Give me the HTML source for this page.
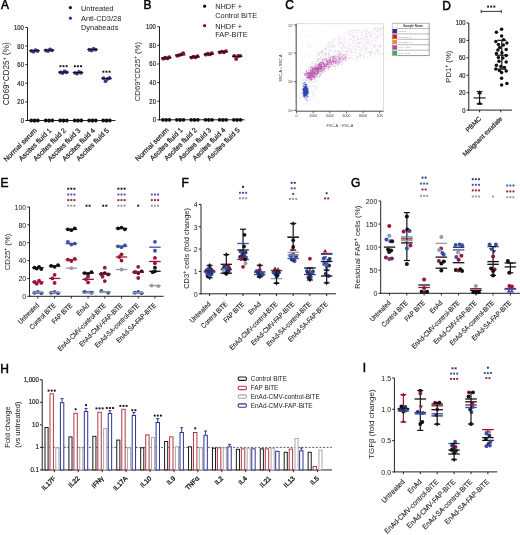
<!DOCTYPE html>
<html><head><meta charset="utf-8"><title>Figure</title>
<style>
html,body{margin:0;padding:0;background:#fff;width:520px;height:535px;overflow:hidden}
svg{display:block;font-family:"Liberation Sans",sans-serif;will-change:transform}
</style></head><body>
<svg width="520" height="535" viewBox="0 0 520 535">
<rect width="520" height="535" fill="#fff"/>
<text transform="translate(0.9 9.2) scale(0.9 1)" font-size="13.3" fill="#000" stroke="#000" stroke-width="0.55">A</text>
<line x1="27.5" y1="27.4" x2="27.5" y2="121" stroke="#222" stroke-width="1"/>
<line x1="25.3" y1="120.5" x2="27.5" y2="120.5" stroke="#222" stroke-width="1"/>
<text transform="translate(23.9 123.02) scale(0.84 1)" font-size="7" text-anchor="end" fill="#222" stroke="#222" stroke-width="0.18">0</text>
<line x1="25.3" y1="101.88" x2="27.5" y2="101.88" stroke="#222" stroke-width="1"/>
<text transform="translate(23.9 104.4) scale(0.84 1)" font-size="7" text-anchor="end" fill="#222" stroke="#222" stroke-width="0.18">20</text>
<line x1="25.3" y1="83.26" x2="27.5" y2="83.26" stroke="#222" stroke-width="1"/>
<text transform="translate(23.9 85.78) scale(0.84 1)" font-size="7" text-anchor="end" fill="#222" stroke="#222" stroke-width="0.18">40</text>
<line x1="25.3" y1="64.64" x2="27.5" y2="64.64" stroke="#222" stroke-width="1"/>
<text transform="translate(23.9 67.16) scale(0.84 1)" font-size="7" text-anchor="end" fill="#222" stroke="#222" stroke-width="0.18">60</text>
<line x1="25.3" y1="46.02" x2="27.5" y2="46.02" stroke="#222" stroke-width="1"/>
<text transform="translate(23.9 48.54) scale(0.84 1)" font-size="7" text-anchor="end" fill="#222" stroke="#222" stroke-width="0.18">80</text>
<line x1="25.3" y1="27.4" x2="27.5" y2="27.4" stroke="#222" stroke-width="1"/>
<text transform="translate(23.9 29.92) scale(0.84 1)" font-size="7" text-anchor="end" fill="#222" stroke="#222" stroke-width="0.18">100</text>
<line x1="27" y1="120.5" x2="115.5" y2="120.5" stroke="#222" stroke-width="1"/>
<line x1="34.5" y1="120.5" x2="34.5" y2="122.7" stroke="#222" stroke-width="1"/>
<line x1="49" y1="120.5" x2="49" y2="122.7" stroke="#222" stroke-width="1"/>
<line x1="63.5" y1="120.5" x2="63.5" y2="122.7" stroke="#222" stroke-width="1"/>
<line x1="78" y1="120.5" x2="78" y2="122.7" stroke="#222" stroke-width="1"/>
<line x1="92.5" y1="120.5" x2="92.5" y2="122.7" stroke="#222" stroke-width="1"/>
<line x1="106.5" y1="120.5" x2="106.5" y2="122.7" stroke="#222" stroke-width="1"/>
<text x="37.5" y="130.9" font-size="7" text-anchor="end" fill="#222" transform="rotate(-45 37.5 130.9)" stroke="#222" stroke-width="0.22">Normal serum</text>
<text x="52" y="130.9" font-size="7" text-anchor="end" fill="#222" transform="rotate(-45 52 130.9)" stroke="#222" stroke-width="0.22">Ascites fluid 1</text>
<text x="66.5" y="130.9" font-size="7" text-anchor="end" fill="#222" transform="rotate(-45 66.5 130.9)" stroke="#222" stroke-width="0.22">Ascites fluid 2</text>
<text x="81" y="130.9" font-size="7" text-anchor="end" fill="#222" transform="rotate(-45 81 130.9)" stroke="#222" stroke-width="0.22">Ascites fluid 3</text>
<text x="95.5" y="130.9" font-size="7" text-anchor="end" fill="#222" transform="rotate(-45 95.5 130.9)" stroke="#222" stroke-width="0.22">Ascites fluid 4</text>
<text x="109.5" y="130.9" font-size="7" text-anchor="end" fill="#222" transform="rotate(-45 109.5 130.9)" stroke="#222" stroke-width="0.22">Ascites fluid 5</text>
<text x="8.9" y="73.8" font-size="8.2" text-anchor="middle" fill="#222" transform="rotate(-90 8.9 73.8)">CD69<tspan font-size="5.3" dy="-2.7">+</tspan><tspan dy="2.7">CD25</tspan><tspan font-size="5.3" dy="-2.7">+</tspan><tspan dy="2.7"> (%)</tspan></text>
<circle cx="31.2" cy="120.5" r="1.9" fill="#111"/>
<circle cx="34.5" cy="120.5" r="1.9" fill="#111"/>
<circle cx="37.8" cy="120.5" r="1.9" fill="#111"/>
<circle cx="31.5" cy="50.97" r="1.9" fill="#35388a"/>
<circle cx="33.5" cy="51.67" r="1.9" fill="#35388a"/>
<circle cx="35.5" cy="50.07" r="1.9" fill="#35388a"/>
<circle cx="37.5" cy="50.88" r="1.9" fill="#35388a"/>
<line x1="29.25" y1="50.67" x2="39.75" y2="50.67" stroke="#111" stroke-width="1.1"/>
<circle cx="45.7" cy="120.5" r="1.9" fill="#111"/>
<circle cx="49" cy="120.5" r="1.9" fill="#111"/>
<circle cx="52.3" cy="120.5" r="1.9" fill="#111"/>
<circle cx="46" cy="50.42" r="1.9" fill="#35388a"/>
<circle cx="48" cy="51.12" r="1.9" fill="#35388a"/>
<circle cx="50" cy="49.52" r="1.9" fill="#35388a"/>
<circle cx="52" cy="50.32" r="1.9" fill="#35388a"/>
<line x1="43.75" y1="50.12" x2="54.25" y2="50.12" stroke="#111" stroke-width="1.1"/>
<circle cx="60.2" cy="120.5" r="1.9" fill="#111"/>
<circle cx="63.5" cy="120.5" r="1.9" fill="#111"/>
<circle cx="66.8" cy="120.5" r="1.9" fill="#111"/>
<circle cx="60.5" cy="72.39" r="1.9" fill="#35388a"/>
<circle cx="62.5" cy="73.09" r="1.9" fill="#35388a"/>
<circle cx="64.5" cy="71.49" r="1.9" fill="#35388a"/>
<circle cx="66.5" cy="72.29" r="1.9" fill="#35388a"/>
<line x1="58.25" y1="72.09" x2="68.75" y2="72.09" stroke="#111" stroke-width="1.1"/>
<circle cx="74.7" cy="120.5" r="1.9" fill="#111"/>
<circle cx="78" cy="120.5" r="1.9" fill="#111"/>
<circle cx="81.3" cy="120.5" r="1.9" fill="#111"/>
<circle cx="75" cy="72.85" r="1.9" fill="#35388a"/>
<circle cx="77" cy="73.55" r="1.9" fill="#35388a"/>
<circle cx="79" cy="71.95" r="1.9" fill="#35388a"/>
<circle cx="81" cy="72.75" r="1.9" fill="#35388a"/>
<line x1="72.75" y1="72.55" x2="83.25" y2="72.55" stroke="#111" stroke-width="1.1"/>
<circle cx="89.2" cy="120.5" r="1.9" fill="#111"/>
<circle cx="92.5" cy="120.5" r="1.9" fill="#111"/>
<circle cx="95.8" cy="120.5" r="1.9" fill="#111"/>
<circle cx="89.5" cy="49.76" r="1.9" fill="#35388a"/>
<circle cx="91.5" cy="50.46" r="1.9" fill="#35388a"/>
<circle cx="93.5" cy="48.86" r="1.9" fill="#35388a"/>
<circle cx="95.5" cy="49.66" r="1.9" fill="#35388a"/>
<line x1="87.25" y1="49.46" x2="97.75" y2="49.46" stroke="#111" stroke-width="1.1"/>
<circle cx="103.2" cy="120.5" r="1.9" fill="#111"/>
<circle cx="106.5" cy="120.5" r="1.9" fill="#111"/>
<circle cx="109.8" cy="120.5" r="1.9" fill="#111"/>
<circle cx="103.5" cy="78.1" r="1.9" fill="#35388a"/>
<circle cx="105.5" cy="81.2" r="1.9" fill="#35388a"/>
<circle cx="107.5" cy="78.9" r="1.9" fill="#35388a"/>
<circle cx="109.5" cy="78" r="1.9" fill="#35388a"/>
<line x1="101.25" y1="78.6" x2="111.75" y2="78.6" stroke="#111" stroke-width="1.1"/>
<rect x="59.45" y="65.25" width="1.9" height="1.9" fill="#111" stroke="none" stroke-width="1"/>
<rect x="62.55" y="65.25" width="1.9" height="1.9" fill="#111" stroke="none" stroke-width="1"/>
<rect x="65.65" y="65.25" width="1.9" height="1.9" fill="#111" stroke="none" stroke-width="1"/>
<rect x="73.95" y="65.25" width="1.9" height="1.9" fill="#111" stroke="none" stroke-width="1"/>
<rect x="77.05" y="65.25" width="1.9" height="1.9" fill="#111" stroke="none" stroke-width="1"/>
<rect x="80.15" y="65.25" width="1.9" height="1.9" fill="#111" stroke="none" stroke-width="1"/>
<rect x="102.45" y="70.75" width="1.9" height="1.9" fill="#111" stroke="none" stroke-width="1"/>
<rect x="105.55" y="70.75" width="1.9" height="1.9" fill="#111" stroke="none" stroke-width="1"/>
<rect x="108.65" y="70.75" width="1.9" height="1.9" fill="#111" stroke="none" stroke-width="1"/>
<circle cx="70.4" cy="7.6" r="1.6" fill="#111"/>
<text x="81" y="10.6" font-size="7.4" fill="#222">Untreated</text>
<circle cx="70.4" cy="18.2" r="1.6" fill="#35388a"/>
<text x="81" y="21.2" font-size="7.4" fill="#222">Anti-CD3/28</text>
<text x="81" y="29.9" font-size="7.4" fill="#222">Dynabeads</text>
<text transform="translate(143.5 8.9) scale(0.9 1)" font-size="13.3" fill="#000" stroke="#000" stroke-width="0.55">B</text>
<line x1="159.5" y1="26.7" x2="159.5" y2="120.3" stroke="#222" stroke-width="1"/>
<line x1="157.3" y1="119.8" x2="159.5" y2="119.8" stroke="#222" stroke-width="1"/>
<text transform="translate(155.9 122.32) scale(0.84 1)" font-size="7" text-anchor="end" fill="#222" stroke="#222" stroke-width="0.18">0</text>
<line x1="157.3" y1="101.18" x2="159.5" y2="101.18" stroke="#222" stroke-width="1"/>
<text transform="translate(155.9 103.7) scale(0.84 1)" font-size="7" text-anchor="end" fill="#222" stroke="#222" stroke-width="0.18">20</text>
<line x1="157.3" y1="82.56" x2="159.5" y2="82.56" stroke="#222" stroke-width="1"/>
<text transform="translate(155.9 85.08) scale(0.84 1)" font-size="7" text-anchor="end" fill="#222" stroke="#222" stroke-width="0.18">40</text>
<line x1="157.3" y1="63.94" x2="159.5" y2="63.94" stroke="#222" stroke-width="1"/>
<text transform="translate(155.9 66.46) scale(0.84 1)" font-size="7" text-anchor="end" fill="#222" stroke="#222" stroke-width="0.18">60</text>
<line x1="157.3" y1="45.32" x2="159.5" y2="45.32" stroke="#222" stroke-width="1"/>
<text transform="translate(155.9 47.84) scale(0.84 1)" font-size="7" text-anchor="end" fill="#222" stroke="#222" stroke-width="0.18">80</text>
<line x1="157.3" y1="26.7" x2="159.5" y2="26.7" stroke="#222" stroke-width="1"/>
<text transform="translate(155.9 29.22) scale(0.84 1)" font-size="7" text-anchor="end" fill="#222" stroke="#222" stroke-width="0.18">100</text>
<line x1="159" y1="119.8" x2="244.6" y2="119.8" stroke="#222" stroke-width="1"/>
<line x1="166.2" y1="119.8" x2="166.2" y2="122" stroke="#222" stroke-width="1"/>
<line x1="180.2" y1="119.8" x2="180.2" y2="122" stroke="#222" stroke-width="1"/>
<line x1="194.5" y1="119.8" x2="194.5" y2="122" stroke="#222" stroke-width="1"/>
<line x1="208.8" y1="119.8" x2="208.8" y2="122" stroke="#222" stroke-width="1"/>
<line x1="222.9" y1="119.8" x2="222.9" y2="122" stroke="#222" stroke-width="1"/>
<line x1="237.2" y1="119.8" x2="237.2" y2="122" stroke="#222" stroke-width="1"/>
<text x="169.2" y="130.4" font-size="7" text-anchor="end" fill="#222" transform="rotate(-45 169.2 130.4)" stroke="#222" stroke-width="0.22">Normal serum</text>
<text x="183.2" y="130.4" font-size="7" text-anchor="end" fill="#222" transform="rotate(-45 183.2 130.4)" stroke="#222" stroke-width="0.22">Ascites fluid 1</text>
<text x="197.5" y="130.4" font-size="7" text-anchor="end" fill="#222" transform="rotate(-45 197.5 130.4)" stroke="#222" stroke-width="0.22">Ascites fluid 2</text>
<text x="211.8" y="130.4" font-size="7" text-anchor="end" fill="#222" transform="rotate(-45 211.8 130.4)" stroke="#222" stroke-width="0.22">Ascites fluid 3</text>
<text x="225.9" y="130.4" font-size="7" text-anchor="end" fill="#222" transform="rotate(-45 225.9 130.4)" stroke="#222" stroke-width="0.22">Ascites fluid 4</text>
<text x="240.2" y="130.4" font-size="7" text-anchor="end" fill="#222" transform="rotate(-45 240.2 130.4)" stroke="#222" stroke-width="0.22">Ascites fluid 5</text>
<text x="139.8" y="71.6" font-size="7.7" text-anchor="middle" fill="#222" transform="rotate(-90 139.8 71.6)">CD69<tspan font-size="5" dy="-2.5">+</tspan><tspan dy="2.5">CD25</tspan><tspan font-size="5" dy="-2.5">+</tspan><tspan dy="2.5"> (%)</tspan></text>
<circle cx="162.9" cy="119.8" r="1.9" fill="#111"/>
<circle cx="166.2" cy="119.8" r="1.9" fill="#111"/>
<circle cx="169.5" cy="119.8" r="1.9" fill="#111"/>
<circle cx="163.2" cy="58.67" r="1.9" fill="#7e1426"/>
<circle cx="165.2" cy="57.77" r="1.9" fill="#7e1426"/>
<circle cx="167.2" cy="58.47" r="1.9" fill="#7e1426"/>
<circle cx="169.2" cy="57.27" r="1.9" fill="#7e1426"/>
<line x1="160.95" y1="58.07" x2="171.45" y2="58.07" stroke="#111" stroke-width="1.1"/>
<circle cx="176.9" cy="119.8" r="1.9" fill="#111"/>
<circle cx="180.2" cy="119.8" r="1.9" fill="#111"/>
<circle cx="183.5" cy="119.8" r="1.9" fill="#111"/>
<circle cx="177.2" cy="55.8" r="1.9" fill="#7e1426"/>
<circle cx="179.2" cy="55.2" r="1.9" fill="#7e1426"/>
<circle cx="181.2" cy="54.4" r="1.9" fill="#7e1426"/>
<circle cx="183.2" cy="53.2" r="1.9" fill="#7e1426"/>
<line x1="174.95" y1="55" x2="185.45" y2="55" stroke="#111" stroke-width="1.1"/>
<circle cx="191.2" cy="119.8" r="1.9" fill="#111"/>
<circle cx="194.5" cy="119.8" r="1.9" fill="#111"/>
<circle cx="197.8" cy="119.8" r="1.9" fill="#111"/>
<circle cx="191.5" cy="57.56" r="1.9" fill="#7e1426"/>
<circle cx="193.5" cy="56.66" r="1.9" fill="#7e1426"/>
<circle cx="195.5" cy="57.36" r="1.9" fill="#7e1426"/>
<circle cx="197.5" cy="56.16" r="1.9" fill="#7e1426"/>
<line x1="189.25" y1="56.96" x2="199.75" y2="56.96" stroke="#111" stroke-width="1.1"/>
<circle cx="205.5" cy="119.8" r="1.9" fill="#111"/>
<circle cx="208.8" cy="119.8" r="1.9" fill="#111"/>
<circle cx="212.1" cy="119.8" r="1.9" fill="#111"/>
<circle cx="205.8" cy="54.67" r="1.9" fill="#7e1426"/>
<circle cx="207.8" cy="53.77" r="1.9" fill="#7e1426"/>
<circle cx="209.8" cy="54.47" r="1.9" fill="#7e1426"/>
<circle cx="211.8" cy="53.27" r="1.9" fill="#7e1426"/>
<line x1="203.55" y1="54.07" x2="214.05" y2="54.07" stroke="#111" stroke-width="1.1"/>
<circle cx="219.6" cy="119.8" r="1.9" fill="#111"/>
<circle cx="222.9" cy="119.8" r="1.9" fill="#111"/>
<circle cx="226.2" cy="119.8" r="1.9" fill="#111"/>
<circle cx="219.9" cy="52.44" r="1.9" fill="#7e1426"/>
<circle cx="221.9" cy="51.54" r="1.9" fill="#7e1426"/>
<circle cx="223.9" cy="52.24" r="1.9" fill="#7e1426"/>
<circle cx="225.9" cy="51.04" r="1.9" fill="#7e1426"/>
<line x1="217.65" y1="51.84" x2="228.15" y2="51.84" stroke="#111" stroke-width="1.1"/>
<circle cx="233.9" cy="119.8" r="1.9" fill="#111"/>
<circle cx="237.2" cy="119.8" r="1.9" fill="#111"/>
<circle cx="240.5" cy="119.8" r="1.9" fill="#111"/>
<circle cx="234.2" cy="55.91" r="1.9" fill="#7e1426"/>
<circle cx="236.2" cy="58.91" r="1.9" fill="#7e1426"/>
<circle cx="238.2" cy="56.01" r="1.9" fill="#7e1426"/>
<circle cx="240.2" cy="55.81" r="1.9" fill="#7e1426"/>
<line x1="231.95" y1="56.31" x2="242.45" y2="56.31" stroke="#111" stroke-width="1.1"/>
<circle cx="204.6" cy="6.2" r="1.6" fill="#111"/>
<text x="215.2" y="9.3" font-size="7.4" fill="#222">NHDF +</text>
<text x="215.2" y="17.8" font-size="7.4" fill="#222">Control BiTE</text>
<circle cx="204.6" cy="25.7" r="1.6" fill="#7e1426"/>
<text x="215.2" y="28.8" font-size="7.4" fill="#222">NHDF +</text>
<text x="215.2" y="37.4" font-size="7.4" fill="#222">FAP-BiTE</text>
<text transform="translate(285.2 8.9) scale(0.9 1)" font-size="13.3" fill="#000" stroke="#000" stroke-width="0.55">C</text>
<rect x="296.2" y="23.8" width="87.3" height="87.4" fill="#fff" stroke="#c8c8c8" stroke-width="0.6"/>
<line x1="296.2" y1="23.8" x2="296.2" y2="111.2" stroke="#333" stroke-width="0.8"/>
<line x1="296.2" y1="111.2" x2="383.5" y2="111.2" stroke="#333" stroke-width="0.8"/>
<line x1="294.2" y1="25" x2="296.2" y2="25" stroke="#333" stroke-width="0.8"/>
<text x="293.2" y="26.6" font-size="3.5" text-anchor="end" fill="#444">10<tspan font-size="2.5" dy="-1.5">5</tspan></text>
<line x1="294.2" y1="53" x2="296.2" y2="53" stroke="#333" stroke-width="0.8"/>
<text x="293.2" y="54.6" font-size="3.5" text-anchor="end" fill="#444">10<tspan font-size="2.5" dy="-1.5">4</tspan></text>
<line x1="294.2" y1="81.6" x2="296.2" y2="81.6" stroke="#333" stroke-width="0.8"/>
<text x="293.2" y="83.2" font-size="3.5" text-anchor="end" fill="#444">10<tspan font-size="2.5" dy="-1.5">3</tspan></text>
<line x1="294.2" y1="110.4" x2="296.2" y2="110.4" stroke="#333" stroke-width="0.8"/>
<text x="293.2" y="112" font-size="3.5" text-anchor="end" fill="#444">10<tspan font-size="2.5" dy="-1.5">2</tspan></text>
<line x1="295.2" y1="101.82" x2="296.2" y2="101.82" stroke="#666" stroke-width="0.4"/>
<line x1="295.2" y1="96.8" x2="296.2" y2="96.8" stroke="#666" stroke-width="0.4"/>
<line x1="295.2" y1="93.24" x2="296.2" y2="93.24" stroke="#666" stroke-width="0.4"/>
<line x1="295.2" y1="90.48" x2="296.2" y2="90.48" stroke="#666" stroke-width="0.4"/>
<line x1="295.2" y1="88.22" x2="296.2" y2="88.22" stroke="#666" stroke-width="0.4"/>
<line x1="295.2" y1="86.31" x2="296.2" y2="86.31" stroke="#666" stroke-width="0.4"/>
<line x1="295.2" y1="84.66" x2="296.2" y2="84.66" stroke="#666" stroke-width="0.4"/>
<line x1="295.2" y1="83.2" x2="296.2" y2="83.2" stroke="#666" stroke-width="0.4"/>
<line x1="295.2" y1="73.32" x2="296.2" y2="73.32" stroke="#666" stroke-width="0.4"/>
<line x1="295.2" y1="68.3" x2="296.2" y2="68.3" stroke="#666" stroke-width="0.4"/>
<line x1="295.2" y1="64.74" x2="296.2" y2="64.74" stroke="#666" stroke-width="0.4"/>
<line x1="295.2" y1="61.98" x2="296.2" y2="61.98" stroke="#666" stroke-width="0.4"/>
<line x1="295.2" y1="59.72" x2="296.2" y2="59.72" stroke="#666" stroke-width="0.4"/>
<line x1="295.2" y1="57.81" x2="296.2" y2="57.81" stroke="#666" stroke-width="0.4"/>
<line x1="295.2" y1="56.16" x2="296.2" y2="56.16" stroke="#666" stroke-width="0.4"/>
<line x1="295.2" y1="54.7" x2="296.2" y2="54.7" stroke="#666" stroke-width="0.4"/>
<line x1="295.2" y1="44.82" x2="296.2" y2="44.82" stroke="#666" stroke-width="0.4"/>
<line x1="295.2" y1="39.8" x2="296.2" y2="39.8" stroke="#666" stroke-width="0.4"/>
<line x1="295.2" y1="36.24" x2="296.2" y2="36.24" stroke="#666" stroke-width="0.4"/>
<line x1="295.2" y1="33.48" x2="296.2" y2="33.48" stroke="#666" stroke-width="0.4"/>
<line x1="295.2" y1="31.22" x2="296.2" y2="31.22" stroke="#666" stroke-width="0.4"/>
<line x1="295.2" y1="29.31" x2="296.2" y2="29.31" stroke="#666" stroke-width="0.4"/>
<line x1="295.2" y1="27.66" x2="296.2" y2="27.66" stroke="#666" stroke-width="0.4"/>
<line x1="295.2" y1="26.2" x2="296.2" y2="26.2" stroke="#666" stroke-width="0.4"/>
<line x1="296.6" y1="111.2" x2="296.6" y2="113.2" stroke="#333" stroke-width="0.8"/>
<text x="296.6" y="117.2" font-size="3.6" text-anchor="middle" fill="#444">0</text>
<line x1="313.2" y1="111.2" x2="313.2" y2="113.2" stroke="#333" stroke-width="0.8"/>
<text x="313.2" y="117.2" font-size="3.6" text-anchor="middle" fill="#444">2000</text>
<line x1="329.8" y1="111.2" x2="329.8" y2="113.2" stroke="#333" stroke-width="0.8"/>
<text x="329.8" y="117.2" font-size="3.6" text-anchor="middle" fill="#444">4000</text>
<line x1="346.4" y1="111.2" x2="346.4" y2="113.2" stroke="#333" stroke-width="0.8"/>
<text x="346.4" y="117.2" font-size="3.6" text-anchor="middle" fill="#444">6000</text>
<line x1="363" y1="111.2" x2="363" y2="113.2" stroke="#333" stroke-width="0.8"/>
<text x="363" y="117.2" font-size="3.6" text-anchor="middle" fill="#444">8000</text>
<line x1="379.6" y1="111.2" x2="379.6" y2="113.2" stroke="#333" stroke-width="0.8"/>
<text x="379.6" y="117.2" font-size="3.6" text-anchor="middle" fill="#444">10K</text>
<text x="340" y="126.5" font-size="3.8" text-anchor="middle" fill="#444">FSC-A :: FSC-A</text>
<text x="281.5" y="68" font-size="3.8" text-anchor="middle" fill="#222" transform="rotate(-90 281.5 68)">SSC-A :: SSC-A</text>
<g stroke="none">
<rect x="356.45" y="58.78" width="0.9" height="0.9" fill="#c8a8c8" fill-opacity="0.38"/>
<rect x="375.84" y="31.22" width="0.9" height="0.9" fill="#c8a8c8" fill-opacity="0.38"/>
<rect x="367.26" y="51.44" width="0.9" height="0.9" fill="#c8a8c8" fill-opacity="0.38"/>
<rect x="326.13" y="54.35" width="0.9" height="0.9" fill="#c8a8c8" fill-opacity="0.38"/>
<rect x="332.07" y="59.91" width="0.9" height="0.9" fill="#c8a8c8" fill-opacity="0.38"/>
<rect x="374.18" y="52.61" width="0.9" height="0.9" fill="#c8a8c8" fill-opacity="0.38"/>
<rect x="306.69" y="83.31" width="0.9" height="0.9" fill="#c8a8c8" fill-opacity="0.38"/>
<rect x="370.49" y="34.96" width="0.9" height="0.9" fill="#c8a8c8" fill-opacity="0.38"/>
<rect x="368.78" y="40.63" width="0.9" height="0.9" fill="#c8a8c8" fill-opacity="0.38"/>
<rect x="344.87" y="59.98" width="0.9" height="0.9" fill="#c8a8c8" fill-opacity="0.38"/>
<rect x="332.29" y="64.38" width="0.9" height="0.9" fill="#c8a8c8" fill-opacity="0.38"/>
<rect x="330.36" y="49.82" width="0.9" height="0.9" fill="#c8a8c8" fill-opacity="0.38"/>
<rect x="328.5" y="66.42" width="0.9" height="0.9" fill="#c8a8c8" fill-opacity="0.38"/>
<rect x="343.16" y="44.54" width="0.9" height="0.9" fill="#c8a8c8" fill-opacity="0.38"/>
<rect x="347.6" y="41.67" width="0.9" height="0.9" fill="#c8a8c8" fill-opacity="0.38"/>
<rect x="351.22" y="52.27" width="0.9" height="0.9" fill="#c8a8c8" fill-opacity="0.38"/>
<rect x="368.47" y="40.53" width="0.9" height="0.9" fill="#c8a8c8" fill-opacity="0.38"/>
<rect x="356.24" y="40.21" width="0.9" height="0.9" fill="#c8a8c8" fill-opacity="0.38"/>
<rect x="382.23" y="38.34" width="0.9" height="0.9" fill="#c8a8c8" fill-opacity="0.38"/>
<rect x="325.33" y="48.18" width="0.9" height="0.9" fill="#c8a8c8" fill-opacity="0.38"/>
<rect x="320.82" y="50.6" width="0.9" height="0.9" fill="#c8a8c8" fill-opacity="0.38"/>
<rect x="355.53" y="51.52" width="0.9" height="0.9" fill="#c8a8c8" fill-opacity="0.38"/>
<rect x="310.62" y="72.71" width="0.9" height="0.9" fill="#c8a8c8" fill-opacity="0.38"/>
<rect x="309.83" y="75.37" width="0.9" height="0.9" fill="#c8a8c8" fill-opacity="0.38"/>
<rect x="348.37" y="54.47" width="0.9" height="0.9" fill="#c8a8c8" fill-opacity="0.38"/>
<rect x="344.74" y="38.56" width="0.9" height="0.9" fill="#c8a8c8" fill-opacity="0.38"/>
<rect x="377.24" y="33.28" width="0.9" height="0.9" fill="#c8a8c8" fill-opacity="0.38"/>
<rect x="356.75" y="36.85" width="0.9" height="0.9" fill="#c8a8c8" fill-opacity="0.38"/>
<rect x="348.31" y="39.18" width="0.9" height="0.9" fill="#c8a8c8" fill-opacity="0.38"/>
<rect x="347.03" y="53.69" width="0.9" height="0.9" fill="#c8a8c8" fill-opacity="0.38"/>
<rect x="327.91" y="51.91" width="0.9" height="0.9" fill="#c8a8c8" fill-opacity="0.38"/>
<rect x="307.42" y="72.71" width="0.9" height="0.9" fill="#c8a8c8" fill-opacity="0.38"/>
<rect x="323.47" y="62.02" width="0.9" height="0.9" fill="#c8a8c8" fill-opacity="0.38"/>
<rect x="361.28" y="33.6" width="0.9" height="0.9" fill="#c8a8c8" fill-opacity="0.38"/>
<rect x="324.14" y="48.48" width="0.9" height="0.9" fill="#c8a8c8" fill-opacity="0.38"/>
<rect x="337.43" y="55.43" width="0.9" height="0.9" fill="#c8a8c8" fill-opacity="0.38"/>
<rect x="306.5" y="80.09" width="0.9" height="0.9" fill="#c8a8c8" fill-opacity="0.38"/>
<rect x="371.12" y="35.77" width="0.9" height="0.9" fill="#c8a8c8" fill-opacity="0.38"/>
<rect x="320.34" y="64.29" width="0.9" height="0.9" fill="#c8a8c8" fill-opacity="0.38"/>
<rect x="329.51" y="41.41" width="0.9" height="0.9" fill="#c8a8c8" fill-opacity="0.38"/>
<rect x="374.66" y="38.48" width="0.9" height="0.9" fill="#c8a8c8" fill-opacity="0.38"/>
<rect x="347.99" y="47.73" width="0.9" height="0.9" fill="#c8a8c8" fill-opacity="0.38"/>
<rect x="372.32" y="34.39" width="0.9" height="0.9" fill="#c8a8c8" fill-opacity="0.38"/>
<rect x="357.51" y="38.9" width="0.9" height="0.9" fill="#c8a8c8" fill-opacity="0.38"/>
<rect x="364.85" y="45.79" width="0.9" height="0.9" fill="#c8a8c8" fill-opacity="0.38"/>
<rect x="314.95" y="68.35" width="0.9" height="0.9" fill="#c8a8c8" fill-opacity="0.38"/>
<rect x="350.31" y="33.75" width="0.9" height="0.9" fill="#c8a8c8" fill-opacity="0.38"/>
<rect x="347.84" y="51.73" width="0.9" height="0.9" fill="#c8a8c8" fill-opacity="0.38"/>
<rect x="374.02" y="29.19" width="0.9" height="0.9" fill="#c8a8c8" fill-opacity="0.38"/>
<rect x="336.8" y="63.53" width="0.9" height="0.9" fill="#c8a8c8" fill-opacity="0.38"/>
<rect x="354.49" y="34.8" width="0.9" height="0.9" fill="#c8a8c8" fill-opacity="0.38"/>
<rect x="312.05" y="65.49" width="0.9" height="0.9" fill="#c8a8c8" fill-opacity="0.38"/>
<rect x="338.81" y="40.43" width="0.9" height="0.9" fill="#c8a8c8" fill-opacity="0.38"/>
<rect x="333.85" y="65.14" width="0.9" height="0.9" fill="#c8a8c8" fill-opacity="0.38"/>
<rect x="319.98" y="56.57" width="0.9" height="0.9" fill="#c8a8c8" fill-opacity="0.38"/>
<rect x="370.15" y="44.91" width="0.9" height="0.9" fill="#c8a8c8" fill-opacity="0.38"/>
<rect x="338.19" y="63.66" width="0.9" height="0.9" fill="#c8a8c8" fill-opacity="0.38"/>
<rect x="381.53" y="53.03" width="0.9" height="0.9" fill="#c8a8c8" fill-opacity="0.38"/>
<rect x="353.89" y="29.96" width="0.9" height="0.9" fill="#c8a8c8" fill-opacity="0.38"/>
<rect x="354.99" y="44.49" width="0.9" height="0.9" fill="#c8a8c8" fill-opacity="0.38"/>
<rect x="357.38" y="46.6" width="0.9" height="0.9" fill="#c8a8c8" fill-opacity="0.38"/>
<rect x="360.16" y="49.25" width="0.9" height="0.9" fill="#c8a8c8" fill-opacity="0.38"/>
<rect x="320.03" y="57.65" width="0.9" height="0.9" fill="#c8a8c8" fill-opacity="0.38"/>
<rect x="342.8" y="42.37" width="0.9" height="0.9" fill="#c8a8c8" fill-opacity="0.38"/>
<rect x="327.28" y="42.83" width="0.9" height="0.9" fill="#c8a8c8" fill-opacity="0.38"/>
<rect x="339.95" y="35.06" width="0.9" height="0.9" fill="#c8a8c8" fill-opacity="0.38"/>
<rect x="315.41" y="67.04" width="0.9" height="0.9" fill="#c8a8c8" fill-opacity="0.38"/>
<rect x="380.77" y="28.43" width="0.9" height="0.9" fill="#c8a8c8" fill-opacity="0.38"/>
<rect x="325.31" y="49.78" width="0.9" height="0.9" fill="#c8a8c8" fill-opacity="0.38"/>
<rect x="359.83" y="38.18" width="0.9" height="0.9" fill="#c8a8c8" fill-opacity="0.38"/>
<rect x="332.09" y="39.93" width="0.9" height="0.9" fill="#c8a8c8" fill-opacity="0.38"/>
<rect x="374.22" y="27.75" width="0.9" height="0.9" fill="#c8a8c8" fill-opacity="0.38"/>
<rect x="359.14" y="56.18" width="0.9" height="0.9" fill="#c8a8c8" fill-opacity="0.38"/>
<rect x="318.41" y="61.24" width="0.9" height="0.9" fill="#c8a8c8" fill-opacity="0.38"/>
<rect x="372.18" y="32.99" width="0.9" height="0.9" fill="#c8a8c8" fill-opacity="0.38"/>
<rect x="379.17" y="46.56" width="0.9" height="0.9" fill="#c8a8c8" fill-opacity="0.38"/>
<rect x="376.31" y="26.95" width="0.9" height="0.9" fill="#c8a8c8" fill-opacity="0.38"/>
<rect x="352.41" y="36.33" width="0.9" height="0.9" fill="#c8a8c8" fill-opacity="0.38"/>
<rect x="319.58" y="72.21" width="0.9" height="0.9" fill="#c8a8c8" fill-opacity="0.38"/>
<rect x="323.47" y="68.38" width="0.9" height="0.9" fill="#c8a8c8" fill-opacity="0.38"/>
<rect x="377.99" y="44.67" width="0.9" height="0.9" fill="#c8a8c8" fill-opacity="0.38"/>
<rect x="351.13" y="31.78" width="0.9" height="0.9" fill="#c8a8c8" fill-opacity="0.38"/>
<rect x="322.5" y="55.11" width="0.9" height="0.9" fill="#c8a8c8" fill-opacity="0.38"/>
<rect x="374.92" y="27.61" width="0.9" height="0.9" fill="#c8a8c8" fill-opacity="0.38"/>
<rect x="357.64" y="34.97" width="0.9" height="0.9" fill="#c8a8c8" fill-opacity="0.38"/>
<rect x="352.41" y="29.57" width="0.9" height="0.9" fill="#c8a8c8" fill-opacity="0.38"/>
<rect x="337.95" y="38.68" width="0.9" height="0.9" fill="#c8a8c8" fill-opacity="0.38"/>
<rect x="340.59" y="52.34" width="0.9" height="0.9" fill="#c8a8c8" fill-opacity="0.38"/>
<rect x="327.27" y="45.34" width="0.9" height="0.9" fill="#c8a8c8" fill-opacity="0.38"/>
<rect x="310.06" y="66.51" width="0.9" height="0.9" fill="#c8a8c8" fill-opacity="0.38"/>
<rect x="374.37" y="52.9" width="0.9" height="0.9" fill="#c8a8c8" fill-opacity="0.38"/>
<rect x="344.86" y="41.68" width="0.9" height="0.9" fill="#c8a8c8" fill-opacity="0.38"/>
<rect x="350.79" y="39.23" width="0.9" height="0.9" fill="#c8a8c8" fill-opacity="0.38"/>
<rect x="333.78" y="39.56" width="0.9" height="0.9" fill="#c8a8c8" fill-opacity="0.38"/>
<rect x="365.53" y="51.21" width="0.9" height="0.9" fill="#c8a8c8" fill-opacity="0.38"/>
<rect x="308.8" y="76.53" width="0.9" height="0.9" fill="#c8a8c8" fill-opacity="0.38"/>
<rect x="337.64" y="51.02" width="0.9" height="0.9" fill="#c8a8c8" fill-opacity="0.38"/>
<rect x="309.31" y="75.04" width="0.9" height="0.9" fill="#c8a8c8" fill-opacity="0.38"/>
<rect x="317.67" y="54.68" width="0.9" height="0.9" fill="#c8a8c8" fill-opacity="0.38"/>
<rect x="380.72" y="33.65" width="0.9" height="0.9" fill="#c8a8c8" fill-opacity="0.38"/>
<rect x="358.81" y="45.86" width="0.9" height="0.9" fill="#c8a8c8" fill-opacity="0.38"/>
<rect x="341.89" y="61.29" width="0.9" height="0.9" fill="#c8a8c8" fill-opacity="0.38"/>
<rect x="349.02" y="54.69" width="0.9" height="0.9" fill="#c8a8c8" fill-opacity="0.38"/>
<rect x="374.13" y="45.37" width="0.9" height="0.9" fill="#c8a8c8" fill-opacity="0.38"/>
<rect x="335.49" y="51.08" width="0.9" height="0.9" fill="#c8a8c8" fill-opacity="0.38"/>
<rect x="353.91" y="29.12" width="0.9" height="0.9" fill="#c8a8c8" fill-opacity="0.38"/>
<rect x="360.68" y="54.83" width="0.9" height="0.9" fill="#c8a8c8" fill-opacity="0.38"/>
<rect x="336.35" y="37.75" width="0.9" height="0.9" fill="#c8a8c8" fill-opacity="0.38"/>
<rect x="348.68" y="33.63" width="0.9" height="0.9" fill="#c8a8c8" fill-opacity="0.38"/>
<rect x="366.52" y="48.02" width="0.9" height="0.9" fill="#c8a8c8" fill-opacity="0.38"/>
<rect x="376.68" y="49.91" width="0.9" height="0.9" fill="#c8a8c8" fill-opacity="0.38"/>
<rect x="320.05" y="67.94" width="0.9" height="0.9" fill="#c8a8c8" fill-opacity="0.38"/>
<rect x="378.37" y="39.39" width="0.9" height="0.9" fill="#c8a8c8" fill-opacity="0.38"/>
<rect x="306.67" y="71.55" width="0.9" height="0.9" fill="#c8a8c8" fill-opacity="0.38"/>
<rect x="365.65" y="28.66" width="0.9" height="0.9" fill="#c8a8c8" fill-opacity="0.38"/>
<rect x="369.74" y="52.17" width="0.9" height="0.9" fill="#c8a8c8" fill-opacity="0.38"/>
<rect x="318.85" y="73.02" width="0.9" height="0.9" fill="#c8a8c8" fill-opacity="0.38"/>
<rect x="341.19" y="40.62" width="0.9" height="0.9" fill="#c8a8c8" fill-opacity="0.38"/>
<rect x="370.07" y="52.54" width="0.9" height="0.9" fill="#c8a8c8" fill-opacity="0.38"/>
<rect x="307.68" y="73.57" width="0.9" height="0.9" fill="#c8a8c8" fill-opacity="0.38"/>
<rect x="356.69" y="37.88" width="0.9" height="0.9" fill="#c8a8c8" fill-opacity="0.38"/>
<rect x="368.5" y="42.2" width="0.9" height="0.9" fill="#c8a8c8" fill-opacity="0.38"/>
<rect x="348.23" y="30.14" width="0.9" height="0.9" fill="#c8a8c8" fill-opacity="0.38"/>
<rect x="363.71" y="40.98" width="0.9" height="0.9" fill="#c8a8c8" fill-opacity="0.38"/>
<rect x="326.23" y="48.87" width="0.9" height="0.9" fill="#c8a8c8" fill-opacity="0.38"/>
<rect x="323.97" y="63.53" width="0.9" height="0.9" fill="#c8a8c8" fill-opacity="0.38"/>
<rect x="336.94" y="50.02" width="0.9" height="0.9" fill="#c8a8c8" fill-opacity="0.38"/>
<rect x="322.4" y="68.35" width="0.9" height="0.9" fill="#c8a8c8" fill-opacity="0.38"/>
<rect x="335.63" y="61.83" width="0.9" height="0.9" fill="#c8a8c8" fill-opacity="0.38"/>
<rect x="379.4" y="35.4" width="0.9" height="0.9" fill="#c8a8c8" fill-opacity="0.38"/>
<rect x="352.67" y="37.39" width="0.9" height="0.9" fill="#c8a8c8" fill-opacity="0.38"/>
<rect x="335.17" y="63.21" width="0.9" height="0.9" fill="#c8a8c8" fill-opacity="0.38"/>
<rect x="329.82" y="53.82" width="0.9" height="0.9" fill="#c8a8c8" fill-opacity="0.38"/>
<rect x="379.67" y="29.12" width="0.9" height="0.9" fill="#c8a8c8" fill-opacity="0.38"/>
<rect x="343.12" y="33.81" width="0.9" height="0.9" fill="#c8a8c8" fill-opacity="0.38"/>
<rect x="381.64" y="54.15" width="0.9" height="0.9" fill="#c8a8c8" fill-opacity="0.38"/>
<rect x="348.41" y="47.59" width="0.9" height="0.9" fill="#c8a8c8" fill-opacity="0.38"/>
<rect x="348.83" y="31.26" width="0.9" height="0.9" fill="#c8a8c8" fill-opacity="0.38"/>
<rect x="375.79" y="41.41" width="0.9" height="0.9" fill="#c8a8c8" fill-opacity="0.38"/>
<rect x="364.92" y="42.65" width="0.9" height="0.9" fill="#c8a8c8" fill-opacity="0.38"/>
<rect x="353.21" y="42.09" width="0.9" height="0.9" fill="#c8a8c8" fill-opacity="0.38"/>
<rect x="341.77" y="61.3" width="0.9" height="0.9" fill="#c8a8c8" fill-opacity="0.38"/>
<rect x="374.5" y="54.2" width="0.9" height="0.9" fill="#c8a8c8" fill-opacity="0.38"/>
<rect x="340.64" y="37.36" width="0.9" height="0.9" fill="#c8a8c8" fill-opacity="0.38"/>
<rect x="377.63" y="30.9" width="0.9" height="0.9" fill="#c8a8c8" fill-opacity="0.38"/>
<rect x="312.92" y="67.21" width="0.9" height="0.9" fill="#c8a8c8" fill-opacity="0.38"/>
<rect x="342.03" y="57.73" width="0.9" height="0.9" fill="#c8a8c8" fill-opacity="0.38"/>
<rect x="348.71" y="48.85" width="0.9" height="0.9" fill="#c8a8c8" fill-opacity="0.38"/>
<rect x="379.59" y="47.11" width="0.9" height="0.9" fill="#c8a8c8" fill-opacity="0.38"/>
<rect x="328.19" y="57" width="0.9" height="0.9" fill="#c8a8c8" fill-opacity="0.38"/>
<rect x="369.42" y="33.44" width="0.9" height="0.9" fill="#c8a8c8" fill-opacity="0.38"/>
<rect x="360.16" y="52.72" width="0.9" height="0.9" fill="#c8a8c8" fill-opacity="0.38"/>
<rect x="363.08" y="28.26" width="0.9" height="0.9" fill="#c8a8c8" fill-opacity="0.38"/>
<rect x="356.78" y="49.64" width="0.9" height="0.9" fill="#c8a8c8" fill-opacity="0.38"/>
<rect x="381.03" y="31.75" width="0.9" height="0.9" fill="#c8a8c8" fill-opacity="0.38"/>
<rect x="334.6" y="50.1" width="0.9" height="0.9" fill="#c8a8c8" fill-opacity="0.38"/>
<rect x="339.62" y="62.73" width="0.9" height="0.9" fill="#c8a8c8" fill-opacity="0.38"/>
<rect x="324.33" y="58.99" width="0.9" height="0.9" fill="#c8a8c8" fill-opacity="0.38"/>
<rect x="311.26" y="63.11" width="0.9" height="0.9" fill="#c8a8c8" fill-opacity="0.38"/>
<rect x="325.14" y="55.61" width="0.9" height="0.9" fill="#c8a8c8" fill-opacity="0.38"/>
<rect x="377.12" y="45.5" width="0.9" height="0.9" fill="#c8a8c8" fill-opacity="0.38"/>
<rect x="371.83" y="28.72" width="0.9" height="0.9" fill="#c8a8c8" fill-opacity="0.38"/>
<rect x="316.77" y="59.2" width="0.9" height="0.9" fill="#c8a8c8" fill-opacity="0.38"/>
<rect x="354.9" y="29.13" width="0.9" height="0.9" fill="#c8a8c8" fill-opacity="0.38"/>
<rect x="345.71" y="47.5" width="0.9" height="0.9" fill="#c8a8c8" fill-opacity="0.38"/>
<rect x="354.23" y="40.31" width="0.9" height="0.9" fill="#c8a8c8" fill-opacity="0.38"/>
<rect x="358.92" y="43.43" width="0.9" height="0.9" fill="#c8a8c8" fill-opacity="0.38"/>
<rect x="332.58" y="46.02" width="0.9" height="0.9" fill="#c8a8c8" fill-opacity="0.38"/>
<rect x="380.32" y="44.93" width="0.9" height="0.9" fill="#c8a8c8" fill-opacity="0.38"/>
<rect x="344.72" y="36.85" width="0.9" height="0.9" fill="#c8a8c8" fill-opacity="0.38"/>
<rect x="356.67" y="55.98" width="0.9" height="0.9" fill="#c8a8c8" fill-opacity="0.38"/>
<rect x="357.18" y="57.52" width="0.9" height="0.9" fill="#c8a8c8" fill-opacity="0.38"/>
<rect x="322.77" y="59.08" width="0.9" height="0.9" fill="#c8a8c8" fill-opacity="0.38"/>
<rect x="312.29" y="69.03" width="0.9" height="0.9" fill="#c8a8c8" fill-opacity="0.38"/>
<rect x="340.63" y="58.99" width="0.9" height="0.9" fill="#c8a8c8" fill-opacity="0.38"/>
<rect x="366.44" y="36.11" width="0.9" height="0.9" fill="#c8a8c8" fill-opacity="0.38"/>
<rect x="370.07" y="50.7" width="0.9" height="0.9" fill="#c8a8c8" fill-opacity="0.38"/>
<rect x="364.01" y="36.32" width="0.9" height="0.9" fill="#c8a8c8" fill-opacity="0.38"/>
<rect x="316.84" y="69.02" width="0.9" height="0.9" fill="#c8a8c8" fill-opacity="0.38"/>
<rect x="376.97" y="36.18" width="0.9" height="0.9" fill="#c8a8c8" fill-opacity="0.38"/>
<rect x="369.13" y="44.97" width="0.9" height="0.9" fill="#c8a8c8" fill-opacity="0.38"/>
<rect x="374.47" y="53.54" width="0.9" height="0.9" fill="#c8a8c8" fill-opacity="0.38"/>
<rect x="348.99" y="31.18" width="0.9" height="0.9" fill="#c8a8c8" fill-opacity="0.38"/>
<rect x="377.13" y="49.7" width="0.9" height="0.9" fill="#c8a8c8" fill-opacity="0.38"/>
<rect x="310.88" y="72.03" width="0.9" height="0.9" fill="#c8a8c8" fill-opacity="0.38"/>
<rect x="309.31" y="71.18" width="0.9" height="0.9" fill="#c8a8c8" fill-opacity="0.38"/>
<rect x="308.3" y="71.99" width="0.9" height="0.9" fill="#c8a8c8" fill-opacity="0.38"/>
<rect x="328.33" y="43.5" width="0.9" height="0.9" fill="#c8a8c8" fill-opacity="0.38"/>
<rect x="328" y="48.79" width="0.9" height="0.9" fill="#c8a8c8" fill-opacity="0.38"/>
<rect x="323.07" y="61.99" width="0.9" height="0.9" fill="#c8a8c8" fill-opacity="0.38"/>
<rect x="352.21" y="31.81" width="0.9" height="0.9" fill="#c8a8c8" fill-opacity="0.38"/>
<rect x="310.15" y="75" width="0.9" height="0.9" fill="#c8a8c8" fill-opacity="0.38"/>
<rect x="353.92" y="58.15" width="0.9" height="0.9" fill="#c8a8c8" fill-opacity="0.38"/>
<rect x="321.3" y="71.67" width="0.9" height="0.9" fill="#c8a8c8" fill-opacity="0.38"/>
<rect x="360.27" y="54.86" width="0.9" height="0.9" fill="#c8a8c8" fill-opacity="0.38"/>
<rect x="308.39" y="79" width="0.9" height="0.9" fill="#c8a8c8" fill-opacity="0.38"/>
<rect x="332.88" y="42.57" width="0.9" height="0.9" fill="#c8a8c8" fill-opacity="0.38"/>
<rect x="378.71" y="54.08" width="0.9" height="0.9" fill="#c8a8c8" fill-opacity="0.38"/>
<rect x="350.1" y="35.27" width="0.9" height="0.9" fill="#c8a8c8" fill-opacity="0.38"/>
<rect x="369.81" y="52.67" width="0.9" height="0.9" fill="#c8a8c8" fill-opacity="0.38"/>
<rect x="358.83" y="54.75" width="0.9" height="0.9" fill="#c8a8c8" fill-opacity="0.38"/>
<rect x="355.4" y="47.51" width="0.9" height="0.9" fill="#c8a8c8" fill-opacity="0.38"/>
<rect x="323.38" y="59.29" width="0.9" height="0.9" fill="#c8a8c8" fill-opacity="0.38"/>
<rect x="352.75" y="34.92" width="0.9" height="0.9" fill="#c8a8c8" fill-opacity="0.38"/>
<rect x="310.22" y="72.4" width="0.9" height="0.9" fill="#c8a8c8" fill-opacity="0.38"/>
<rect x="369.11" y="35.83" width="0.9" height="0.9" fill="#c8a8c8" fill-opacity="0.38"/>
<rect x="380.23" y="29.9" width="0.9" height="0.9" fill="#c8a8c8" fill-opacity="0.38"/>
<rect x="372.8" y="30.7" width="0.9" height="0.9" fill="#c8a8c8" fill-opacity="0.38"/>
<rect x="311.26" y="76.13" width="0.9" height="0.9" fill="#c8a8c8" fill-opacity="0.38"/>
<rect x="335.06" y="62.77" width="0.9" height="0.9" fill="#c8a8c8" fill-opacity="0.38"/>
<rect x="333.46" y="41.28" width="0.9" height="0.9" fill="#c8a8c8" fill-opacity="0.38"/>
<rect x="316.8" y="54.09" width="0.9" height="0.9" fill="#c8a8c8" fill-opacity="0.38"/>
<rect x="356.56" y="36.44" width="0.9" height="0.9" fill="#c8a8c8" fill-opacity="0.38"/>
<rect x="368.81" y="31.28" width="0.9" height="0.9" fill="#c8a8c8" fill-opacity="0.38"/>
<rect x="333.13" y="42.75" width="0.9" height="0.9" fill="#c8a8c8" fill-opacity="0.38"/>
<rect x="373.42" y="43.81" width="0.9" height="0.9" fill="#c8a8c8" fill-opacity="0.38"/>
<rect x="368.79" y="39.73" width="0.9" height="0.9" fill="#c8a8c8" fill-opacity="0.38"/>
<rect x="318.2" y="61.28" width="0.9" height="0.9" fill="#c8a8c8" fill-opacity="0.38"/>
<rect x="366.64" y="33.6" width="0.9" height="0.9" fill="#c8a8c8" fill-opacity="0.38"/>
<rect x="374.82" y="45.96" width="0.9" height="0.9" fill="#c8a8c8" fill-opacity="0.38"/>
<rect x="323.87" y="53.23" width="0.9" height="0.9" fill="#c8a8c8" fill-opacity="0.38"/>
<rect x="352.69" y="41.04" width="0.9" height="0.9" fill="#c8a8c8" fill-opacity="0.38"/>
<rect x="357.44" y="42.41" width="0.9" height="0.9" fill="#c8a8c8" fill-opacity="0.38"/>
<rect x="355.3" y="56.15" width="0.9" height="0.9" fill="#c8a8c8" fill-opacity="0.38"/>
<rect x="315.37" y="60.94" width="0.9" height="0.9" fill="#c8a8c8" fill-opacity="0.38"/>
<rect x="359.06" y="49.9" width="0.9" height="0.9" fill="#c8a8c8" fill-opacity="0.38"/>
<rect x="356.95" y="37.79" width="0.9" height="0.9" fill="#c8a8c8" fill-opacity="0.38"/>
<rect x="370.68" y="53.27" width="0.9" height="0.9" fill="#c8a8c8" fill-opacity="0.38"/>
<rect x="369.24" y="38.85" width="0.9" height="0.9" fill="#c8a8c8" fill-opacity="0.38"/>
<rect x="334.17" y="51.24" width="0.9" height="0.9" fill="#c8a8c8" fill-opacity="0.38"/>
<rect x="363.44" y="53.97" width="0.9" height="0.9" fill="#c8a8c8" fill-opacity="0.38"/>
<rect x="373.74" y="46.35" width="0.9" height="0.9" fill="#c8a8c8" fill-opacity="0.38"/>
<rect x="375.54" y="29.46" width="0.9" height="0.9" fill="#c8a8c8" fill-opacity="0.38"/>
<rect x="320.92" y="52.26" width="0.9" height="0.9" fill="#c8a8c8" fill-opacity="0.38"/>
<rect x="308.95" y="81.39" width="0.9" height="0.9" fill="#c8a8c8" fill-opacity="0.38"/>
<rect x="358.31" y="29.15" width="0.9" height="0.9" fill="#c8a8c8" fill-opacity="0.38"/>
<rect x="325.28" y="52.28" width="0.9" height="0.9" fill="#c8a8c8" fill-opacity="0.38"/>
<rect x="351.97" y="58.39" width="0.9" height="0.9" fill="#c8a8c8" fill-opacity="0.38"/>
<rect x="379.16" y="26.86" width="0.9" height="0.9" fill="#c8a8c8" fill-opacity="0.38"/>
<rect x="338.18" y="39.6" width="0.9" height="0.9" fill="#c8a8c8" fill-opacity="0.38"/>
<rect x="328.33" y="47.31" width="0.9" height="0.9" fill="#c8a8c8" fill-opacity="0.38"/>
<rect x="344.02" y="34.58" width="0.9" height="0.9" fill="#c8a8c8" fill-opacity="0.38"/>
<rect x="358.78" y="42.49" width="0.9" height="0.9" fill="#c8a8c8" fill-opacity="0.38"/>
<rect x="315.79" y="67.48" width="0.9" height="0.9" fill="#c8a8c8" fill-opacity="0.38"/>
<rect x="338.28" y="44.11" width="0.9" height="0.9" fill="#c8a8c8" fill-opacity="0.38"/>
<rect x="318.59" y="53.83" width="0.9" height="0.9" fill="#c8a8c8" fill-opacity="0.38"/>
<rect x="359.15" y="52.68" width="0.9" height="0.9" fill="#c8a8c8" fill-opacity="0.38"/>
<rect x="371.15" y="50.57" width="0.9" height="0.9" fill="#c8a8c8" fill-opacity="0.38"/>
<rect x="337.99" y="51.3" width="0.9" height="0.9" fill="#c8a8c8" fill-opacity="0.38"/>
<rect x="337.6" y="39.19" width="0.9" height="0.9" fill="#c8a8c8" fill-opacity="0.38"/>
<rect x="350.19" y="45.77" width="0.9" height="0.9" fill="#c8a8c8" fill-opacity="0.38"/>
<rect x="325.31" y="60.51" width="0.9" height="0.9" fill="#c8a8c8" fill-opacity="0.38"/>
<rect x="327.91" y="53.33" width="0.9" height="0.9" fill="#c8a8c8" fill-opacity="0.38"/>
<rect x="334.38" y="61.34" width="0.9" height="0.9" fill="#c8a8c8" fill-opacity="0.38"/>
<rect x="344.09" y="43.66" width="0.9" height="0.9" fill="#c8a8c8" fill-opacity="0.38"/>
<rect x="314.07" y="67.8" width="0.9" height="0.9" fill="#c8a8c8" fill-opacity="0.38"/>
<rect x="365.63" y="31" width="0.9" height="0.9" fill="#c8a8c8" fill-opacity="0.38"/>
<rect x="353.09" y="46.04" width="0.9" height="0.9" fill="#c8a8c8" fill-opacity="0.38"/>
<rect x="332.03" y="59.45" width="0.9" height="0.9" fill="#c8a8c8" fill-opacity="0.38"/>
<rect x="313.71" y="72.43" width="0.9" height="0.9" fill="#c8a8c8" fill-opacity="0.38"/>
<rect x="366.37" y="35.15" width="0.9" height="0.9" fill="#c8a8c8" fill-opacity="0.38"/>
<rect x="318.37" y="73.61" width="0.9" height="0.9" fill="#c8a8c8" fill-opacity="0.38"/>
<rect x="318.55" y="67.46" width="0.9" height="0.9" fill="#c8a8c8" fill-opacity="0.38"/>
<rect x="318.33" y="61.05" width="0.9" height="0.9" fill="#c8a8c8" fill-opacity="0.38"/>
<rect x="314.04" y="65.97" width="0.9" height="0.9" fill="#c8a8c8" fill-opacity="0.38"/>
<rect x="376.48" y="49" width="0.9" height="0.9" fill="#c8a8c8" fill-opacity="0.38"/>
<rect x="329.64" y="45.1" width="0.9" height="0.9" fill="#c8a8c8" fill-opacity="0.38"/>
<rect x="332.56" y="55.69" width="0.9" height="0.9" fill="#c8a8c8" fill-opacity="0.38"/>
<rect x="371.31" y="48.05" width="0.9" height="0.9" fill="#c8a8c8" fill-opacity="0.38"/>
<rect x="356.07" y="44.19" width="0.9" height="0.9" fill="#c8a8c8" fill-opacity="0.38"/>
<rect x="323.04" y="68.06" width="0.9" height="0.9" fill="#c8a8c8" fill-opacity="0.38"/>
<rect x="342.39" y="46.74" width="0.9" height="0.9" fill="#c8a8c8" fill-opacity="0.38"/>
<rect x="374.91" y="40.19" width="0.9" height="0.9" fill="#c8a8c8" fill-opacity="0.38"/>
<rect x="337.88" y="43.31" width="0.9" height="0.9" fill="#c8a8c8" fill-opacity="0.38"/>
<rect x="362.64" y="55.36" width="0.9" height="0.9" fill="#c8a8c8" fill-opacity="0.38"/>
<rect x="315.41" y="62.29" width="0.9" height="0.9" fill="#c8a8c8" fill-opacity="0.38"/>
<rect x="363.82" y="48.49" width="0.9" height="0.9" fill="#c8a8c8" fill-opacity="0.38"/>
<rect x="367.32" y="39.54" width="0.9" height="0.9" fill="#c8a8c8" fill-opacity="0.38"/>
<rect x="370.81" y="54.44" width="0.9" height="0.9" fill="#c8a8c8" fill-opacity="0.38"/>
<rect x="360" y="56.67" width="0.9" height="0.9" fill="#c8a8c8" fill-opacity="0.38"/>
<rect x="337.52" y="36.11" width="0.9" height="0.9" fill="#c8a8c8" fill-opacity="0.38"/>
<rect x="312.51" y="78.48" width="0.9" height="0.9" fill="#c8a8c8" fill-opacity="0.38"/>
<rect x="348.66" y="48.29" width="0.9" height="0.9" fill="#c8a8c8" fill-opacity="0.38"/>
<rect x="365.97" y="29.78" width="0.9" height="0.9" fill="#c8a8c8" fill-opacity="0.38"/>
<rect x="323.34" y="58.73" width="0.9" height="0.9" fill="#c8a8c8" fill-opacity="0.38"/>
<rect x="329.4" y="41.93" width="0.9" height="0.9" fill="#c8a8c8" fill-opacity="0.38"/>
<rect x="349.94" y="46.04" width="0.9" height="0.9" fill="#c8a8c8" fill-opacity="0.38"/>
<rect x="365.32" y="33.15" width="0.9" height="0.9" fill="#c8a8c8" fill-opacity="0.38"/>
<rect x="375.79" y="37.29" width="0.9" height="0.9" fill="#c8a8c8" fill-opacity="0.38"/>
<rect x="317.91" y="58.82" width="0.9" height="0.9" fill="#c8a8c8" fill-opacity="0.38"/>
<rect x="322.8" y="61.68" width="0.9" height="0.9" fill="#c8a8c8" fill-opacity="0.38"/>
<rect x="368.96" y="51.44" width="0.9" height="0.9" fill="#c8a8c8" fill-opacity="0.38"/>
<rect x="357.86" y="56.69" width="0.9" height="0.9" fill="#c8a8c8" fill-opacity="0.38"/>
<rect x="363.36" y="37.63" width="0.9" height="0.9" fill="#c8a8c8" fill-opacity="0.38"/>
<rect x="378.77" y="26.63" width="0.9" height="0.9" fill="#c8a8c8" fill-opacity="0.38"/>
<rect x="372.03" y="37.87" width="0.9" height="0.9" fill="#c8a8c8" fill-opacity="0.38"/>
<rect x="367.37" y="55.78" width="0.9" height="0.9" fill="#c8a8c8" fill-opacity="0.38"/>
<rect x="339.38" y="37.79" width="0.9" height="0.9" fill="#c8a8c8" fill-opacity="0.38"/>
<rect x="357.62" y="54.71" width="0.9" height="0.9" fill="#c8a8c8" fill-opacity="0.38"/>
<rect x="322.82" y="62.88" width="0.9" height="0.9" fill="#c8a8c8" fill-opacity="0.38"/>
<rect x="366.11" y="36.27" width="0.9" height="0.9" fill="#c8a8c8" fill-opacity="0.38"/>
<rect x="365.98" y="50.62" width="0.9" height="0.9" fill="#c8a8c8" fill-opacity="0.38"/>
<rect x="363.38" y="36.45" width="0.9" height="0.9" fill="#c8a8c8" fill-opacity="0.38"/>
<rect x="343.14" y="59.15" width="0.9" height="0.9" fill="#c8a8c8" fill-opacity="0.38"/>
<rect x="338.09" y="37.35" width="0.9" height="0.9" fill="#c8a8c8" fill-opacity="0.38"/>
<rect x="341.25" y="36.89" width="0.9" height="0.9" fill="#c8a8c8" fill-opacity="0.38"/>
<rect x="309.61" y="76.89" width="0.9" height="0.9" fill="#c8a8c8" fill-opacity="0.38"/>
<rect x="372.12" y="40.1" width="0.9" height="0.9" fill="#c8a8c8" fill-opacity="0.38"/>
<rect x="350.4" y="33.53" width="0.9" height="0.9" fill="#c8a8c8" fill-opacity="0.38"/>
<rect x="338.81" y="49.56" width="0.9" height="0.9" fill="#c8a8c8" fill-opacity="0.38"/>
<rect x="350.81" y="38.11" width="0.9" height="0.9" fill="#c8a8c8" fill-opacity="0.38"/>
<rect x="363.41" y="44.2" width="0.9" height="0.9" fill="#c8a8c8" fill-opacity="0.38"/>
<rect x="338.34" y="56.44" width="0.9" height="0.9" fill="#c8a8c8" fill-opacity="0.38"/>
<rect x="371.16" y="52.1" width="0.9" height="0.9" fill="#c8a8c8" fill-opacity="0.38"/>
<rect x="377.4" y="28.27" width="0.9" height="0.9" fill="#c8a8c8" fill-opacity="0.38"/>
<rect x="338.8" y="51.86" width="0.9" height="0.9" fill="#c8a8c8" fill-opacity="0.38"/>
<rect x="318.94" y="73.1" width="0.9" height="0.9" fill="#c8a8c8" fill-opacity="0.38"/>
<rect x="366.17" y="41.17" width="0.9" height="0.9" fill="#c8a8c8" fill-opacity="0.38"/>
<rect x="319.79" y="52.42" width="0.9" height="0.9" fill="#c8a8c8" fill-opacity="0.38"/>
<rect x="362.77" y="53.97" width="0.9" height="0.9" fill="#c8a8c8" fill-opacity="0.38"/>
<rect x="370.78" y="44.14" width="0.9" height="0.9" fill="#c8a8c8" fill-opacity="0.38"/>
<rect x="377.47" y="51.96" width="0.9" height="0.9" fill="#c8a8c8" fill-opacity="0.38"/>
<rect x="317.71" y="69.6" width="0.9" height="0.9" fill="#c8a8c8" fill-opacity="0.38"/>
<rect x="314.98" y="73.91" width="0.9" height="0.9" fill="#c8a8c8" fill-opacity="0.38"/>
<rect x="382.16" y="27.78" width="0.9" height="0.9" fill="#c8a8c8" fill-opacity="0.38"/>
<rect x="317.14" y="68.62" width="0.9" height="0.9" fill="#c8a8c8" fill-opacity="0.38"/>
<rect x="322.19" y="52.5" width="0.9" height="0.9" fill="#c8a8c8" fill-opacity="0.38"/>
<rect x="352.79" y="36.93" width="0.9" height="0.9" fill="#c8a8c8" fill-opacity="0.38"/>
<rect x="343.25" y="42.08" width="0.9" height="0.9" fill="#c8a8c8" fill-opacity="0.38"/>
<rect x="365.46" y="45.16" width="0.9" height="0.9" fill="#c8a8c8" fill-opacity="0.38"/>
<rect x="323.32" y="61.93" width="0.9" height="0.9" fill="#c8a8c8" fill-opacity="0.38"/>
<rect x="377.04" y="53.27" width="0.9" height="0.9" fill="#c8a8c8" fill-opacity="0.38"/>
<rect x="325.48" y="44.84" width="0.9" height="0.9" fill="#c8a8c8" fill-opacity="0.38"/>
<rect x="366.8" y="33.23" width="0.9" height="0.9" fill="#c8a8c8" fill-opacity="0.38"/>
<rect x="312.81" y="66.49" width="0.9" height="0.9" fill="#c8a8c8" fill-opacity="0.38"/>
<rect x="345.28" y="56.07" width="0.9" height="0.9" fill="#c8a8c8" fill-opacity="0.38"/>
<rect x="309.53" y="73.7" width="0.9" height="0.9" fill="#c8a8c8" fill-opacity="0.38"/>
<rect x="333.13" y="51.87" width="0.9" height="0.9" fill="#c8a8c8" fill-opacity="0.38"/>
<rect x="333.01" y="58.91" width="0.9" height="0.9" fill="#c8a8c8" fill-opacity="0.38"/>
<rect x="363.27" y="47.37" width="0.9" height="0.9" fill="#c8a8c8" fill-opacity="0.38"/>
<rect x="343.91" y="40.74" width="0.9" height="0.9" fill="#c8a8c8" fill-opacity="0.38"/>
<rect x="311.82" y="62.82" width="0.9" height="0.9" fill="#c8a8c8" fill-opacity="0.38"/>
<rect x="375.24" y="52.1" width="0.9" height="0.9" fill="#c8a8c8" fill-opacity="0.38"/>
<rect x="377.18" y="43.71" width="0.9" height="0.9" fill="#c8a8c8" fill-opacity="0.38"/>
<rect x="327.84" y="43.56" width="0.9" height="0.9" fill="#c8a8c8" fill-opacity="0.38"/>
<rect x="339.31" y="47.2" width="0.9" height="0.9" fill="#c8a8c8" fill-opacity="0.38"/>
<rect x="326.29" y="53.54" width="0.9" height="0.9" fill="#c8a8c8" fill-opacity="0.38"/>
<rect x="317.84" y="64.99" width="0.9" height="0.9" fill="#c8a8c8" fill-opacity="0.38"/>
<rect x="309.58" y="74.26" width="0.9" height="0.9" fill="#c8a8c8" fill-opacity="0.38"/>
<rect x="347.51" y="59.34" width="0.9" height="0.9" fill="#c8a8c8" fill-opacity="0.38"/>
<rect x="317.69" y="59.83" width="0.9" height="0.9" fill="#c8a8c8" fill-opacity="0.38"/>
<rect x="322.15" y="57.56" width="0.9" height="0.9" fill="#c8a8c8" fill-opacity="0.38"/>
<rect x="373.26" y="44.71" width="0.9" height="0.9" fill="#c8a8c8" fill-opacity="0.38"/>
<rect x="346.09" y="57.86" width="0.9" height="0.9" fill="#c8a8c8" fill-opacity="0.38"/>
<rect x="322.76" y="64.22" width="0.9" height="0.9" fill="#c8a8c8" fill-opacity="0.38"/>
<rect x="359.69" y="42.34" width="0.9" height="0.9" fill="#c8a8c8" fill-opacity="0.38"/>
<rect x="329.37" y="62.52" width="0.9" height="0.9" fill="#c8a8c8" fill-opacity="0.38"/>
<rect x="349.26" y="44.36" width="0.9" height="0.9" fill="#c8a8c8" fill-opacity="0.38"/>
<rect x="330.72" y="65.73" width="0.9" height="0.9" fill="#c8a8c8" fill-opacity="0.38"/>
<rect x="348.46" y="38.45" width="0.9" height="0.9" fill="#c8a8c8" fill-opacity="0.38"/>
<rect x="356.7" y="32.28" width="0.9" height="0.9" fill="#c8a8c8" fill-opacity="0.38"/>
<rect x="349.94" y="54.76" width="0.9" height="0.9" fill="#c8a8c8" fill-opacity="0.38"/>
<rect x="339.42" y="42.98" width="0.9" height="0.9" fill="#c8a8c8" fill-opacity="0.38"/>
<rect x="368.34" y="52.28" width="0.9" height="0.9" fill="#c8a8c8" fill-opacity="0.38"/>
<rect x="374.17" y="44.46" width="0.9" height="0.9" fill="#c8a8c8" fill-opacity="0.38"/>
<rect x="322.4" y="59.76" width="0.9" height="0.9" fill="#c8a8c8" fill-opacity="0.38"/>
<rect x="318.81" y="53.13" width="0.9" height="0.9" fill="#c8a8c8" fill-opacity="0.38"/>
<rect x="316.84" y="70.43" width="0.9" height="0.9" fill="#c8a8c8" fill-opacity="0.38"/>
<rect x="381.58" y="28.07" width="0.9" height="0.9" fill="#c8a8c8" fill-opacity="0.38"/>
<rect x="378.94" y="53.9" width="0.9" height="0.9" fill="#c8a8c8" fill-opacity="0.38"/>
<rect x="326.57" y="65.95" width="0.9" height="0.9" fill="#c8a8c8" fill-opacity="0.38"/>
<rect x="380.91" y="34.84" width="0.9" height="0.9" fill="#c8a8c8" fill-opacity="0.38"/>
<rect x="324.72" y="48.46" width="0.9" height="0.9" fill="#c8a8c8" fill-opacity="0.38"/>
<rect x="347.74" y="57.25" width="0.9" height="0.9" fill="#c8a8c8" fill-opacity="0.38"/>
<rect x="347.07" y="45.11" width="0.9" height="0.9" fill="#c8a8c8" fill-opacity="0.38"/>
<rect x="377.08" y="30.18" width="0.9" height="0.9" fill="#c8a8c8" fill-opacity="0.38"/>
<rect x="310.3" y="71.96" width="0.9" height="0.9" fill="#c8a8c8" fill-opacity="0.38"/>
<rect x="333.25" y="44.34" width="0.9" height="0.9" fill="#c8a8c8" fill-opacity="0.38"/>
<rect x="354.62" y="41.07" width="0.9" height="0.9" fill="#c8a8c8" fill-opacity="0.38"/>
<rect x="312.71" y="71.77" width="0.9" height="0.9" fill="#c8a8c8" fill-opacity="0.38"/>
<rect x="327.04" y="66.65" width="0.9" height="0.9" fill="#c8a8c8" fill-opacity="0.38"/>
<rect x="344.66" y="55.79" width="0.9" height="0.9" fill="#c8a8c8" fill-opacity="0.38"/>
<rect x="374.69" y="31.46" width="0.9" height="0.9" fill="#c8a8c8" fill-opacity="0.38"/>
<rect x="366.22" y="41.68" width="0.9" height="0.9" fill="#c8a8c8" fill-opacity="0.38"/>
<rect x="371.04" y="41.48" width="0.9" height="0.9" fill="#c8a8c8" fill-opacity="0.38"/>
<rect x="366.22" y="56.83" width="0.9" height="0.9" fill="#c8a8c8" fill-opacity="0.38"/>
<rect x="362.41" y="30.5" width="0.9" height="0.9" fill="#c8a8c8" fill-opacity="0.38"/>
<rect x="372.5" y="41.83" width="0.9" height="0.9" fill="#c8a8c8" fill-opacity="0.38"/>
<rect x="360.53" y="55.57" width="0.9" height="0.9" fill="#c8a8c8" fill-opacity="0.38"/>
<rect x="364.41" y="39.59" width="0.9" height="0.9" fill="#c8a8c8" fill-opacity="0.38"/>
<rect x="332.18" y="45.24" width="0.9" height="0.9" fill="#c8a8c8" fill-opacity="0.38"/>
<rect x="321.43" y="61.62" width="0.9" height="0.9" fill="#c8a8c8" fill-opacity="0.38"/>
<rect x="365.9" y="37.07" width="0.9" height="0.9" fill="#c8a8c8" fill-opacity="0.38"/>
<rect x="321.28" y="70.42" width="0.9" height="0.9" fill="#c8a8c8" fill-opacity="0.38"/>
<rect x="377.4" y="29.01" width="0.9" height="0.9" fill="#c8a8c8" fill-opacity="0.38"/>
<rect x="354.38" y="34.94" width="0.9" height="0.9" fill="#c8a8c8" fill-opacity="0.38"/>
<rect x="334.35" y="39.21" width="0.9" height="0.9" fill="#c8a8c8" fill-opacity="0.38"/>
<rect x="378.6" y="46.75" width="0.9" height="0.9" fill="#c8a8c8" fill-opacity="0.38"/>
<rect x="320.39" y="56.36" width="0.9" height="0.9" fill="#c8a8c8" fill-opacity="0.38"/>
<rect x="348.34" y="57.49" width="0.9" height="0.9" fill="#c8a8c8" fill-opacity="0.38"/>
<rect x="314.95" y="74.41" width="0.9" height="0.9" fill="#c8a8c8" fill-opacity="0.38"/>
<rect x="380.6" y="52.8" width="0.9" height="0.9" fill="#c8a8c8" fill-opacity="0.38"/>
<rect x="352.82" y="36.63" width="0.9" height="0.9" fill="#c8a8c8" fill-opacity="0.38"/>
<rect x="369.25" y="27.32" width="0.9" height="0.9" fill="#c8a8c8" fill-opacity="0.38"/>
<rect x="330.64" y="49.99" width="0.9" height="0.9" fill="#c8a8c8" fill-opacity="0.38"/>
<rect x="369.12" y="55.53" width="0.9" height="0.9" fill="#c8a8c8" fill-opacity="0.38"/>
<rect x="362.06" y="50.8" width="0.9" height="0.9" fill="#c8a8c8" fill-opacity="0.38"/>
<rect x="357.8" y="30.12" width="0.9" height="0.9" fill="#c8a8c8" fill-opacity="0.38"/>
<rect x="379.57" y="46.34" width="0.9" height="0.9" fill="#c8a8c8" fill-opacity="0.38"/>
<rect x="342.29" y="60.11" width="0.9" height="0.9" fill="#c8a8c8" fill-opacity="0.38"/>
<rect x="340.9" y="62.08" width="0.9" height="0.9" fill="#c8a8c8" fill-opacity="0.38"/>
<rect x="361.29" y="49.49" width="0.9" height="0.9" fill="#c8a8c8" fill-opacity="0.38"/>
<rect x="371.47" y="52.22" width="0.9" height="0.9" fill="#c8a8c8" fill-opacity="0.38"/>
<rect x="334.78" y="60.57" width="0.9" height="0.9" fill="#c8a8c8" fill-opacity="0.38"/>
<rect x="359.67" y="38.95" width="0.9" height="0.9" fill="#c8a8c8" fill-opacity="0.38"/>
<rect x="324.82" y="47.65" width="0.9" height="0.9" fill="#c8a8c8" fill-opacity="0.38"/>
<rect x="351.08" y="51.39" width="0.9" height="0.9" fill="#c8a8c8" fill-opacity="0.38"/>
<rect x="366.8" y="31.56" width="0.9" height="0.9" fill="#c8a8c8" fill-opacity="0.38"/>
<rect x="312.61" y="67.16" width="0.9" height="0.9" fill="#c8a8c8" fill-opacity="0.38"/>
<rect x="363.85" y="57.43" width="0.9" height="0.9" fill="#c8a8c8" fill-opacity="0.38"/>
<rect x="307.8" y="75.8" width="0.9" height="0.9" fill="#c8a8c8" fill-opacity="0.38"/>
<rect x="380.11" y="41.13" width="0.9" height="0.9" fill="#c8a8c8" fill-opacity="0.38"/>
<rect x="344.93" y="60.12" width="0.9" height="0.9" fill="#c8a8c8" fill-opacity="0.38"/>
<rect x="340.44" y="42.13" width="0.9" height="0.9" fill="#c8a8c8" fill-opacity="0.38"/>
<rect x="363.32" y="57.63" width="0.9" height="0.9" fill="#c8a8c8" fill-opacity="0.38"/>
<rect x="348.99" y="57.62" width="0.9" height="0.9" fill="#c8a8c8" fill-opacity="0.38"/>
<rect x="364.07" y="38.59" width="0.9" height="0.9" fill="#c8a8c8" fill-opacity="0.38"/>
<rect x="314.35" y="63.87" width="0.9" height="0.9" fill="#c8a8c8" fill-opacity="0.38"/>
<rect x="351.9" y="32.73" width="0.9" height="0.9" fill="#c8a8c8" fill-opacity="0.38"/>
<rect x="351.56" y="57.12" width="0.9" height="0.9" fill="#c8a8c8" fill-opacity="0.38"/>
<rect x="378.28" y="31.8" width="0.9" height="0.9" fill="#c8a8c8" fill-opacity="0.38"/>
<rect x="310.21" y="63.83" width="0.9" height="0.9" fill="#c8a8c8" fill-opacity="0.38"/>
<rect x="343.74" y="58.79" width="0.9" height="0.9" fill="#c8a8c8" fill-opacity="0.38"/>
<rect x="356.88" y="46.57" width="0.9" height="0.9" fill="#c8a8c8" fill-opacity="0.38"/>
<rect x="351.01" y="49.68" width="0.9" height="0.9" fill="#c8a8c8" fill-opacity="0.38"/>
<rect x="313.41" y="72.77" width="0.9" height="0.9" fill="#c8a8c8" fill-opacity="0.38"/>
<rect x="354.13" y="29.94" width="0.9" height="0.9" fill="#c8a8c8" fill-opacity="0.38"/>
<rect x="325.89" y="46.44" width="0.9" height="0.9" fill="#c8a8c8" fill-opacity="0.38"/>
<rect x="323.73" y="58.5" width="0.9" height="0.9" fill="#c8a8c8" fill-opacity="0.38"/>
<rect x="374.54" y="28.28" width="0.9" height="0.9" fill="#c8a8c8" fill-opacity="0.38"/>
<rect x="323.91" y="58.46" width="0.9" height="0.9" fill="#c8a8c8" fill-opacity="0.38"/>
<rect x="343.85" y="54.15" width="0.9" height="0.9" fill="#c8a8c8" fill-opacity="0.38"/>
<rect x="365.46" y="47.12" width="0.9" height="0.9" fill="#c8a8c8" fill-opacity="0.38"/>
<rect x="362.38" y="46.35" width="0.9" height="0.9" fill="#c8a8c8" fill-opacity="0.38"/>
<rect x="351.21" y="30.33" width="0.9" height="0.9" fill="#c8a8c8" fill-opacity="0.38"/>
<rect x="369.49" y="34.21" width="0.9" height="0.9" fill="#c8a8c8" fill-opacity="0.38"/>
<rect x="344.72" y="58.67" width="0.9" height="0.9" fill="#c8a8c8" fill-opacity="0.38"/>
<rect x="356.11" y="32.21" width="0.9" height="0.9" fill="#c8a8c8" fill-opacity="0.38"/>
<rect x="370.33" y="42.78" width="0.9" height="0.9" fill="#c8a8c8" fill-opacity="0.38"/>
<rect x="360.28" y="29.6" width="0.9" height="0.9" fill="#c8a8c8" fill-opacity="0.38"/>
<rect x="357.66" y="56.8" width="0.9" height="0.9" fill="#c8a8c8" fill-opacity="0.38"/>
<rect x="340.22" y="38.93" width="0.9" height="0.9" fill="#c8a8c8" fill-opacity="0.38"/>
<rect x="351.57" y="41.52" width="0.9" height="0.9" fill="#c8a8c8" fill-opacity="0.38"/>
<rect x="339.46" y="50.26" width="0.9" height="0.9" fill="#c8a8c8" fill-opacity="0.38"/>
<rect x="365.03" y="49" width="0.9" height="0.9" fill="#c8a8c8" fill-opacity="0.38"/>
<rect x="338.27" y="62.09" width="0.9" height="0.9" fill="#c8a8c8" fill-opacity="0.38"/>
<rect x="344.78" y="53.8" width="0.9" height="0.9" fill="#c8a8c8" fill-opacity="0.38"/>
<rect x="365.82" y="37.89" width="0.9" height="0.9" fill="#c8a8c8" fill-opacity="0.38"/>
<rect x="347.53" y="32.54" width="0.9" height="0.9" fill="#c8a8c8" fill-opacity="0.38"/>
<rect x="335.01" y="56.66" width="0.9" height="0.9" fill="#c8a8c8" fill-opacity="0.38"/>
<rect x="370.89" y="55.51" width="0.9" height="0.9" fill="#c8a8c8" fill-opacity="0.38"/>
<rect x="338.31" y="35.34" width="0.9" height="0.9" fill="#c8a8c8" fill-opacity="0.38"/>
<rect x="372.15" y="49.55" width="0.9" height="0.9" fill="#c8a8c8" fill-opacity="0.38"/>
<rect x="367.94" y="32.6" width="0.9" height="0.9" fill="#c8a8c8" fill-opacity="0.38"/>
<rect x="343.33" y="46.08" width="0.9" height="0.9" fill="#c8a8c8" fill-opacity="0.38"/>
<rect x="362.78" y="43.48" width="0.9" height="0.9" fill="#c8a8c8" fill-opacity="0.38"/>
<rect x="309.71" y="74.56" width="0.9" height="0.9" fill="#c8a8c8" fill-opacity="0.38"/>
<rect x="338.98" y="63.37" width="0.9" height="0.9" fill="#c8a8c8" fill-opacity="0.38"/>
<rect x="373.25" y="46.85" width="0.9" height="0.9" fill="#c8a8c8" fill-opacity="0.38"/>
<rect x="353.13" y="40.78" width="0.9" height="0.9" fill="#c8a8c8" fill-opacity="0.38"/>
<rect x="351.53" y="50.93" width="0.9" height="0.9" fill="#c8a8c8" fill-opacity="0.38"/>
<rect x="359.32" y="42.26" width="0.9" height="0.9" fill="#c8a8c8" fill-opacity="0.38"/>
<rect x="360.25" y="40.53" width="0.9" height="0.9" fill="#c8a8c8" fill-opacity="0.38"/>
<rect x="353.42" y="39.92" width="0.9" height="0.9" fill="#c8a8c8" fill-opacity="0.38"/>
<rect x="341.32" y="47.92" width="0.9" height="0.9" fill="#c8a8c8" fill-opacity="0.38"/>
<rect x="322.74" y="54.02" width="0.9" height="0.9" fill="#c8a8c8" fill-opacity="0.38"/>
<rect x="331.48" y="45.25" width="0.9" height="0.9" fill="#c8a8c8" fill-opacity="0.38"/>
<rect x="331.5" y="42.62" width="0.9" height="0.9" fill="#c8a8c8" fill-opacity="0.38"/>
<rect x="342.08" y="46.03" width="0.9" height="0.9" fill="#c8a8c8" fill-opacity="0.38"/>
<rect x="336.13" y="59.95" width="0.9" height="0.9" fill="#c8a8c8" fill-opacity="0.38"/>
<rect x="343.33" y="57.68" width="0.9" height="0.9" fill="#c8a8c8" fill-opacity="0.38"/>
<rect x="337.59" y="45.15" width="0.9" height="0.9" fill="#c8a8c8" fill-opacity="0.38"/>
<rect x="353.26" y="47.73" width="0.9" height="0.9" fill="#c8a8c8" fill-opacity="0.38"/>
<rect x="379.38" y="52.04" width="0.9" height="0.9" fill="#c8a8c8" fill-opacity="0.38"/>
<rect x="375.27" y="37.1" width="0.9" height="0.9" fill="#c8a8c8" fill-opacity="0.38"/>
<rect x="338.01" y="51.08" width="0.9" height="0.9" fill="#c8a8c8" fill-opacity="0.38"/>
<rect x="329.45" y="52.48" width="0.9" height="0.9" fill="#c8a8c8" fill-opacity="0.38"/>
<rect x="374.94" y="45.53" width="0.9" height="0.9" fill="#c8a8c8" fill-opacity="0.38"/>
<rect x="346.8" y="59.84" width="0.9" height="0.9" fill="#c8a8c8" fill-opacity="0.38"/>
<rect x="360.82" y="32.21" width="0.9" height="0.9" fill="#c8a8c8" fill-opacity="0.38"/>
<rect x="313.33" y="77.24" width="0.9" height="0.9" fill="#c8a8c8" fill-opacity="0.38"/>
<rect x="373.69" y="46.16" width="0.9" height="0.9" fill="#c8a8c8" fill-opacity="0.38"/>
<rect x="333.07" y="59.89" width="0.9" height="0.9" fill="#c8a8c8" fill-opacity="0.38"/>
<rect x="346.86" y="49.93" width="0.9" height="0.9" fill="#c8a8c8" fill-opacity="0.38"/>
<rect x="323.93" y="67.43" width="0.9" height="0.9" fill="#c8a8c8" fill-opacity="0.38"/>
<rect x="341.29" y="43" width="0.9" height="0.9" fill="#c8a8c8" fill-opacity="0.38"/>
<rect x="370.97" y="47.79" width="0.9" height="0.9" fill="#c8a8c8" fill-opacity="0.38"/>
<rect x="370.94" y="34.85" width="0.9" height="0.9" fill="#c8a8c8" fill-opacity="0.38"/>
<rect x="345.3" y="46.72" width="0.9" height="0.9" fill="#c8a8c8" fill-opacity="0.38"/>
<rect x="366.71" y="47.65" width="0.9" height="0.9" fill="#c8a8c8" fill-opacity="0.38"/>
<rect x="344.14" y="37.97" width="0.9" height="0.9" fill="#c8a8c8" fill-opacity="0.38"/>
<rect x="337.73" y="36.91" width="0.9" height="0.9" fill="#c8a8c8" fill-opacity="0.38"/>
<rect x="350.66" y="53.42" width="0.9" height="0.9" fill="#c8a8c8" fill-opacity="0.38"/>
<rect x="324.2" y="65.75" width="0.9" height="0.9" fill="#c8a8c8" fill-opacity="0.38"/>
<rect x="333.35" y="56.11" width="0.9" height="0.9" fill="#c8a8c8" fill-opacity="0.38"/>
<rect x="362.33" y="37.53" width="0.9" height="0.9" fill="#c8a8c8" fill-opacity="0.38"/>
<rect x="366.9" y="46.93" width="0.9" height="0.9" fill="#c8a8c8" fill-opacity="0.38"/>
<rect x="311.82" y="62.77" width="0.9" height="0.9" fill="#c8a8c8" fill-opacity="0.38"/>
<rect x="364.21" y="47.45" width="0.9" height="0.9" fill="#c8a8c8" fill-opacity="0.38"/>
<rect x="370.22" y="44.05" width="0.9" height="0.9" fill="#c8a8c8" fill-opacity="0.38"/>
<rect x="343.17" y="50.85" width="0.9" height="0.9" fill="#c8a8c8" fill-opacity="0.38"/>
<rect x="312.35" y="68.63" width="0.9" height="0.9" fill="#c8a8c8" fill-opacity="0.38"/>
<rect x="360.63" y="34.83" width="0.9" height="0.9" fill="#c8a8c8" fill-opacity="0.38"/>
<rect x="327.81" y="61.21" width="0.9" height="0.9" fill="#c8a8c8" fill-opacity="0.38"/>
<rect x="357.77" y="42.38" width="0.9" height="0.9" fill="#c8a8c8" fill-opacity="0.38"/>
<rect x="337.97" y="56.63" width="0.9" height="0.9" fill="#c8a8c8" fill-opacity="0.38"/>
<rect x="357.32" y="39.41" width="0.9" height="0.9" fill="#c8a8c8" fill-opacity="0.38"/>
<rect x="328.76" y="43.58" width="0.9" height="0.9" fill="#c8a8c8" fill-opacity="0.38"/>
<rect x="345.52" y="47.65" width="0.9" height="0.9" fill="#c8a8c8" fill-opacity="0.38"/>
<rect x="349.09" y="48.67" width="0.9" height="0.9" fill="#c8a8c8" fill-opacity="0.38"/>
<rect x="356.88" y="56.41" width="0.9" height="0.9" fill="#c8a8c8" fill-opacity="0.38"/>
<rect x="324.35" y="67.6" width="0.9" height="0.9" fill="#c8a8c8" fill-opacity="0.38"/>
<rect x="380.37" y="27.94" width="0.9" height="0.9" fill="#c8a8c8" fill-opacity="0.38"/>
<rect x="331.2" y="60.14" width="0.9" height="0.9" fill="#c8a8c8" fill-opacity="0.38"/>
<rect x="332.53" y="45.08" width="0.9" height="0.9" fill="#c8a8c8" fill-opacity="0.38"/>
<rect x="328.61" y="59.9" width="0.9" height="0.9" fill="#c8a8c8" fill-opacity="0.38"/>
<rect x="312.8" y="66.83" width="0.9" height="0.9" fill="#c8a8c8" fill-opacity="0.38"/>
<rect x="341.49" y="42.78" width="0.9" height="0.9" fill="#c8a8c8" fill-opacity="0.38"/>
<rect x="366.99" y="41.91" width="0.9" height="0.9" fill="#c8a8c8" fill-opacity="0.38"/>
<rect x="362.54" y="43.75" width="0.9" height="0.9" fill="#c8a8c8" fill-opacity="0.38"/>
<rect x="323.73" y="63.26" width="0.9" height="0.9" fill="#c8a8c8" fill-opacity="0.38"/>
<rect x="318.86" y="65.41" width="0.9" height="0.9" fill="#c8a8c8" fill-opacity="0.38"/>
<rect x="333.72" y="56.32" width="0.9" height="0.9" fill="#c8a8c8" fill-opacity="0.38"/>
<rect x="366.74" y="38.86" width="0.9" height="0.9" fill="#c8a8c8" fill-opacity="0.38"/>
<rect x="346.38" y="51.4" width="0.9" height="0.9" fill="#c8a8c8" fill-opacity="0.38"/>
<rect x="377.66" y="36.42" width="0.9" height="0.9" fill="#c8a8c8" fill-opacity="0.38"/>
<rect x="358.71" y="46.6" width="0.9" height="0.9" fill="#c8a8c8" fill-opacity="0.38"/>
<rect x="356.14" y="42.45" width="0.9" height="0.9" fill="#c8a8c8" fill-opacity="0.38"/>
<rect x="366.7" y="44.14" width="0.9" height="0.9" fill="#c8a8c8" fill-opacity="0.38"/>
<rect x="365.45" y="28.16" width="0.9" height="0.9" fill="#c8a8c8" fill-opacity="0.38"/>
<rect x="335.46" y="50.52" width="0.9" height="0.9" fill="#c8a8c8" fill-opacity="0.38"/>
<rect x="328.67" y="47.18" width="0.9" height="0.9" fill="#c8a8c8" fill-opacity="0.38"/>
<rect x="342.6" y="44.18" width="0.9" height="0.9" fill="#c8a8c8" fill-opacity="0.38"/>
<rect x="346.46" y="33.01" width="0.9" height="0.9" fill="#c8a8c8" fill-opacity="0.38"/>
<rect x="319.27" y="65.54" width="0.9" height="0.9" fill="#c8a8c8" fill-opacity="0.38"/>
<rect x="342.88" y="59.2" width="0.9" height="0.9" fill="#c8a8c8" fill-opacity="0.38"/>
<rect x="357.52" y="39.09" width="0.9" height="0.9" fill="#c8a8c8" fill-opacity="0.38"/>
<rect x="318.76" y="53.59" width="0.9" height="0.9" fill="#c8a8c8" fill-opacity="0.38"/>
<rect x="318.96" y="64.94" width="0.9" height="0.9" fill="#c8a8c8" fill-opacity="0.38"/>
<rect x="321.94" y="51.07" width="0.9" height="0.9" fill="#c8a8c8" fill-opacity="0.38"/>
<rect x="330.75" y="63.74" width="0.9" height="0.9" fill="#c8a8c8" fill-opacity="0.38"/>
<rect x="380.34" y="29.79" width="0.9" height="0.9" fill="#c8a8c8" fill-opacity="0.38"/>
<rect x="308.86" y="71.46" width="0.9" height="0.9" fill="#c8a8c8" fill-opacity="0.38"/>
<rect x="322.76" y="59.13" width="0.9" height="0.9" fill="#c8a8c8" fill-opacity="0.38"/>
<rect x="321.22" y="51.54" width="0.9" height="0.9" fill="#c8a8c8" fill-opacity="0.38"/>
<rect x="345.35" y="40.96" width="0.9" height="0.9" fill="#c8a8c8" fill-opacity="0.38"/>
<rect x="307.77" y="71.53" width="0.9" height="0.9" fill="#c8a8c8" fill-opacity="0.38"/>
<rect x="344.14" y="53.34" width="0.9" height="0.9" fill="#c8a8c8" fill-opacity="0.38"/>
<rect x="321.04" y="71.94" width="0.9" height="0.9" fill="#c8a8c8" fill-opacity="0.38"/>
<rect x="329.67" y="50.13" width="0.9" height="0.9" fill="#c8a8c8" fill-opacity="0.38"/>
<rect x="368.45" y="50.6" width="0.9" height="0.9" fill="#c8a8c8" fill-opacity="0.38"/>
<rect x="322.79" y="50.59" width="0.9" height="0.9" fill="#c8a8c8" fill-opacity="0.38"/>
<rect x="355.87" y="46.16" width="0.9" height="0.9" fill="#c8a8c8" fill-opacity="0.38"/>
<rect x="340.23" y="46.59" width="0.9" height="0.9" fill="#c8a8c8" fill-opacity="0.38"/>
<rect x="341.09" y="41.96" width="0.9" height="0.9" fill="#c8a8c8" fill-opacity="0.38"/>
<rect x="370.18" y="51.23" width="0.9" height="0.9" fill="#c8a8c8" fill-opacity="0.38"/>
<rect x="320.87" y="66.47" width="0.9" height="0.9" fill="#c8a8c8" fill-opacity="0.38"/>
<rect x="377.7" y="30.38" width="0.9" height="0.9" fill="#c8a8c8" fill-opacity="0.38"/>
<rect x="375.58" y="35.15" width="0.9" height="0.9" fill="#c8a8c8" fill-opacity="0.38"/>
<rect x="359.58" y="52.87" width="0.9" height="0.9" fill="#c8a8c8" fill-opacity="0.38"/>
<rect x="311.14" y="79.58" width="0.9" height="0.9" fill="#c8a8c8" fill-opacity="0.38"/>
<rect x="359.22" y="46.65" width="0.9" height="0.9" fill="#c8a8c8" fill-opacity="0.38"/>
<rect x="354.65" y="55.26" width="0.9" height="0.9" fill="#c8a8c8" fill-opacity="0.38"/>
<rect x="367.02" y="56.53" width="0.9" height="0.9" fill="#c8a8c8" fill-opacity="0.38"/>
<rect x="325.21" y="63.37" width="0.9" height="0.9" fill="#c8a8c8" fill-opacity="0.38"/>
<rect x="379.76" y="44.67" width="0.9" height="0.9" fill="#c8a8c8" fill-opacity="0.38"/>
<rect x="375.07" y="33.16" width="0.9" height="0.9" fill="#c8a8c8" fill-opacity="0.38"/>
<rect x="316.94" y="61.48" width="0.9" height="0.9" fill="#c8a8c8" fill-opacity="0.38"/>
<rect x="333.24" y="54.97" width="0.9" height="0.9" fill="#c8a8c8" fill-opacity="0.38"/>
<rect x="309.52" y="79.86" width="0.9" height="0.9" fill="#c8a8c8" fill-opacity="0.38"/>
<rect x="371.18" y="35.92" width="0.9" height="0.9" fill="#c8a8c8" fill-opacity="0.38"/>
<rect x="377.09" y="37.92" width="0.9" height="0.9" fill="#c8a8c8" fill-opacity="0.38"/>
<rect x="382.29" y="26.78" width="0.9" height="0.9" fill="#c8a8c8" fill-opacity="0.38"/>
<rect x="355.49" y="49.78" width="0.9" height="0.9" fill="#c8a8c8" fill-opacity="0.38"/>
<rect x="359.41" y="41.55" width="0.9" height="0.9" fill="#c8a8c8" fill-opacity="0.38"/>
<rect x="360.3" y="52.1" width="0.9" height="0.9" fill="#c8a8c8" fill-opacity="0.38"/>
<rect x="352.44" y="35.98" width="0.9" height="0.9" fill="#c8a8c8" fill-opacity="0.38"/>
<rect x="379.69" y="45.1" width="0.9" height="0.9" fill="#c8a8c8" fill-opacity="0.38"/>
<rect x="355.19" y="49.1" width="0.9" height="0.9" fill="#c8a8c8" fill-opacity="0.38"/>
<rect x="334.83" y="49.8" width="0.9" height="0.9" fill="#c8a8c8" fill-opacity="0.38"/>
<rect x="348.22" y="35.68" width="0.9" height="0.9" fill="#c8a8c8" fill-opacity="0.38"/>
<rect x="308.14" y="73.01" width="0.9" height="0.9" fill="#c8a8c8" fill-opacity="0.38"/>
<rect x="363.59" y="50" width="0.9" height="0.9" fill="#c8a8c8" fill-opacity="0.38"/>
<rect x="361.42" y="33.67" width="0.9" height="0.9" fill="#c8a8c8" fill-opacity="0.38"/>
<rect x="341.35" y="35.99" width="0.9" height="0.9" fill="#c8a8c8" fill-opacity="0.38"/>
<rect x="372.63" y="40.43" width="0.9" height="0.9" fill="#c8a8c8" fill-opacity="0.38"/>
<rect x="365.83" y="34.55" width="0.9" height="0.9" fill="#c8a8c8" fill-opacity="0.38"/>
<rect x="334.91" y="59.35" width="0.9" height="0.9" fill="#c8a8c8" fill-opacity="0.38"/>
<rect x="313.71" y="74.08" width="0.9" height="0.9" fill="#c8a8c8" fill-opacity="0.38"/>
<rect x="318.46" y="72.52" width="0.9" height="0.9" fill="#c8a8c8" fill-opacity="0.38"/>
<rect x="322.8" y="67.4" width="0.9" height="0.9" fill="#c8a8c8" fill-opacity="0.38"/>
<rect x="332.36" y="55.99" width="0.9" height="0.9" fill="#c8a8c8" fill-opacity="0.38"/>
<rect x="343.34" y="37.92" width="0.9" height="0.9" fill="#c8a8c8" fill-opacity="0.38"/>
<rect x="377.99" y="50.01" width="0.9" height="0.9" fill="#c8a8c8" fill-opacity="0.38"/>
<rect x="330.36" y="59.51" width="0.9" height="0.9" fill="#c8a8c8" fill-opacity="0.38"/>
<rect x="375.93" y="48.16" width="0.9" height="0.9" fill="#c8a8c8" fill-opacity="0.38"/>
<rect x="360.45" y="49.06" width="0.9" height="0.9" fill="#c8a8c8" fill-opacity="0.38"/>
<rect x="372.77" y="51.05" width="0.9" height="0.9" fill="#c8a8c8" fill-opacity="0.38"/>
<rect x="340" y="42.74" width="0.9" height="0.9" fill="#c8a8c8" fill-opacity="0.38"/>
<rect x="306.45" y="78.94" width="0.9" height="0.9" fill="#c8a8c8" fill-opacity="0.38"/>
<rect x="368.07" y="42.62" width="0.9" height="0.9" fill="#c8a8c8" fill-opacity="0.38"/>
<rect x="327.75" y="51.09" width="0.9" height="0.9" fill="#c8a8c8" fill-opacity="0.38"/>
<rect x="319.33" y="58.05" width="0.9" height="0.9" fill="#c8a8c8" fill-opacity="0.38"/>
<rect x="368.95" y="31.89" width="0.9" height="0.9" fill="#c8a8c8" fill-opacity="0.38"/>
<rect x="360.87" y="42.81" width="0.9" height="0.9" fill="#c8a8c8" fill-opacity="0.38"/>
<rect x="325.1" y="54.14" width="0.9" height="0.9" fill="#c8a8c8" fill-opacity="0.38"/>
<rect x="329.51" y="51.84" width="0.9" height="0.9" fill="#c8a8c8" fill-opacity="0.38"/>
<rect x="378.77" y="50.7" width="0.9" height="0.9" fill="#c8a8c8" fill-opacity="0.38"/>
<rect x="329.58" y="58.79" width="0.9" height="0.9" fill="#c8a8c8" fill-opacity="0.38"/>
<rect x="362.03" y="48.3" width="0.9" height="0.9" fill="#c8a8c8" fill-opacity="0.38"/>
<rect x="318.24" y="73.51" width="0.9" height="0.9" fill="#c8a8c8" fill-opacity="0.38"/>
<rect x="370.05" y="33.6" width="0.9" height="0.9" fill="#c8a8c8" fill-opacity="0.38"/>
<rect x="317.22" y="64.08" width="0.9" height="0.9" fill="#c8a8c8" fill-opacity="0.38"/>
<rect x="348.45" y="32.62" width="0.9" height="0.9" fill="#c8a8c8" fill-opacity="0.38"/>
<rect x="309.79" y="70.81" width="0.9" height="0.9" fill="#c8a8c8" fill-opacity="0.38"/>
<rect x="350.96" y="58.29" width="0.9" height="0.9" fill="#c8a8c8" fill-opacity="0.38"/>
<rect x="372.28" y="29.53" width="0.9" height="0.9" fill="#c8a8c8" fill-opacity="0.38"/>
<rect x="314.32" y="72.33" width="0.9" height="0.9" fill="#c8a8c8" fill-opacity="0.38"/>
<rect x="330.03" y="63.47" width="0.9" height="0.9" fill="#c8a8c8" fill-opacity="0.38"/>
<rect x="366.48" y="42.58" width="0.9" height="0.9" fill="#c8a8c8" fill-opacity="0.38"/>
<rect x="355.21" y="52.9" width="0.9" height="0.9" fill="#c8a8c8" fill-opacity="0.38"/>
<rect x="333.05" y="49.9" width="0.9" height="0.9" fill="#c8a8c8" fill-opacity="0.38"/>
<rect x="356.72" y="39.15" width="0.9" height="0.9" fill="#c8a8c8" fill-opacity="0.38"/>
<rect x="343.88" y="47.22" width="0.9" height="0.9" fill="#c8a8c8" fill-opacity="0.38"/>
<rect x="373.39" y="32.57" width="0.9" height="0.9" fill="#c8a8c8" fill-opacity="0.38"/>
<rect x="331.5" y="47.04" width="0.9" height="0.9" fill="#c8a8c8" fill-opacity="0.38"/>
<rect x="365.99" y="36.63" width="0.9" height="0.9" fill="#c8a8c8" fill-opacity="0.38"/>
<rect x="357.22" y="58.37" width="0.9" height="0.9" fill="#c8a8c8" fill-opacity="0.38"/>
<rect x="364.75" y="37.65" width="0.9" height="0.9" fill="#c8a8c8" fill-opacity="0.38"/>
<rect x="338.1" y="41.59" width="0.9" height="0.9" fill="#c8a8c8" fill-opacity="0.38"/>
<rect x="363.64" y="55.8" width="0.9" height="0.9" fill="#c8a8c8" fill-opacity="0.38"/>
<rect x="361.74" y="32.12" width="0.9" height="0.9" fill="#c8a8c8" fill-opacity="0.38"/>
<rect x="338.8" y="62.74" width="0.9" height="0.9" fill="#c8a8c8" fill-opacity="0.38"/>
<rect x="308.93" y="79.22" width="0.9" height="0.9" fill="#c8a8c8" fill-opacity="0.38"/>
<rect x="380.43" y="44.64" width="0.9" height="0.9" fill="#c8a8c8" fill-opacity="0.38"/>
<rect x="362.83" y="40.65" width="0.9" height="0.9" fill="#c8a8c8" fill-opacity="0.38"/>
<rect x="324.47" y="50.41" width="0.9" height="0.9" fill="#c8a8c8" fill-opacity="0.38"/>
<rect x="364.06" y="30.92" width="0.9" height="0.9" fill="#c8a8c8" fill-opacity="0.38"/>
<rect x="330.38" y="42.45" width="0.9" height="0.9" fill="#c8a8c8" fill-opacity="0.38"/>
<rect x="344.97" y="42.04" width="0.9" height="0.9" fill="#c8a8c8" fill-opacity="0.38"/>
<rect x="373.22" y="38.74" width="0.9" height="0.9" fill="#c8a8c8" fill-opacity="0.38"/>
<rect x="343.39" y="59.92" width="0.9" height="0.9" fill="#c8a8c8" fill-opacity="0.38"/>
<rect x="331.12" y="53.7" width="0.9" height="0.9" fill="#c8a8c8" fill-opacity="0.38"/>
<rect x="332.48" y="65.58" width="0.9" height="0.9" fill="#c8a8c8" fill-opacity="0.38"/>
<rect x="313.66" y="72.28" width="0.9" height="0.9" fill="#c8a8c8" fill-opacity="0.38"/>
<rect x="325.67" y="48.03" width="0.9" height="0.9" fill="#c8a8c8" fill-opacity="0.38"/>
<rect x="329.79" y="55.19" width="0.9" height="0.9" fill="#c8a8c8" fill-opacity="0.38"/>
<rect x="321.87" y="51.9" width="0.9" height="0.9" fill="#c8a8c8" fill-opacity="0.38"/>
<rect x="312.4" y="61.11" width="0.9" height="0.9" fill="#c8a8c8" fill-opacity="0.38"/>
<rect x="344.71" y="60.07" width="0.9" height="0.9" fill="#c8a8c8" fill-opacity="0.38"/>
<rect x="325.26" y="53.23" width="0.9" height="0.9" fill="#c8a8c8" fill-opacity="0.38"/>
<rect x="364.63" y="33.34" width="0.9" height="0.9" fill="#c8a8c8" fill-opacity="0.38"/>
<rect x="377.61" y="29.47" width="0.9" height="0.9" fill="#c8a8c8" fill-opacity="0.38"/>
<rect x="329.93" y="57.75" width="0.9" height="0.9" fill="#c8a8c8" fill-opacity="0.38"/>
<rect x="352.59" y="42.96" width="0.9" height="0.9" fill="#c8a8c8" fill-opacity="0.38"/>
<rect x="347.76" y="30.48" width="0.9" height="0.9" fill="#c8a8c8" fill-opacity="0.38"/>
<rect x="313.49" y="72.35" width="0.9" height="0.9" fill="#c8a8c8" fill-opacity="0.38"/>
<rect x="317.84" y="57.86" width="0.9" height="0.9" fill="#c8a8c8" fill-opacity="0.38"/>
<rect x="374.97" y="49.27" width="0.9" height="0.9" fill="#c8a8c8" fill-opacity="0.38"/>
<rect x="345.34" y="46.1" width="0.9" height="0.9" fill="#c8a8c8" fill-opacity="0.38"/>
<rect x="369.32" y="42.99" width="0.9" height="0.9" fill="#c8a8c8" fill-opacity="0.38"/>
<rect x="312.72" y="68.37" width="0.9" height="0.9" fill="#c8a8c8" fill-opacity="0.38"/>
<rect x="354.24" y="49.33" width="0.9" height="0.9" fill="#c8a8c8" fill-opacity="0.38"/>
<rect x="373.6" y="55.55" width="0.9" height="0.9" fill="#c8a8c8" fill-opacity="0.38"/>
<rect x="373.72" y="49.97" width="0.9" height="0.9" fill="#c8a8c8" fill-opacity="0.38"/>
<rect x="306.74" y="69.89" width="0.9" height="0.9" fill="#c8a8c8" fill-opacity="0.38"/>
<rect x="348.87" y="44.81" width="0.9" height="0.9" fill="#c8a8c8" fill-opacity="0.38"/>
<rect x="337.39" y="42.07" width="0.9" height="0.9" fill="#c8a8c8" fill-opacity="0.38"/>
<rect x="366.15" y="30.6" width="0.9" height="0.9" fill="#c8a8c8" fill-opacity="0.38"/>
<rect x="313.32" y="62.7" width="0.9" height="0.9" fill="#c8a8c8" fill-opacity="0.38"/>
<rect x="329.3" y="47.36" width="0.9" height="0.9" fill="#c8a8c8" fill-opacity="0.38"/>
<rect x="369.89" y="55.31" width="0.9" height="0.9" fill="#c8a8c8" fill-opacity="0.38"/>
<rect x="345" y="53.97" width="0.9" height="0.9" fill="#c8a8c8" fill-opacity="0.38"/>
<rect x="343.77" y="57.67" width="0.9" height="0.9" fill="#c8a8c8" fill-opacity="0.38"/>
<rect x="380.82" y="46.04" width="0.9" height="0.9" fill="#c8a8c8" fill-opacity="0.38"/>
<rect x="333.61" y="46.12" width="0.9" height="0.9" fill="#c8a8c8" fill-opacity="0.38"/>
<rect x="310.41" y="70.01" width="0.9" height="0.9" fill="#c8a8c8" fill-opacity="0.38"/>
<rect x="339.16" y="47.28" width="0.9" height="0.9" fill="#c8a8c8" fill-opacity="0.38"/>
<rect x="320.25" y="56.49" width="0.9" height="0.9" fill="#c8a8c8" fill-opacity="0.38"/>
<rect x="314.1" y="66.03" width="0.9" height="0.9" fill="#c8a8c8" fill-opacity="0.38"/>
<rect x="352.27" y="52.55" width="0.9" height="0.9" fill="#c8a8c8" fill-opacity="0.38"/>
<rect x="379.78" y="28.52" width="0.9" height="0.9" fill="#c8a8c8" fill-opacity="0.38"/>
<rect x="353.12" y="37.22" width="0.9" height="0.9" fill="#c8a8c8" fill-opacity="0.38"/>
<rect x="358.04" y="42.8" width="0.9" height="0.9" fill="#c8a8c8" fill-opacity="0.38"/>
<rect x="333.9" y="56.2" width="0.9" height="0.9" fill="#c8a8c8" fill-opacity="0.38"/>
<rect x="352.51" y="48.66" width="0.9" height="0.9" fill="#c8a8c8" fill-opacity="0.38"/>
<rect x="365.6" y="49.1" width="0.9" height="0.9" fill="#c8a8c8" fill-opacity="0.38"/>
<rect x="353.84" y="31.89" width="0.9" height="0.9" fill="#c8a8c8" fill-opacity="0.38"/>
<rect x="369.19" y="32.6" width="0.9" height="0.9" fill="#c8a8c8" fill-opacity="0.38"/>
<rect x="350.99" y="38.46" width="0.9" height="0.9" fill="#c8a8c8" fill-opacity="0.38"/>
<rect x="323.94" y="52.98" width="0.9" height="0.9" fill="#c8a8c8" fill-opacity="0.38"/>
<rect x="353.36" y="51.9" width="0.9" height="0.9" fill="#c8a8c8" fill-opacity="0.38"/>
<rect x="346.59" y="60.93" width="0.9" height="0.9" fill="#c8a8c8" fill-opacity="0.38"/>
<rect x="321.29" y="64.7" width="0.9" height="0.9" fill="#c8a8c8" fill-opacity="0.38"/>
<rect x="356.02" y="29.48" width="0.9" height="0.9" fill="#c8a8c8" fill-opacity="0.38"/>
<rect x="370.19" y="35.91" width="0.9" height="0.9" fill="#c8a8c8" fill-opacity="0.38"/>
<rect x="318.71" y="69.2" width="0.9" height="0.9" fill="#c8a8c8" fill-opacity="0.38"/>
<rect x="350.59" y="57.55" width="0.9" height="0.9" fill="#c8a8c8" fill-opacity="0.38"/>
<rect x="364.27" y="45.43" width="0.9" height="0.9" fill="#c8a8c8" fill-opacity="0.38"/>
<rect x="339.98" y="44.24" width="0.9" height="0.9" fill="#c8a8c8" fill-opacity="0.38"/>
<rect x="329.7" y="49.89" width="0.9" height="0.9" fill="#c8a8c8" fill-opacity="0.38"/>
<rect x="337.64" y="53.51" width="0.9" height="0.9" fill="#c8a8c8" fill-opacity="0.38"/>
<rect x="350.35" y="55.73" width="0.9" height="0.9" fill="#c8a8c8" fill-opacity="0.38"/>
<rect x="360.9" y="38.28" width="0.9" height="0.9" fill="#c8a8c8" fill-opacity="0.38"/>
<rect x="351.63" y="34.74" width="0.9" height="0.9" fill="#c8a8c8" fill-opacity="0.38"/>
<rect x="316.3" y="54.6" width="0.9" height="0.9" fill="#c8a8c8" fill-opacity="0.38"/>
<rect x="370.26" y="31.23" width="0.9" height="0.9" fill="#c8a8c8" fill-opacity="0.38"/>
<rect x="377.7" y="50.86" width="0.9" height="0.9" fill="#c8a8c8" fill-opacity="0.38"/>
<rect x="315.81" y="68.12" width="0.9" height="0.9" fill="#c8a8c8" fill-opacity="0.38"/>
<rect x="328.07" y="68" width="0.9" height="0.9" fill="#c8a8c8" fill-opacity="0.38"/>
<rect x="321.93" y="49.71" width="0.9" height="0.9" fill="#c8a8c8" fill-opacity="0.38"/>
<rect x="372.46" y="37.64" width="0.9" height="0.9" fill="#c8a8c8" fill-opacity="0.38"/>
<rect x="376.75" y="49.43" width="0.9" height="0.9" fill="#c8a8c8" fill-opacity="0.38"/>
<rect x="310.66" y="74.33" width="0.9" height="0.9" fill="#c8a8c8" fill-opacity="0.38"/>
<rect x="334.58" y="38.61" width="0.9" height="0.9" fill="#c8a8c8" fill-opacity="0.38"/>
<rect x="323.48" y="56.3" width="0.9" height="0.9" fill="#c8a8c8" fill-opacity="0.38"/>
<rect x="344.99" y="50.74" width="0.9" height="0.9" fill="#c8a8c8" fill-opacity="0.38"/>
<rect x="377.54" y="46.22" width="0.9" height="0.9" fill="#c8a8c8" fill-opacity="0.38"/>
<rect x="313.05" y="67.87" width="0.9" height="0.9" fill="#c8a8c8" fill-opacity="0.38"/>
<rect x="321.73" y="52.71" width="0.9" height="0.9" fill="#c8a8c8" fill-opacity="0.38"/>
<rect x="346.3" y="60.2" width="0.9" height="0.9" fill="#c8a8c8" fill-opacity="0.38"/>
<rect x="349.04" y="43.87" width="0.9" height="0.9" fill="#c8a8c8" fill-opacity="0.38"/>
<rect x="365.11" y="48.95" width="0.9" height="0.9" fill="#c8a8c8" fill-opacity="0.38"/>
<rect x="342.6" y="48.62" width="0.9" height="0.9" fill="#c8a8c8" fill-opacity="0.38"/>
<rect x="319.22" y="52.6" width="0.9" height="0.9" fill="#c8a8c8" fill-opacity="0.38"/>
<rect x="336.21" y="42.69" width="0.9" height="0.9" fill="#c8a8c8" fill-opacity="0.38"/>
<rect x="381.76" y="27.98" width="0.9" height="0.9" fill="#c8a8c8" fill-opacity="0.38"/>
<rect x="365.49" y="33.29" width="0.9" height="0.9" fill="#c8a8c8" fill-opacity="0.38"/>
<rect x="317.11" y="57.62" width="0.9" height="0.9" fill="#c8a8c8" fill-opacity="0.38"/>
<rect x="369.57" y="39.42" width="0.9" height="0.9" fill="#c8a8c8" fill-opacity="0.38"/>
<rect x="332.91" y="46.6" width="0.9" height="0.9" fill="#c8a8c8" fill-opacity="0.38"/>
<rect x="367.67" y="38.11" width="0.9" height="0.9" fill="#c8a8c8" fill-opacity="0.38"/>
<rect x="307.52" y="79.99" width="0.9" height="0.9" fill="#c8a8c8" fill-opacity="0.38"/>
<rect x="374.02" y="27.5" width="0.9" height="0.9" fill="#c8a8c8" fill-opacity="0.38"/>
<rect x="320.99" y="51.42" width="0.9" height="0.9" fill="#c8a8c8" fill-opacity="0.38"/>
<rect x="343.96" y="56.25" width="0.9" height="0.9" fill="#c8a8c8" fill-opacity="0.38"/>
<rect x="359.1" y="44.32" width="0.9" height="0.9" fill="#c8a8c8" fill-opacity="0.38"/>
<rect x="347.85" y="43.52" width="0.9" height="0.9" fill="#c8a8c8" fill-opacity="0.38"/>
<rect x="321.25" y="55.01" width="0.9" height="0.9" fill="#c8a8c8" fill-opacity="0.38"/>
<rect x="319.05" y="63.13" width="0.9" height="0.9" fill="#c8a8c8" fill-opacity="0.38"/>
<rect x="330.84" y="45.25" width="0.9" height="0.9" fill="#c8a8c8" fill-opacity="0.38"/>
<rect x="311.42" y="76.99" width="0.9" height="0.9" fill="#c8a8c8" fill-opacity="0.38"/>
<rect x="325.43" y="65.32" width="0.9" height="0.9" fill="#c8a8c8" fill-opacity="0.38"/>
<rect x="318.28" y="58.84" width="0.9" height="0.9" fill="#c8a8c8" fill-opacity="0.38"/>
<rect x="344.64" y="32.42" width="0.9" height="0.9" fill="#c8a8c8" fill-opacity="0.38"/>
<rect x="336.43" y="61.29" width="0.9" height="0.9" fill="#c8a8c8" fill-opacity="0.38"/>
<rect x="353.66" y="37.84" width="0.9" height="0.9" fill="#c8a8c8" fill-opacity="0.38"/>
<rect x="330.56" y="57.43" width="0.9" height="0.9" fill="#c8a8c8" fill-opacity="0.38"/>
<rect x="309.66" y="78.62" width="0.9" height="0.9" fill="#c8a8c8" fill-opacity="0.38"/>
<rect x="334.48" y="59.45" width="0.9" height="0.9" fill="#c8a8c8" fill-opacity="0.38"/>
<rect x="365.8" y="53.14" width="0.9" height="0.9" fill="#c8a8c8" fill-opacity="0.38"/>
<rect x="328.58" y="54.4" width="0.9" height="0.9" fill="#c8a8c8" fill-opacity="0.38"/>
<rect x="340.1" y="58.67" width="0.9" height="0.9" fill="#c8a8c8" fill-opacity="0.38"/>
<rect x="365.79" y="41.26" width="0.9" height="0.9" fill="#c8a8c8" fill-opacity="0.38"/>
<rect x="340.26" y="41.62" width="0.9" height="0.9" fill="#c8a8c8" fill-opacity="0.38"/>
<rect x="375.13" y="40.63" width="0.9" height="0.9" fill="#c8a8c8" fill-opacity="0.38"/>
<rect x="377.3" y="36.18" width="0.9" height="0.9" fill="#c8a8c8" fill-opacity="0.38"/>
<rect x="332.88" y="59.15" width="0.9" height="0.9" fill="#c8a8c8" fill-opacity="0.38"/>
<rect x="364.43" y="52.45" width="0.9" height="0.9" fill="#c8a8c8" fill-opacity="0.38"/>
<rect x="328.36" y="45.37" width="0.9" height="0.9" fill="#c8a8c8" fill-opacity="0.38"/>
<rect x="319.08" y="54.61" width="0.9" height="0.9" fill="#c8a8c8" fill-opacity="0.38"/>
<rect x="342.62" y="44.11" width="0.9" height="0.9" fill="#c8a8c8" fill-opacity="0.38"/>
<rect x="354.8" y="42.74" width="0.9" height="0.9" fill="#c8a8c8" fill-opacity="0.38"/>
<rect x="378.52" y="53.72" width="0.9" height="0.9" fill="#c8a8c8" fill-opacity="0.38"/>
<rect x="319.62" y="71.75" width="0.9" height="0.9" fill="#c8a8c8" fill-opacity="0.38"/>
<rect x="362.74" y="56.77" width="0.9" height="0.9" fill="#c8a8c8" fill-opacity="0.38"/>
<rect x="345.44" y="53.35" width="0.9" height="0.9" fill="#c8a8c8" fill-opacity="0.38"/>
<rect x="318.42" y="66.6" width="0.9" height="0.9" fill="#c8a8c8" fill-opacity="0.38"/>
<rect x="381.1" y="33.9" width="0.9" height="0.9" fill="#c8a8c8" fill-opacity="0.38"/>
<rect x="361.55" y="39.15" width="0.9" height="0.9" fill="#c8a8c8" fill-opacity="0.38"/>
<rect x="318.18" y="51.88" width="0.9" height="0.9" fill="#c8a8c8" fill-opacity="0.38"/>
<rect x="376.44" y="50.55" width="0.9" height="0.9" fill="#c8a8c8" fill-opacity="0.38"/>
<rect x="315.96" y="60.75" width="0.9" height="0.9" fill="#c8a8c8" fill-opacity="0.38"/>
<rect x="315.05" y="58.01" width="0.9" height="0.9" fill="#c8a8c8" fill-opacity="0.38"/>
<rect x="334.51" y="45.71" width="0.9" height="0.9" fill="#c8a8c8" fill-opacity="0.38"/>
<rect x="378.69" y="35.67" width="0.9" height="0.9" fill="#c8a8c8" fill-opacity="0.38"/>
<rect x="309.58" y="76.5" width="0.9" height="0.9" fill="#c8a8c8" fill-opacity="0.38"/>
<rect x="377.31" y="26.75" width="0.9" height="0.9" fill="#c8a8c8" fill-opacity="0.38"/>
<rect x="355.47" y="35.54" width="0.9" height="0.9" fill="#c8a8c8" fill-opacity="0.38"/>
<rect x="312.76" y="76.45" width="0.9" height="0.9" fill="#c8a8c8" fill-opacity="0.38"/>
<rect x="352.32" y="55.12" width="0.9" height="0.9" fill="#c8a8c8" fill-opacity="0.38"/>
<rect x="344.19" y="50.8" width="0.9" height="0.9" fill="#c8a8c8" fill-opacity="0.38"/>
<rect x="351.99" y="46.05" width="0.9" height="0.9" fill="#c8a8c8" fill-opacity="0.38"/>
<rect x="364.52" y="34.33" width="0.9" height="0.9" fill="#c8a8c8" fill-opacity="0.38"/>
<rect x="360.32" y="54.42" width="0.9" height="0.9" fill="#c8a8c8" fill-opacity="0.38"/>
<rect x="316.26" y="48.54" width="0.9" height="0.9" fill="#ddd0e0" fill-opacity="0.45"/>
<rect x="310.31" y="47.37" width="0.9" height="0.9" fill="#ddd0e0" fill-opacity="0.45"/>
<rect x="301.86" y="84.8" width="0.9" height="0.9" fill="#ddd0e0" fill-opacity="0.45"/>
<rect x="303.18" y="37.98" width="0.9" height="0.9" fill="#ddd0e0" fill-opacity="0.45"/>
<rect x="307.1" y="44.38" width="0.9" height="0.9" fill="#ddd0e0" fill-opacity="0.45"/>
<rect x="305.95" y="66.85" width="0.9" height="0.9" fill="#ddd0e0" fill-opacity="0.45"/>
<rect x="299.47" y="51.88" width="0.9" height="0.9" fill="#ddd0e0" fill-opacity="0.45"/>
<rect x="307.75" y="46.81" width="0.9" height="0.9" fill="#ddd0e0" fill-opacity="0.45"/>
<rect x="308.77" y="56.14" width="0.9" height="0.9" fill="#ddd0e0" fill-opacity="0.45"/>
<rect x="304.89" y="65.14" width="0.9" height="0.9" fill="#ddd0e0" fill-opacity="0.45"/>
<rect x="307.22" y="77.2" width="0.9" height="0.9" fill="#ddd0e0" fill-opacity="0.45"/>
<rect x="305.98" y="98.06" width="0.9" height="0.9" fill="#ddd0e0" fill-opacity="0.45"/>
<rect x="307.04" y="89.68" width="0.9" height="0.9" fill="#ddd0e0" fill-opacity="0.45"/>
<rect x="312.86" y="60.1" width="0.9" height="0.9" fill="#ddd0e0" fill-opacity="0.45"/>
<rect x="309.94" y="61.61" width="0.9" height="0.9" fill="#ddd0e0" fill-opacity="0.45"/>
<rect x="302.74" y="59.1" width="0.9" height="0.9" fill="#ddd0e0" fill-opacity="0.45"/>
<rect x="317.09" y="46.73" width="0.9" height="0.9" fill="#ddd0e0" fill-opacity="0.45"/>
<rect x="310.32" y="96.62" width="0.9" height="0.9" fill="#ddd0e0" fill-opacity="0.45"/>
<rect x="309" y="34.81" width="0.9" height="0.9" fill="#ddd0e0" fill-opacity="0.45"/>
<rect x="315.12" y="44.35" width="0.9" height="0.9" fill="#ddd0e0" fill-opacity="0.45"/>
<rect x="316.05" y="76.34" width="0.9" height="0.9" fill="#ddd0e0" fill-opacity="0.45"/>
<rect x="318.38" y="71.27" width="0.9" height="0.9" fill="#ddd0e0" fill-opacity="0.45"/>
<rect x="317.47" y="49.51" width="0.9" height="0.9" fill="#ddd0e0" fill-opacity="0.45"/>
<rect x="314.06" y="95.59" width="0.9" height="0.9" fill="#ddd0e0" fill-opacity="0.45"/>
<rect x="315.31" y="58.66" width="0.9" height="0.9" fill="#ddd0e0" fill-opacity="0.45"/>
<rect x="301.77" y="71.74" width="0.9" height="0.9" fill="#ddd0e0" fill-opacity="0.45"/>
<rect x="314.78" y="36.37" width="0.9" height="0.9" fill="#ddd0e0" fill-opacity="0.45"/>
<rect x="304.11" y="92.36" width="0.9" height="0.9" fill="#ddd0e0" fill-opacity="0.45"/>
<rect x="304.19" y="37.21" width="0.9" height="0.9" fill="#ddd0e0" fill-opacity="0.45"/>
<rect x="300.88" y="57.58" width="0.9" height="0.9" fill="#ddd0e0" fill-opacity="0.45"/>
<rect x="307.53" y="91.99" width="0.9" height="0.9" fill="#ddd0e0" fill-opacity="0.45"/>
<rect x="298.48" y="96.15" width="0.9" height="0.9" fill="#ddd0e0" fill-opacity="0.45"/>
<rect x="313.77" y="93.28" width="0.9" height="0.9" fill="#ddd0e0" fill-opacity="0.45"/>
<rect x="315.95" y="87.93" width="0.9" height="0.9" fill="#ddd0e0" fill-opacity="0.45"/>
<rect x="316.61" y="46.33" width="0.9" height="0.9" fill="#ddd0e0" fill-opacity="0.45"/>
<rect x="301.09" y="32.23" width="0.9" height="0.9" fill="#ddd0e0" fill-opacity="0.45"/>
<rect x="313.39" y="61.63" width="0.9" height="0.9" fill="#ddd0e0" fill-opacity="0.45"/>
<rect x="318.12" y="34.42" width="0.9" height="0.9" fill="#ddd0e0" fill-opacity="0.45"/>
<rect x="298.86" y="97.24" width="0.9" height="0.9" fill="#ddd0e0" fill-opacity="0.45"/>
<rect x="302.64" y="30.57" width="0.9" height="0.9" fill="#ddd0e0" fill-opacity="0.45"/>
<rect x="304.43" y="52.78" width="0.9" height="0.9" fill="#ddd0e0" fill-opacity="0.45"/>
<rect x="309.09" y="44.23" width="0.9" height="0.9" fill="#ddd0e0" fill-opacity="0.45"/>
<rect x="302.13" y="30.96" width="0.9" height="0.9" fill="#ddd0e0" fill-opacity="0.45"/>
<rect x="310.93" y="64.94" width="0.9" height="0.9" fill="#ddd0e0" fill-opacity="0.45"/>
<rect x="306.25" y="35.32" width="0.9" height="0.9" fill="#ddd0e0" fill-opacity="0.45"/>
<rect x="313.72" y="93" width="0.9" height="0.9" fill="#ddd0e0" fill-opacity="0.45"/>
<rect x="310.75" y="78.13" width="0.9" height="0.9" fill="#ddd0e0" fill-opacity="0.45"/>
<rect x="314.47" y="55.9" width="0.9" height="0.9" fill="#ddd0e0" fill-opacity="0.45"/>
<rect x="303.91" y="88.91" width="0.9" height="0.9" fill="#ddd0e0" fill-opacity="0.45"/>
<rect x="314.97" y="85.78" width="0.9" height="0.9" fill="#ddd0e0" fill-opacity="0.45"/>
<rect x="315.63" y="52.85" width="0.9" height="0.9" fill="#ddd0e0" fill-opacity="0.45"/>
<rect x="315.33" y="89.31" width="0.9" height="0.9" fill="#ddd0e0" fill-opacity="0.45"/>
<rect x="299.64" y="95.06" width="0.9" height="0.9" fill="#ddd0e0" fill-opacity="0.45"/>
<rect x="320.71" y="73.39" width="0.9" height="0.9" fill="#ddd0e0" fill-opacity="0.45"/>
<rect x="311.84" y="54.62" width="0.9" height="0.9" fill="#ddd0e0" fill-opacity="0.45"/>
<rect x="304.54" y="93.04" width="0.9" height="0.9" fill="#ddd0e0" fill-opacity="0.45"/>
<rect x="308.42" y="96" width="0.9" height="0.9" fill="#ddd0e0" fill-opacity="0.45"/>
<rect x="310.42" y="54.31" width="0.9" height="0.9" fill="#ddd0e0" fill-opacity="0.45"/>
<rect x="310.43" y="36.04" width="0.9" height="0.9" fill="#ddd0e0" fill-opacity="0.45"/>
<rect x="303.95" y="90.75" width="0.9" height="0.9" fill="#ddd0e0" fill-opacity="0.45"/>
<rect x="304.36" y="76.54" width="0.9" height="0.9" fill="#ddd0e0" fill-opacity="0.45"/>
<rect x="306.73" y="46.24" width="0.9" height="0.9" fill="#ddd0e0" fill-opacity="0.45"/>
<rect x="316.74" y="69.68" width="0.9" height="0.9" fill="#ddd0e0" fill-opacity="0.45"/>
<rect x="308.5" y="51.57" width="0.9" height="0.9" fill="#ddd0e0" fill-opacity="0.45"/>
<rect x="298.93" y="94.34" width="0.9" height="0.9" fill="#ddd0e0" fill-opacity="0.45"/>
<rect x="308.85" y="53.95" width="0.9" height="0.9" fill="#ddd0e0" fill-opacity="0.45"/>
<rect x="302.83" y="43.74" width="0.9" height="0.9" fill="#ddd0e0" fill-opacity="0.45"/>
<rect x="298.3" y="33.02" width="0.9" height="0.9" fill="#ddd0e0" fill-opacity="0.45"/>
<rect x="321.45" y="53.98" width="0.9" height="0.9" fill="#ddd0e0" fill-opacity="0.45"/>
<rect x="305.05" y="99.26" width="0.9" height="0.9" fill="#ddd0e0" fill-opacity="0.45"/>
<rect x="310.9" y="45.28" width="0.9" height="0.9" fill="#ddd0e0" fill-opacity="0.45"/>
<rect x="306.6" y="62.06" width="0.9" height="0.9" fill="#ddd0e0" fill-opacity="0.45"/>
<rect x="299.28" y="98.05" width="0.9" height="0.9" fill="#ddd0e0" fill-opacity="0.45"/>
<rect x="319.62" y="30.47" width="0.9" height="0.9" fill="#ddd0e0" fill-opacity="0.45"/>
<rect x="320.46" y="50.65" width="0.9" height="0.9" fill="#ddd0e0" fill-opacity="0.45"/>
<rect x="302.47" y="87.48" width="0.9" height="0.9" fill="#ddd0e0" fill-opacity="0.45"/>
<rect x="308.03" y="36.7" width="0.9" height="0.9" fill="#ddd0e0" fill-opacity="0.45"/>
<rect x="306.97" y="94.98" width="0.9" height="0.9" fill="#ddd0e0" fill-opacity="0.45"/>
<rect x="302.01" y="88.42" width="0.9" height="0.9" fill="#ddd0e0" fill-opacity="0.45"/>
<rect x="313.88" y="40.01" width="0.9" height="0.9" fill="#ddd0e0" fill-opacity="0.45"/>
<rect x="316.77" y="71.46" width="0.9" height="0.9" fill="#ddd0e0" fill-opacity="0.45"/>
<rect x="316.23" y="68.88" width="0.9" height="0.9" fill="#ddd0e0" fill-opacity="0.45"/>
<rect x="314.21" y="78.56" width="0.9" height="0.9" fill="#ddd0e0" fill-opacity="0.45"/>
<rect x="298.42" y="51.48" width="0.9" height="0.9" fill="#ddd0e0" fill-opacity="0.45"/>
<rect x="303.51" y="56.89" width="0.9" height="0.9" fill="#ddd0e0" fill-opacity="0.45"/>
<rect x="310.35" y="46.86" width="0.9" height="0.9" fill="#ddd0e0" fill-opacity="0.45"/>
<rect x="314.87" y="50.43" width="0.9" height="0.9" fill="#ddd0e0" fill-opacity="0.45"/>
<rect x="307.27" y="42.3" width="0.9" height="0.9" fill="#ddd0e0" fill-opacity="0.45"/>
<rect x="308.78" y="93.31" width="0.9" height="0.9" fill="#ddd0e0" fill-opacity="0.45"/>
<rect x="318.18" y="92.12" width="0.9" height="0.9" fill="#ddd0e0" fill-opacity="0.45"/>
<rect x="298.57" y="55.2" width="0.9" height="0.9" fill="#ddd0e0" fill-opacity="0.45"/>
<rect x="304.45" y="78.53" width="0.9" height="0.9" fill="#ddd0e0" fill-opacity="0.45"/>
<rect x="304.96" y="64.32" width="0.9" height="0.9" fill="#ddd0e0" fill-opacity="0.45"/>
<rect x="321.83" y="49.65" width="0.9" height="0.9" fill="#ddd0e0" fill-opacity="0.45"/>
<rect x="303.46" y="54.47" width="0.9" height="0.9" fill="#ddd0e0" fill-opacity="0.45"/>
<rect x="299.13" y="97.56" width="0.9" height="0.9" fill="#ddd0e0" fill-opacity="0.45"/>
<rect x="308" y="53.9" width="0.9" height="0.9" fill="#ddd0e0" fill-opacity="0.45"/>
<rect x="313.59" y="70.51" width="0.9" height="0.9" fill="#ddd0e0" fill-opacity="0.45"/>
<rect x="301.68" y="96.16" width="0.9" height="0.9" fill="#ddd0e0" fill-opacity="0.45"/>
<rect x="318.15" y="50.83" width="0.9" height="0.9" fill="#ddd0e0" fill-opacity="0.45"/>
<rect x="302.71" y="86.63" width="0.9" height="0.9" fill="#ddd0e0" fill-opacity="0.45"/>
<rect x="314.9" y="37.99" width="0.9" height="0.9" fill="#ddd0e0" fill-opacity="0.45"/>
<rect x="301.88" y="81.33" width="0.9" height="0.9" fill="#ddd0e0" fill-opacity="0.45"/>
<rect x="319.16" y="86.47" width="0.9" height="0.9" fill="#ddd0e0" fill-opacity="0.45"/>
<rect x="302.83" y="88.62" width="0.9" height="0.9" fill="#ddd0e0" fill-opacity="0.45"/>
<rect x="315.55" y="98.25" width="0.9" height="0.9" fill="#ddd0e0" fill-opacity="0.45"/>
<rect x="318.13" y="79.77" width="0.9" height="0.9" fill="#ddd0e0" fill-opacity="0.45"/>
<rect x="304.12" y="98.4" width="0.9" height="0.9" fill="#ddd0e0" fill-opacity="0.45"/>
<rect x="300.23" y="49.48" width="0.9" height="0.9" fill="#ddd0e0" fill-opacity="0.45"/>
<rect x="312.07" y="66.51" width="0.9" height="0.9" fill="#ddd0e0" fill-opacity="0.45"/>
<rect x="309.98" y="44.99" width="0.9" height="0.9" fill="#ddd0e0" fill-opacity="0.45"/>
<rect x="309.5" y="35.85" width="0.9" height="0.9" fill="#ddd0e0" fill-opacity="0.45"/>
<rect x="316.75" y="60.73" width="0.9" height="0.9" fill="#ddd0e0" fill-opacity="0.45"/>
<rect x="309.11" y="80.38" width="0.9" height="0.9" fill="#ddd0e0" fill-opacity="0.45"/>
<rect x="309.93" y="84.49" width="0.9" height="0.9" fill="#ddd0e0" fill-opacity="0.45"/>
<rect x="309.69" y="31.19" width="0.9" height="0.9" fill="#ddd0e0" fill-opacity="0.45"/>
<rect x="308.91" y="95.96" width="0.9" height="0.9" fill="#ddd0e0" fill-opacity="0.45"/>
<rect x="307.74" y="47.31" width="0.9" height="0.9" fill="#ddd0e0" fill-opacity="0.45"/>
<rect x="301.86" y="50.45" width="0.9" height="0.9" fill="#ddd0e0" fill-opacity="0.45"/>
<rect x="305.09" y="88.27" width="0.9" height="0.9" fill="#ddd0e0" fill-opacity="0.45"/>
<rect x="308" y="80.26" width="0.9" height="0.9" fill="#c4c0dc" fill-opacity="0.4"/>
<rect x="314.06" y="81.52" width="0.9" height="0.9" fill="#c4c0dc" fill-opacity="0.4"/>
<rect x="304.72" y="71.74" width="0.9" height="0.9" fill="#c4c0dc" fill-opacity="0.4"/>
<rect x="312.04" y="86.28" width="0.9" height="0.9" fill="#c4c0dc" fill-opacity="0.4"/>
<rect x="303.29" y="74.48" width="0.9" height="0.9" fill="#c4c0dc" fill-opacity="0.4"/>
<rect x="312.61" y="75.11" width="0.9" height="0.9" fill="#c4c0dc" fill-opacity="0.4"/>
<rect x="303.19" y="94.24" width="0.9" height="0.9" fill="#c4c0dc" fill-opacity="0.4"/>
<rect x="305.19" y="79.85" width="0.9" height="0.9" fill="#c4c0dc" fill-opacity="0.4"/>
<rect x="316.48" y="85.36" width="0.9" height="0.9" fill="#c4c0dc" fill-opacity="0.4"/>
<rect x="308.58" y="91.66" width="0.9" height="0.9" fill="#c4c0dc" fill-opacity="0.4"/>
<rect x="307.55" y="93.32" width="0.9" height="0.9" fill="#c4c0dc" fill-opacity="0.4"/>
<rect x="318.21" y="82.97" width="0.9" height="0.9" fill="#c4c0dc" fill-opacity="0.4"/>
<rect x="308.81" y="86.4" width="0.9" height="0.9" fill="#c4c0dc" fill-opacity="0.4"/>
<rect x="302.92" y="78.57" width="0.9" height="0.9" fill="#c4c0dc" fill-opacity="0.4"/>
<rect x="310.67" y="101.73" width="0.9" height="0.9" fill="#c4c0dc" fill-opacity="0.4"/>
<rect x="301.09" y="91.85" width="0.9" height="0.9" fill="#c4c0dc" fill-opacity="0.4"/>
<rect x="312.64" y="76.07" width="0.9" height="0.9" fill="#c4c0dc" fill-opacity="0.4"/>
<rect x="313.03" y="86.04" width="0.9" height="0.9" fill="#c4c0dc" fill-opacity="0.4"/>
<rect x="304.14" y="92.42" width="0.9" height="0.9" fill="#c4c0dc" fill-opacity="0.4"/>
<rect x="303.86" y="90.31" width="0.9" height="0.9" fill="#c4c0dc" fill-opacity="0.4"/>
<rect x="307.88" y="102.46" width="0.9" height="0.9" fill="#c4c0dc" fill-opacity="0.4"/>
<rect x="307.07" y="98.35" width="0.9" height="0.9" fill="#c4c0dc" fill-opacity="0.4"/>
<rect x="302.11" y="81.15" width="0.9" height="0.9" fill="#c4c0dc" fill-opacity="0.4"/>
<rect x="309.84" y="85.2" width="0.9" height="0.9" fill="#c4c0dc" fill-opacity="0.4"/>
<rect x="304.84" y="88.25" width="0.9" height="0.9" fill="#c4c0dc" fill-opacity="0.4"/>
<rect x="304.98" y="87.36" width="0.9" height="0.9" fill="#c4c0dc" fill-opacity="0.4"/>
<rect x="308.54" y="86.88" width="0.9" height="0.9" fill="#c4c0dc" fill-opacity="0.4"/>
<rect x="300.86" y="67.16" width="0.9" height="0.9" fill="#c4c0dc" fill-opacity="0.4"/>
<rect x="309.94" y="79.95" width="0.9" height="0.9" fill="#c4c0dc" fill-opacity="0.4"/>
<rect x="306.1" y="87.01" width="0.9" height="0.9" fill="#c4c0dc" fill-opacity="0.4"/>
<rect x="303.75" y="74.7" width="0.9" height="0.9" fill="#c4c0dc" fill-opacity="0.4"/>
<rect x="300.17" y="78.2" width="0.9" height="0.9" fill="#c4c0dc" fill-opacity="0.4"/>
<rect x="301.08" y="82.71" width="0.9" height="0.9" fill="#c4c0dc" fill-opacity="0.4"/>
<rect x="308.8" y="89.08" width="0.9" height="0.9" fill="#c4c0dc" fill-opacity="0.4"/>
<rect x="302.18" y="84.51" width="0.9" height="0.9" fill="#c4c0dc" fill-opacity="0.4"/>
<rect x="307.32" y="78" width="0.9" height="0.9" fill="#c4c0dc" fill-opacity="0.4"/>
<rect x="312.31" y="93.09" width="0.9" height="0.9" fill="#c4c0dc" fill-opacity="0.4"/>
<rect x="312.16" y="81.14" width="0.9" height="0.9" fill="#c4c0dc" fill-opacity="0.4"/>
<rect x="314.8" y="81.51" width="0.9" height="0.9" fill="#c4c0dc" fill-opacity="0.4"/>
<rect x="305.52" y="73.58" width="0.9" height="0.9" fill="#c4c0dc" fill-opacity="0.4"/>
<rect x="301.57" y="78.93" width="0.9" height="0.9" fill="#c4c0dc" fill-opacity="0.4"/>
<rect x="312.1" y="91.87" width="0.9" height="0.9" fill="#c4c0dc" fill-opacity="0.4"/>
<rect x="308.55" y="71.44" width="0.9" height="0.9" fill="#c4c0dc" fill-opacity="0.4"/>
<rect x="312.62" y="85.36" width="0.9" height="0.9" fill="#c4c0dc" fill-opacity="0.4"/>
<rect x="307.06" y="92.46" width="0.9" height="0.9" fill="#c4c0dc" fill-opacity="0.4"/>
<rect x="312.98" y="82.61" width="0.9" height="0.9" fill="#c4c0dc" fill-opacity="0.4"/>
<rect x="311.23" y="88.16" width="0.9" height="0.9" fill="#c4c0dc" fill-opacity="0.4"/>
<rect x="310.58" y="75.95" width="0.9" height="0.9" fill="#c4c0dc" fill-opacity="0.4"/>
<rect x="309.52" y="97.79" width="0.9" height="0.9" fill="#c4c0dc" fill-opacity="0.4"/>
<rect x="308.99" y="95.91" width="0.9" height="0.9" fill="#c4c0dc" fill-opacity="0.4"/>
<rect x="308.17" y="88.12" width="0.9" height="0.9" fill="#c4c0dc" fill-opacity="0.4"/>
<rect x="308.13" y="70.2" width="0.9" height="0.9" fill="#c4c0dc" fill-opacity="0.4"/>
<rect x="311.95" y="76.59" width="0.9" height="0.9" fill="#c4c0dc" fill-opacity="0.4"/>
<rect x="304.44" y="94.79" width="0.9" height="0.9" fill="#c4c0dc" fill-opacity="0.4"/>
<rect x="315.68" y="101.42" width="0.9" height="0.9" fill="#c4c0dc" fill-opacity="0.4"/>
<rect x="306.47" y="88.67" width="0.9" height="0.9" fill="#c4c0dc" fill-opacity="0.4"/>
<rect x="311.93" y="97.23" width="0.9" height="0.9" fill="#c4c0dc" fill-opacity="0.4"/>
<rect x="306.55" y="80.53" width="0.9" height="0.9" fill="#c4c0dc" fill-opacity="0.4"/>
<rect x="305.77" y="84.3" width="0.9" height="0.9" fill="#c4c0dc" fill-opacity="0.4"/>
<rect x="317.16" y="86.01" width="0.9" height="0.9" fill="#c4c0dc" fill-opacity="0.4"/>
<rect x="305.45" y="89.81" width="0.9" height="0.9" fill="#c4c0dc" fill-opacity="0.4"/>
<rect x="300.61" y="72.24" width="0.9" height="0.9" fill="#c4c0dc" fill-opacity="0.4"/>
<rect x="303.43" y="94.47" width="0.9" height="0.9" fill="#c4c0dc" fill-opacity="0.4"/>
<rect x="305.41" y="97.9" width="0.9" height="0.9" fill="#c4c0dc" fill-opacity="0.4"/>
<rect x="317.78" y="75.66" width="0.9" height="0.9" fill="#c4c0dc" fill-opacity="0.4"/>
<rect x="308.03" y="73.8" width="0.9" height="0.9" fill="#c4c0dc" fill-opacity="0.4"/>
<rect x="311.67" y="89.16" width="0.9" height="0.9" fill="#c4c0dc" fill-opacity="0.4"/>
<rect x="301.99" y="80.11" width="0.9" height="0.9" fill="#c4c0dc" fill-opacity="0.4"/>
<rect x="308.76" y="64.66" width="0.9" height="0.9" fill="#c4c0dc" fill-opacity="0.4"/>
<rect x="310.36" y="93.28" width="0.9" height="0.9" fill="#c4c0dc" fill-opacity="0.4"/>
<rect x="316.01" y="87.4" width="0.9" height="0.9" fill="#c4c0dc" fill-opacity="0.4"/>
<rect x="303.52" y="81.71" width="0.9" height="0.9" fill="#c4c0dc" fill-opacity="0.4"/>
<rect x="310.02" y="105.02" width="0.9" height="0.9" fill="#c4c0dc" fill-opacity="0.4"/>
<rect x="308.51" y="87.25" width="0.9" height="0.9" fill="#c4c0dc" fill-opacity="0.4"/>
<rect x="301.89" y="79.22" width="0.9" height="0.9" fill="#c4c0dc" fill-opacity="0.4"/>
<rect x="306.9" y="86.91" width="0.9" height="0.9" fill="#c4c0dc" fill-opacity="0.4"/>
<rect x="305.68" y="76.64" width="0.9" height="0.9" fill="#c4c0dc" fill-opacity="0.4"/>
<rect x="309.99" y="89.48" width="0.9" height="0.9" fill="#c4c0dc" fill-opacity="0.4"/>
<rect x="309.7" y="81.01" width="0.9" height="0.9" fill="#c4c0dc" fill-opacity="0.4"/>
<rect x="304.81" y="81.94" width="0.9" height="0.9" fill="#c4c0dc" fill-opacity="0.4"/>
<rect x="300.31" y="101.02" width="0.9" height="0.9" fill="#c4c0dc" fill-opacity="0.4"/>
<rect x="314.4" y="93.74" width="0.9" height="0.9" fill="#c4c0dc" fill-opacity="0.4"/>
<rect x="308.33" y="93.23" width="0.9" height="0.9" fill="#c4c0dc" fill-opacity="0.4"/>
<rect x="312.08" y="90.76" width="0.9" height="0.9" fill="#c4c0dc" fill-opacity="0.4"/>
<rect x="314.05" y="90.36" width="0.9" height="0.9" fill="#c4c0dc" fill-opacity="0.4"/>
<rect x="304.4" y="99.11" width="0.9" height="0.9" fill="#c4c0dc" fill-opacity="0.4"/>
<rect x="311.06" y="85.82" width="0.9" height="0.9" fill="#c4c0dc" fill-opacity="0.4"/>
<rect x="305.79" y="102.7" width="0.9" height="0.9" fill="#c4c0dc" fill-opacity="0.4"/>
<rect x="306.69" y="77.44" width="0.9" height="0.9" fill="#c4c0dc" fill-opacity="0.4"/>
<rect x="306.57" y="83.7" width="0.9" height="0.9" fill="#c4c0dc" fill-opacity="0.4"/>
<rect x="306.99" y="73.59" width="0.9" height="0.9" fill="#c4c0dc" fill-opacity="0.4"/>
<rect x="312.57" y="82.91" width="0.9" height="0.9" fill="#c4c0dc" fill-opacity="0.4"/>
<rect x="307.62" y="90.67" width="0.9" height="0.9" fill="#c4c0dc" fill-opacity="0.4"/>
<rect x="306.23" y="99.06" width="0.9" height="0.9" fill="#c4c0dc" fill-opacity="0.4"/>
<rect x="305.62" y="80.03" width="0.9" height="0.9" fill="#c4c0dc" fill-opacity="0.4"/>
<rect x="308.71" y="86.05" width="0.9" height="0.9" fill="#c4c0dc" fill-opacity="0.4"/>
<rect x="302.53" y="82.77" width="0.9" height="0.9" fill="#c4c0dc" fill-opacity="0.4"/>
<rect x="304.49" y="79.35" width="0.9" height="0.9" fill="#c4c0dc" fill-opacity="0.4"/>
<rect x="306.74" y="75.3" width="0.9" height="0.9" fill="#c4c0dc" fill-opacity="0.4"/>
<rect x="304.17" y="86.55" width="0.9" height="0.9" fill="#c4c0dc" fill-opacity="0.4"/>
<rect x="306.41" y="70.41" width="0.9" height="0.9" fill="#c4c0dc" fill-opacity="0.4"/>
<rect x="303.95" y="86.99" width="0.9" height="0.9" fill="#c4c0dc" fill-opacity="0.4"/>
<rect x="317.02" y="86.19" width="0.9" height="0.9" fill="#c4c0dc" fill-opacity="0.4"/>
<rect x="313.65" y="80.08" width="0.9" height="0.9" fill="#c4c0dc" fill-opacity="0.4"/>
<rect x="309.25" y="76.9" width="0.9" height="0.9" fill="#c4c0dc" fill-opacity="0.4"/>
<rect x="306.73" y="73.54" width="0.9" height="0.9" fill="#c4c0dc" fill-opacity="0.4"/>
<rect x="317.95" y="102.84" width="0.9" height="0.9" fill="#c4c0dc" fill-opacity="0.4"/>
<rect x="308.61" y="73.92" width="0.9" height="0.9" fill="#c4c0dc" fill-opacity="0.4"/>
<rect x="306.57" y="100.02" width="0.9" height="0.9" fill="#c4c0dc" fill-opacity="0.4"/>
<rect x="308.52" y="91.4" width="0.9" height="0.9" fill="#c4c0dc" fill-opacity="0.4"/>
<rect x="308.53" y="82.72" width="0.9" height="0.9" fill="#c4c0dc" fill-opacity="0.4"/>
<rect x="314.05" y="75.59" width="0.9" height="0.9" fill="#c4c0dc" fill-opacity="0.4"/>
<rect x="306.91" y="95.38" width="0.9" height="0.9" fill="#c4c0dc" fill-opacity="0.4"/>
<rect x="317.5" y="101.57" width="0.9" height="0.9" fill="#c4c0dc" fill-opacity="0.4"/>
<rect x="302.59" y="77.59" width="0.9" height="0.9" fill="#c4c0dc" fill-opacity="0.4"/>
<rect x="310.47" y="83.31" width="0.9" height="0.9" fill="#c4c0dc" fill-opacity="0.4"/>
<rect x="301.99" y="95.46" width="0.9" height="0.9" fill="#c4c0dc" fill-opacity="0.4"/>
<rect x="316.09" y="89.02" width="0.9" height="0.9" fill="#c4c0dc" fill-opacity="0.4"/>
<rect x="305.35" y="104" width="0.9" height="0.9" fill="#c4c0dc" fill-opacity="0.4"/>
<rect x="306.71" y="80.87" width="0.9" height="0.9" fill="#c4c0dc" fill-opacity="0.4"/>
<rect x="311.62" y="90.88" width="0.9" height="0.9" fill="#c4c0dc" fill-opacity="0.4"/>
<rect x="313.28" y="74.74" width="0.9" height="0.9" fill="#c4c0dc" fill-opacity="0.4"/>
<rect x="301.44" y="104.86" width="0.9" height="0.9" fill="#c4c0dc" fill-opacity="0.4"/>
<rect x="305.27" y="79.43" width="0.9" height="0.9" fill="#c4c0dc" fill-opacity="0.4"/>
<rect x="300.03" y="66.13" width="0.9" height="0.9" fill="#c4c0dc" fill-opacity="0.4"/>
<rect x="307.69" y="84.87" width="0.9" height="0.9" fill="#c4c0dc" fill-opacity="0.4"/>
<rect x="306.49" y="84.75" width="0.9" height="0.9" fill="#c4c0dc" fill-opacity="0.4"/>
<rect x="305.26" y="103.24" width="0.9" height="0.9" fill="#c4c0dc" fill-opacity="0.4"/>
<rect x="303.58" y="82.95" width="0.9" height="0.9" fill="#c4c0dc" fill-opacity="0.4"/>
<rect x="305.07" y="85.89" width="0.9" height="0.9" fill="#c4c0dc" fill-opacity="0.4"/>
<rect x="303.27" y="91.34" width="0.9" height="0.9" fill="#c4c0dc" fill-opacity="0.4"/>
<rect x="309.64" y="100.28" width="0.9" height="0.9" fill="#c4c0dc" fill-opacity="0.4"/>
<rect x="314.58" y="85.43" width="0.9" height="0.9" fill="#c4c0dc" fill-opacity="0.4"/>
<rect x="297.35" y="95.36" width="0.9" height="0.9" fill="#c4c0dc" fill-opacity="0.4"/>
<rect x="306.42" y="90.66" width="0.9" height="0.9" fill="#c4c0dc" fill-opacity="0.4"/>
<rect x="304.91" y="83.33" width="0.9" height="0.9" fill="#c4c0dc" fill-opacity="0.4"/>
<rect x="309.46" y="86.7" width="0.9" height="0.9" fill="#c4c0dc" fill-opacity="0.4"/>
<rect x="302.24" y="86.26" width="0.9" height="0.9" fill="#c4c0dc" fill-opacity="0.4"/>
<rect x="306.27" y="77.76" width="0.9" height="0.9" fill="#c4c0dc" fill-opacity="0.4"/>
<rect x="301.8" y="96.92" width="0.9" height="0.9" fill="#c4c0dc" fill-opacity="0.4"/>
<rect x="310.48" y="73.53" width="0.9" height="0.9" fill="#c4c0dc" fill-opacity="0.4"/>
<rect x="307.5" y="96.54" width="0.9" height="0.9" fill="#c4c0dc" fill-opacity="0.4"/>
<rect x="306.19" y="94.59" width="0.9" height="0.9" fill="#c4c0dc" fill-opacity="0.4"/>
<rect x="308.85" y="85.16" width="0.9" height="0.9" fill="#c4c0dc" fill-opacity="0.4"/>
<rect x="305.77" y="79.11" width="0.9" height="0.9" fill="#c4c0dc" fill-opacity="0.4"/>
<rect x="299.23" y="83.96" width="0.9" height="0.9" fill="#c4c0dc" fill-opacity="0.4"/>
<rect x="309.98" y="90.25" width="0.9" height="0.9" fill="#c4c0dc" fill-opacity="0.4"/>
<rect x="308.44" y="92.69" width="0.9" height="0.9" fill="#c4c0dc" fill-opacity="0.4"/>
<rect x="306.23" y="88.58" width="0.9" height="0.9" fill="#c4c0dc" fill-opacity="0.4"/>
<rect x="311.92" y="94.93" width="0.9" height="0.9" fill="#c4c0dc" fill-opacity="0.4"/>
<rect x="313.09" y="80.98" width="0.9" height="0.9" fill="#c4c0dc" fill-opacity="0.4"/>
<rect x="301.54" y="88.11" width="0.9" height="0.9" fill="#c4c0dc" fill-opacity="0.4"/>
<rect x="303.09" y="71.88" width="0.9" height="0.9" fill="#c4c0dc" fill-opacity="0.4"/>
<rect x="314.74" y="92.87" width="0.9" height="0.9" fill="#c4c0dc" fill-opacity="0.4"/>
<rect x="314.09" y="87.38" width="0.9" height="0.9" fill="#c4c0dc" fill-opacity="0.4"/>
<rect x="303.31" y="82.26" width="0.9" height="0.9" fill="#c4c0dc" fill-opacity="0.4"/>
<rect x="301.1" y="96.45" width="0.9" height="0.9" fill="#c4c0dc" fill-opacity="0.4"/>
<rect x="327.43" y="62.87" width="0.9" height="0.9" fill="#b64aa8" fill-opacity="0.46"/>
<rect x="337.81" y="64.73" width="0.9" height="0.9" fill="#b64aa8" fill-opacity="0.4"/>
<rect x="312.52" y="70.51" width="0.9" height="0.9" fill="#b64aa8" fill-opacity="0.56"/>
<rect x="316.15" y="70.23" width="0.9" height="0.9" fill="#b64aa8" fill-opacity="0.55"/>
<rect x="341.46" y="56.81" width="0.9" height="0.9" fill="#b64aa8" fill-opacity="0.37"/>
<rect x="312.14" y="72.85" width="0.9" height="0.9" fill="#b64aa8" fill-opacity="0.58"/>
<rect x="320.84" y="67.42" width="0.9" height="0.9" fill="#b64aa8" fill-opacity="0.51"/>
<rect x="326.88" y="60.86" width="0.9" height="0.9" fill="#b64aa8" fill-opacity="0.45"/>
<rect x="326.18" y="57.96" width="0.9" height="0.9" fill="#b64aa8" fill-opacity="0.46"/>
<rect x="338.79" y="60.93" width="0.9" height="0.9" fill="#b64aa8" fill-opacity="0.4"/>
<rect x="324.44" y="63.84" width="0.9" height="0.9" fill="#b64aa8" fill-opacity="0.48"/>
<rect x="328.95" y="58.77" width="0.9" height="0.9" fill="#b64aa8" fill-opacity="0.45"/>
<rect x="310.75" y="75.3" width="0.9" height="0.9" fill="#b64aa8" fill-opacity="0.59"/>
<rect x="312.42" y="74.95" width="0.9" height="0.9" fill="#b64aa8" fill-opacity="0.58"/>
<rect x="339.63" y="52.83" width="0.9" height="0.9" fill="#b64aa8" fill-opacity="0.37"/>
<rect x="308.06" y="76.67" width="0.9" height="0.9" fill="#b64aa8" fill-opacity="0.61"/>
<rect x="320.29" y="65.37" width="0.9" height="0.9" fill="#b64aa8" fill-opacity="0.51"/>
<rect x="321.3" y="71" width="0.9" height="0.9" fill="#b64aa8" fill-opacity="0.53"/>
<rect x="316.43" y="65.52" width="0.9" height="0.9" fill="#b64aa8" fill-opacity="0.52"/>
<rect x="335.15" y="62.33" width="0.9" height="0.9" fill="#b64aa8" fill-opacity="0.41"/>
<rect x="322.88" y="62.71" width="0.9" height="0.9" fill="#b64aa8" fill-opacity="0.48"/>
<rect x="333.19" y="65.75" width="0.9" height="0.9" fill="#b64aa8" fill-opacity="0.44"/>
<rect x="323.14" y="66.34" width="0.9" height="0.9" fill="#b64aa8" fill-opacity="0.49"/>
<rect x="316.45" y="67.86" width="0.9" height="0.9" fill="#b64aa8" fill-opacity="0.53"/>
<rect x="327.19" y="64.34" width="0.9" height="0.9" fill="#b64aa8" fill-opacity="0.46"/>
<rect x="312.65" y="76.66" width="0.9" height="0.9" fill="#b64aa8" fill-opacity="0.59"/>
<rect x="326.31" y="60.38" width="0.9" height="0.9" fill="#b64aa8" fill-opacity="0.47"/>
<rect x="319.81" y="66.56" width="0.9" height="0.9" fill="#b64aa8" fill-opacity="0.51"/>
<rect x="307.33" y="75.34" width="0.9" height="0.9" fill="#b64aa8" fill-opacity="0.6"/>
<rect x="309.04" y="77.3" width="0.9" height="0.9" fill="#b64aa8" fill-opacity="0.6"/>
<rect x="327.28" y="65.64" width="0.9" height="0.9" fill="#b64aa8" fill-opacity="0.46"/>
<rect x="305.83" y="71.48" width="0.9" height="0.9" fill="#b64aa8" fill-opacity="0.6"/>
<rect x="317.75" y="69.73" width="0.9" height="0.9" fill="#b64aa8" fill-opacity="0.53"/>
<rect x="338.94" y="54.9" width="0.9" height="0.9" fill="#b64aa8" fill-opacity="0.38"/>
<rect x="332.3" y="56.55" width="0.9" height="0.9" fill="#b64aa8" fill-opacity="0.42"/>
<rect x="328.41" y="59.88" width="0.9" height="0.9" fill="#b64aa8" fill-opacity="0.45"/>
<rect x="314.89" y="73.44" width="0.9" height="0.9" fill="#b64aa8" fill-opacity="0.56"/>
<rect x="313.62" y="73.49" width="0.9" height="0.9" fill="#b64aa8" fill-opacity="0.57"/>
<rect x="314.45" y="65" width="0.9" height="0.9" fill="#b64aa8" fill-opacity="0.53"/>
<rect x="317.14" y="67.52" width="0.9" height="0.9" fill="#b64aa8" fill-opacity="0.53"/>
<rect x="312.85" y="73.24" width="0.9" height="0.9" fill="#b64aa8" fill-opacity="0.57"/>
<rect x="309.8" y="77.26" width="0.9" height="0.9" fill="#b64aa8" fill-opacity="0.61"/>
<rect x="311.51" y="72.69" width="0.9" height="0.9" fill="#b64aa8" fill-opacity="0.57"/>
<rect x="308.29" y="76.01" width="0.9" height="0.9" fill="#b64aa8" fill-opacity="0.6"/>
<rect x="321.47" y="67.77" width="0.9" height="0.9" fill="#b64aa8" fill-opacity="0.51"/>
<rect x="317.22" y="71.05" width="0.9" height="0.9" fill="#b64aa8" fill-opacity="0.54"/>
<rect x="326.54" y="66.94" width="0.9" height="0.9" fill="#b64aa8" fill-opacity="0.46"/>
<rect x="313.21" y="68.26" width="0.9" height="0.9" fill="#b64aa8" fill-opacity="0.55"/>
<rect x="318.76" y="62.84" width="0.9" height="0.9" fill="#b64aa8" fill-opacity="0.51"/>
<rect x="320.49" y="62.66" width="0.9" height="0.9" fill="#b64aa8" fill-opacity="0.5"/>
<rect x="309.96" y="71.35" width="0.9" height="0.9" fill="#b64aa8" fill-opacity="0.58"/>
<rect x="318.74" y="68.28" width="0.9" height="0.9" fill="#b64aa8" fill-opacity="0.52"/>
<rect x="336.2" y="58.26" width="0.9" height="0.9" fill="#b64aa8" fill-opacity="0.41"/>
<rect x="338.5" y="58.56" width="0.9" height="0.9" fill="#b64aa8" fill-opacity="0.38"/>
<rect x="336.47" y="61.92" width="0.9" height="0.9" fill="#b64aa8" fill-opacity="0.41"/>
<rect x="328.18" y="65.52" width="0.9" height="0.9" fill="#b64aa8" fill-opacity="0.47"/>
<rect x="307.48" y="73.35" width="0.9" height="0.9" fill="#b64aa8" fill-opacity="0.6"/>
<rect x="312.96" y="76.09" width="0.9" height="0.9" fill="#b64aa8" fill-opacity="0.58"/>
<rect x="313.3" y="72.64" width="0.9" height="0.9" fill="#b64aa8" fill-opacity="0.56"/>
<rect x="314.92" y="68.38" width="0.9" height="0.9" fill="#b64aa8" fill-opacity="0.55"/>
<rect x="321.76" y="60" width="0.9" height="0.9" fill="#b64aa8" fill-opacity="0.48"/>
<rect x="339.43" y="59.03" width="0.9" height="0.9" fill="#b64aa8" fill-opacity="0.38"/>
<rect x="330.52" y="66.07" width="0.9" height="0.9" fill="#b64aa8" fill-opacity="0.44"/>
<rect x="321.73" y="65.92" width="0.9" height="0.9" fill="#b64aa8" fill-opacity="0.5"/>
<rect x="317.63" y="64.21" width="0.9" height="0.9" fill="#b64aa8" fill-opacity="0.52"/>
<rect x="323.45" y="70.73" width="0.9" height="0.9" fill="#b64aa8" fill-opacity="0.51"/>
<rect x="319.37" y="69.05" width="0.9" height="0.9" fill="#b64aa8" fill-opacity="0.51"/>
<rect x="324.1" y="63.82" width="0.9" height="0.9" fill="#b64aa8" fill-opacity="0.48"/>
<rect x="307.94" y="75.19" width="0.9" height="0.9" fill="#b64aa8" fill-opacity="0.6"/>
<rect x="315.91" y="80.46" width="0.9" height="0.9" fill="#b64aa8" fill-opacity="0.59"/>
<rect x="319.59" y="64.05" width="0.9" height="0.9" fill="#b64aa8" fill-opacity="0.51"/>
<rect x="329.98" y="60.68" width="0.9" height="0.9" fill="#b64aa8" fill-opacity="0.44"/>
<rect x="324.04" y="63.99" width="0.9" height="0.9" fill="#b64aa8" fill-opacity="0.48"/>
<rect x="321.84" y="66.47" width="0.9" height="0.9" fill="#b64aa8" fill-opacity="0.5"/>
<rect x="314.97" y="69.9" width="0.9" height="0.9" fill="#b64aa8" fill-opacity="0.55"/>
<rect x="313.89" y="69.63" width="0.9" height="0.9" fill="#b64aa8" fill-opacity="0.56"/>
<rect x="313.1" y="74.69" width="0.9" height="0.9" fill="#b64aa8" fill-opacity="0.57"/>
<rect x="322.55" y="66.27" width="0.9" height="0.9" fill="#b64aa8" fill-opacity="0.5"/>
<rect x="338.13" y="63.14" width="0.9" height="0.9" fill="#b64aa8" fill-opacity="0.4"/>
<rect x="323.48" y="67.53" width="0.9" height="0.9" fill="#b64aa8" fill-opacity="0.49"/>
<rect x="318.71" y="63.07" width="0.9" height="0.9" fill="#b64aa8" fill-opacity="0.51"/>
<rect x="316.63" y="69.84" width="0.9" height="0.9" fill="#b64aa8" fill-opacity="0.54"/>
<rect x="338.84" y="58.34" width="0.9" height="0.9" fill="#b64aa8" fill-opacity="0.38"/>
<rect x="317.67" y="66.76" width="0.9" height="0.9" fill="#b64aa8" fill-opacity="0.53"/>
<rect x="310.52" y="77.05" width="0.9" height="0.9" fill="#b64aa8" fill-opacity="0.6"/>
<rect x="335.32" y="62.01" width="0.9" height="0.9" fill="#b64aa8" fill-opacity="0.4"/>
<rect x="322.91" y="62.47" width="0.9" height="0.9" fill="#b64aa8" fill-opacity="0.49"/>
<rect x="328.33" y="67.22" width="0.9" height="0.9" fill="#b64aa8" fill-opacity="0.46"/>
<rect x="330.78" y="61" width="0.9" height="0.9" fill="#b64aa8" fill-opacity="0.43"/>
<rect x="316.19" y="70.63" width="0.9" height="0.9" fill="#b64aa8" fill-opacity="0.55"/>
<rect x="314.13" y="65.94" width="0.9" height="0.9" fill="#b64aa8" fill-opacity="0.54"/>
<rect x="331.06" y="62.6" width="0.9" height="0.9" fill="#b64aa8" fill-opacity="0.44"/>
<rect x="317.69" y="64.77" width="0.9" height="0.9" fill="#b64aa8" fill-opacity="0.52"/>
<rect x="318.9" y="62.79" width="0.9" height="0.9" fill="#b64aa8" fill-opacity="0.51"/>
<rect x="322.25" y="65.87" width="0.9" height="0.9" fill="#b64aa8" fill-opacity="0.49"/>
<rect x="340.54" y="61.66" width="0.9" height="0.9" fill="#b64aa8" fill-opacity="0.38"/>
<rect x="314.89" y="68.14" width="0.9" height="0.9" fill="#b64aa8" fill-opacity="0.55"/>
<rect x="339.46" y="55.33" width="0.9" height="0.9" fill="#b64aa8" fill-opacity="0.37"/>
<rect x="317.98" y="72.02" width="0.9" height="0.9" fill="#b64aa8" fill-opacity="0.53"/>
<rect x="316.95" y="72.24" width="0.9" height="0.9" fill="#b64aa8" fill-opacity="0.55"/>
<rect x="345.27" y="56.31" width="0.9" height="0.9" fill="#b64aa8" fill-opacity="0.34"/>
<rect x="314.84" y="71.65" width="0.9" height="0.9" fill="#b64aa8" fill-opacity="0.55"/>
<rect x="308.37" y="72.5" width="0.9" height="0.9" fill="#b64aa8" fill-opacity="0.59"/>
<rect x="327.26" y="59.03" width="0.9" height="0.9" fill="#b64aa8" fill-opacity="0.46"/>
<rect x="311.69" y="68.44" width="0.9" height="0.9" fill="#b64aa8" fill-opacity="0.56"/>
<rect x="338.52" y="57.62" width="0.9" height="0.9" fill="#b64aa8" fill-opacity="0.38"/>
<rect x="315.09" y="73.06" width="0.9" height="0.9" fill="#b64aa8" fill-opacity="0.56"/>
<rect x="335.01" y="58.91" width="0.9" height="0.9" fill="#b64aa8" fill-opacity="0.4"/>
<rect x="316.69" y="69.16" width="0.9" height="0.9" fill="#b64aa8" fill-opacity="0.54"/>
<rect x="317.83" y="70.56" width="0.9" height="0.9" fill="#b64aa8" fill-opacity="0.53"/>
<rect x="321.3" y="59.42" width="0.9" height="0.9" fill="#b64aa8" fill-opacity="0.49"/>
<rect x="323.36" y="67.78" width="0.9" height="0.9" fill="#b64aa8" fill-opacity="0.5"/>
<rect x="315.58" y="71.05" width="0.9" height="0.9" fill="#b64aa8" fill-opacity="0.55"/>
<rect x="310.81" y="70.34" width="0.9" height="0.9" fill="#b64aa8" fill-opacity="0.57"/>
<rect x="316.94" y="68.17" width="0.9" height="0.9" fill="#b64aa8" fill-opacity="0.53"/>
<rect x="331.74" y="56.77" width="0.9" height="0.9" fill="#b64aa8" fill-opacity="0.42"/>
<rect x="322.06" y="67.42" width="0.9" height="0.9" fill="#b64aa8" fill-opacity="0.5"/>
<rect x="313.25" y="71.9" width="0.9" height="0.9" fill="#b64aa8" fill-opacity="0.56"/>
<rect x="318.01" y="67.53" width="0.9" height="0.9" fill="#b64aa8" fill-opacity="0.52"/>
<rect x="336.99" y="55.56" width="0.9" height="0.9" fill="#b64aa8" fill-opacity="0.38"/>
<rect x="326.94" y="63.85" width="0.9" height="0.9" fill="#b64aa8" fill-opacity="0.46"/>
<rect x="327.51" y="63.86" width="0.9" height="0.9" fill="#b64aa8" fill-opacity="0.46"/>
<rect x="319.44" y="69.27" width="0.9" height="0.9" fill="#b64aa8" fill-opacity="0.52"/>
<rect x="330.62" y="57.03" width="0.9" height="0.9" fill="#b64aa8" fill-opacity="0.43"/>
<rect x="317.69" y="67.35" width="0.9" height="0.9" fill="#b64aa8" fill-opacity="0.53"/>
<rect x="316.79" y="67.53" width="0.9" height="0.9" fill="#b64aa8" fill-opacity="0.53"/>
<rect x="311.49" y="76.33" width="0.9" height="0.9" fill="#b64aa8" fill-opacity="0.6"/>
<rect x="347.65" y="57.76" width="0.9" height="0.9" fill="#b64aa8" fill-opacity="0.33"/>
<rect x="309.2" y="76.83" width="0.9" height="0.9" fill="#b64aa8" fill-opacity="0.61"/>
<rect x="317.96" y="71.05" width="0.9" height="0.9" fill="#b64aa8" fill-opacity="0.54"/>
<rect x="345.7" y="56.4" width="0.9" height="0.9" fill="#b64aa8" fill-opacity="0.34"/>
<rect x="335.25" y="66.59" width="0.9" height="0.9" fill="#b64aa8" fill-opacity="0.42"/>
<rect x="310.76" y="73.08" width="0.9" height="0.9" fill="#b64aa8" fill-opacity="0.58"/>
<rect x="320.45" y="66.5" width="0.9" height="0.9" fill="#b64aa8" fill-opacity="0.51"/>
<rect x="304.75" y="74.98" width="0.9" height="0.9" fill="#b64aa8" fill-opacity="0.61"/>
<rect x="313.76" y="72.43" width="0.9" height="0.9" fill="#b64aa8" fill-opacity="0.56"/>
<rect x="310.79" y="74.8" width="0.9" height="0.9" fill="#b64aa8" fill-opacity="0.59"/>
<rect x="322.62" y="68.91" width="0.9" height="0.9" fill="#b64aa8" fill-opacity="0.51"/>
<rect x="311.82" y="74.32" width="0.9" height="0.9" fill="#b64aa8" fill-opacity="0.58"/>
<rect x="314.51" y="66.69" width="0.9" height="0.9" fill="#b64aa8" fill-opacity="0.54"/>
<rect x="319.12" y="67.6" width="0.9" height="0.9" fill="#b64aa8" fill-opacity="0.51"/>
<rect x="309.12" y="75.56" width="0.9" height="0.9" fill="#b64aa8" fill-opacity="0.6"/>
<rect x="326.16" y="64.97" width="0.9" height="0.9" fill="#b64aa8" fill-opacity="0.47"/>
<rect x="342.27" y="57.58" width="0.9" height="0.9" fill="#b64aa8" fill-opacity="0.36"/>
<rect x="330.08" y="60.21" width="0.9" height="0.9" fill="#b64aa8" fill-opacity="0.43"/>
<rect x="316.36" y="69.63" width="0.9" height="0.9" fill="#b64aa8" fill-opacity="0.55"/>
<rect x="331.45" y="61.52" width="0.9" height="0.9" fill="#b64aa8" fill-opacity="0.43"/>
<rect x="312.36" y="69.1" width="0.9" height="0.9" fill="#b64aa8" fill-opacity="0.56"/>
<rect x="314.9" y="67.72" width="0.9" height="0.9" fill="#b64aa8" fill-opacity="0.54"/>
<rect x="334.19" y="60.38" width="0.9" height="0.9" fill="#b64aa8" fill-opacity="0.41"/>
<rect x="313.21" y="75.47" width="0.9" height="0.9" fill="#b64aa8" fill-opacity="0.58"/>
<rect x="307.7" y="77.12" width="0.9" height="0.9" fill="#b64aa8" fill-opacity="0.61"/>
<rect x="318.01" y="68.13" width="0.9" height="0.9" fill="#b64aa8" fill-opacity="0.53"/>
<rect x="320.61" y="68.01" width="0.9" height="0.9" fill="#b64aa8" fill-opacity="0.51"/>
<rect x="311.42" y="73.58" width="0.9" height="0.9" fill="#b64aa8" fill-opacity="0.58"/>
<rect x="335.03" y="55.5" width="0.9" height="0.9" fill="#b64aa8" fill-opacity="0.4"/>
<rect x="312.84" y="70.42" width="0.9" height="0.9" fill="#b64aa8" fill-opacity="0.56"/>
<rect x="332.3" y="64.15" width="0.9" height="0.9" fill="#b64aa8" fill-opacity="0.43"/>
<rect x="318.03" y="68.6" width="0.9" height="0.9" fill="#b64aa8" fill-opacity="0.52"/>
<rect x="307.87" y="72.66" width="0.9" height="0.9" fill="#b64aa8" fill-opacity="0.59"/>
<rect x="309.97" y="66.63" width="0.9" height="0.9" fill="#b64aa8" fill-opacity="0.55"/>
<rect x="326.2" y="63.37" width="0.9" height="0.9" fill="#b64aa8" fill-opacity="0.47"/>
<rect x="332.57" y="60.33" width="0.9" height="0.9" fill="#b64aa8" fill-opacity="0.42"/>
<rect x="320.4" y="73.57" width="0.9" height="0.9" fill="#b64aa8" fill-opacity="0.53"/>
<rect x="343.18" y="54.57" width="0.9" height="0.9" fill="#b64aa8" fill-opacity="0.36"/>
<rect x="338.67" y="60.24" width="0.9" height="0.9" fill="#b64aa8" fill-opacity="0.39"/>
<rect x="339.2" y="61.7" width="0.9" height="0.9" fill="#b64aa8" fill-opacity="0.39"/>
<rect x="323.56" y="66.66" width="0.9" height="0.9" fill="#b64aa8" fill-opacity="0.49"/>
<rect x="310.74" y="70.3" width="0.9" height="0.9" fill="#b64aa8" fill-opacity="0.57"/>
<rect x="330.5" y="61.85" width="0.9" height="0.9" fill="#b64aa8" fill-opacity="0.44"/>
<rect x="310.21" y="71.68" width="0.9" height="0.9" fill="#b64aa8" fill-opacity="0.58"/>
<rect x="316.6" y="67.92" width="0.9" height="0.9" fill="#b64aa8" fill-opacity="0.53"/>
<rect x="320.6" y="68.62" width="0.9" height="0.9" fill="#b64aa8" fill-opacity="0.52"/>
<rect x="320.03" y="61.96" width="0.9" height="0.9" fill="#b64aa8" fill-opacity="0.5"/>
<rect x="349.74" y="57.61" width="0.9" height="0.9" fill="#b64aa8" fill-opacity="0.32"/>
<rect x="323.18" y="70.04" width="0.9" height="0.9" fill="#b64aa8" fill-opacity="0.51"/>
<rect x="338.7" y="60.69" width="0.9" height="0.9" fill="#b64aa8" fill-opacity="0.39"/>
<rect x="310.91" y="72.76" width="0.9" height="0.9" fill="#b64aa8" fill-opacity="0.59"/>
<rect x="316.33" y="75.34" width="0.9" height="0.9" fill="#b64aa8" fill-opacity="0.57"/>
<rect x="329.11" y="66.91" width="0.9" height="0.9" fill="#b64aa8" fill-opacity="0.47"/>
<rect x="319.7" y="64.26" width="0.9" height="0.9" fill="#b64aa8" fill-opacity="0.51"/>
<rect x="326.85" y="63.63" width="0.9" height="0.9" fill="#b64aa8" fill-opacity="0.47"/>
<rect x="315.22" y="70.71" width="0.9" height="0.9" fill="#b64aa8" fill-opacity="0.56"/>
<rect x="315.33" y="72.01" width="0.9" height="0.9" fill="#b64aa8" fill-opacity="0.55"/>
<rect x="332.69" y="62" width="0.9" height="0.9" fill="#b64aa8" fill-opacity="0.43"/>
<rect x="326.02" y="60.91" width="0.9" height="0.9" fill="#b64aa8" fill-opacity="0.46"/>
<rect x="309.66" y="73.48" width="0.9" height="0.9" fill="#b64aa8" fill-opacity="0.59"/>
<rect x="331.25" y="62.12" width="0.9" height="0.9" fill="#b64aa8" fill-opacity="0.44"/>
<rect x="334.37" y="65.44" width="0.9" height="0.9" fill="#b64aa8" fill-opacity="0.43"/>
<rect x="318.99" y="70.85" width="0.9" height="0.9" fill="#b64aa8" fill-opacity="0.54"/>
<rect x="327.69" y="66.22" width="0.9" height="0.9" fill="#b64aa8" fill-opacity="0.46"/>
<rect x="342.47" y="59.19" width="0.9" height="0.9" fill="#b64aa8" fill-opacity="0.36"/>
<rect x="337.27" y="58.6" width="0.9" height="0.9" fill="#b64aa8" fill-opacity="0.39"/>
<rect x="317.01" y="67.21" width="0.9" height="0.9" fill="#b64aa8" fill-opacity="0.53"/>
<rect x="333.11" y="56.92" width="0.9" height="0.9" fill="#b64aa8" fill-opacity="0.42"/>
<rect x="308.68" y="75.59" width="0.9" height="0.9" fill="#b64aa8" fill-opacity="0.6"/>
<rect x="325.67" y="64.31" width="0.9" height="0.9" fill="#b64aa8" fill-opacity="0.48"/>
<rect x="316.13" y="67.51" width="0.9" height="0.9" fill="#b64aa8" fill-opacity="0.53"/>
<rect x="320.3" y="61.52" width="0.9" height="0.9" fill="#b64aa8" fill-opacity="0.48"/>
<rect x="305.98" y="71.09" width="0.9" height="0.9" fill="#b64aa8" fill-opacity="0.6"/>
<rect x="333.88" y="54.95" width="0.9" height="0.9" fill="#b64aa8" fill-opacity="0.41"/>
<rect x="317.09" y="73.8" width="0.9" height="0.9" fill="#b64aa8" fill-opacity="0.55"/>
<rect x="316.05" y="75.21" width="0.9" height="0.9" fill="#b64aa8" fill-opacity="0.57"/>
<rect x="337.15" y="61.73" width="0.9" height="0.9" fill="#b64aa8" fill-opacity="0.41"/>
<rect x="308.81" y="77.75" width="0.9" height="0.9" fill="#b64aa8" fill-opacity="0.61"/>
<rect x="314.03" y="73.01" width="0.9" height="0.9" fill="#b64aa8" fill-opacity="0.56"/>
<rect x="307.96" y="71.69" width="0.9" height="0.9" fill="#b64aa8" fill-opacity="0.58"/>
<rect x="322.87" y="72.49" width="0.9" height="0.9" fill="#b64aa8" fill-opacity="0.51"/>
<rect x="312.76" y="72.16" width="0.9" height="0.9" fill="#b64aa8" fill-opacity="0.57"/>
<rect x="323.65" y="65" width="0.9" height="0.9" fill="#b64aa8" fill-opacity="0.49"/>
<rect x="306.42" y="76.15" width="0.9" height="0.9" fill="#b64aa8" fill-opacity="0.61"/>
<rect x="306.71" y="72.37" width="0.9" height="0.9" fill="#b64aa8" fill-opacity="0.6"/>
<rect x="326.34" y="63.76" width="0.9" height="0.9" fill="#b64aa8" fill-opacity="0.48"/>
<rect x="331.1" y="64.24" width="0.9" height="0.9" fill="#b64aa8" fill-opacity="0.45"/>
<rect x="310.87" y="75.59" width="0.9" height="0.9" fill="#b64aa8" fill-opacity="0.59"/>
<rect x="349.96" y="51.18" width="0.9" height="0.9" fill="#b64aa8" fill-opacity="0.3"/>
<rect x="335.67" y="53.44" width="0.9" height="0.9" fill="#b64aa8" fill-opacity="0.39"/>
<rect x="318.58" y="73.13" width="0.9" height="0.9" fill="#b64aa8" fill-opacity="0.55"/>
<rect x="328.54" y="65.38" width="0.9" height="0.9" fill="#b64aa8" fill-opacity="0.46"/>
<rect x="333.8" y="56.32" width="0.9" height="0.9" fill="#b64aa8" fill-opacity="0.41"/>
<rect x="331.38" y="60" width="0.9" height="0.9" fill="#b64aa8" fill-opacity="0.43"/>
<rect x="313.87" y="78.34" width="0.9" height="0.9" fill="#b64aa8" fill-opacity="0.59"/>
<rect x="328.73" y="61.06" width="0.9" height="0.9" fill="#b64aa8" fill-opacity="0.45"/>
<rect x="338.8" y="57.5" width="0.9" height="0.9" fill="#b64aa8" fill-opacity="0.38"/>
<rect x="317.47" y="68.92" width="0.9" height="0.9" fill="#b64aa8" fill-opacity="0.53"/>
<rect x="320.32" y="68.01" width="0.9" height="0.9" fill="#b64aa8" fill-opacity="0.51"/>
<rect x="328.21" y="61.96" width="0.9" height="0.9" fill="#b64aa8" fill-opacity="0.45"/>
<rect x="314.63" y="73.97" width="0.9" height="0.9" fill="#b64aa8" fill-opacity="0.56"/>
<rect x="322.8" y="64.28" width="0.9" height="0.9" fill="#b64aa8" fill-opacity="0.49"/>
<rect x="307.91" y="74.35" width="0.9" height="0.9" fill="#b64aa8" fill-opacity="0.6"/>
<rect x="330.09" y="56.55" width="0.9" height="0.9" fill="#b64aa8" fill-opacity="0.44"/>
<rect x="325.99" y="63.92" width="0.9" height="0.9" fill="#b64aa8" fill-opacity="0.47"/>
<rect x="320" y="73.75" width="0.9" height="0.9" fill="#b64aa8" fill-opacity="0.54"/>
<rect x="324.09" y="66.12" width="0.9" height="0.9" fill="#b64aa8" fill-opacity="0.49"/>
<rect x="336.24" y="62.83" width="0.9" height="0.9" fill="#b64aa8" fill-opacity="0.41"/>
<rect x="320.59" y="67.63" width="0.9" height="0.9" fill="#b64aa8" fill-opacity="0.51"/>
<rect x="325.41" y="64.39" width="0.9" height="0.9" fill="#b64aa8" fill-opacity="0.48"/>
<rect x="310.58" y="66.84" width="0.9" height="0.9" fill="#b64aa8" fill-opacity="0.56"/>
<rect x="315.05" y="68.94" width="0.9" height="0.9" fill="#b64aa8" fill-opacity="0.54"/>
<rect x="311.56" y="66.37" width="0.9" height="0.9" fill="#b64aa8" fill-opacity="0.55"/>
<rect x="331.84" y="58.58" width="0.9" height="0.9" fill="#b64aa8" fill-opacity="0.42"/>
<rect x="315.69" y="68.19" width="0.9" height="0.9" fill="#b64aa8" fill-opacity="0.53"/>
<rect x="318.68" y="66.43" width="0.9" height="0.9" fill="#b64aa8" fill-opacity="0.51"/>
<rect x="332.7" y="58" width="0.9" height="0.9" fill="#b64aa8" fill-opacity="0.42"/>
<rect x="331.72" y="61.04" width="0.9" height="0.9" fill="#b64aa8" fill-opacity="0.43"/>
<rect x="327.2" y="62.27" width="0.9" height="0.9" fill="#b64aa8" fill-opacity="0.47"/>
<rect x="335.58" y="60.92" width="0.9" height="0.9" fill="#b64aa8" fill-opacity="0.4"/>
<rect x="312.53" y="70.38" width="0.9" height="0.9" fill="#b64aa8" fill-opacity="0.56"/>
<rect x="319.34" y="66.87" width="0.9" height="0.9" fill="#b64aa8" fill-opacity="0.51"/>
<rect x="317.36" y="65.97" width="0.9" height="0.9" fill="#b64aa8" fill-opacity="0.53"/>
<rect x="320.25" y="66.98" width="0.9" height="0.9" fill="#b64aa8" fill-opacity="0.51"/>
<rect x="310.13" y="73.67" width="0.9" height="0.9" fill="#b64aa8" fill-opacity="0.59"/>
<rect x="329.3" y="65.91" width="0.9" height="0.9" fill="#b64aa8" fill-opacity="0.46"/>
<rect x="314.03" y="75.25" width="0.9" height="0.9" fill="#b64aa8" fill-opacity="0.56"/>
<rect x="324.21" y="65.32" width="0.9" height="0.9" fill="#b64aa8" fill-opacity="0.49"/>
<rect x="313.6" y="78.61" width="0.9" height="0.9" fill="#b64aa8" fill-opacity="0.59"/>
<rect x="311.31" y="67.51" width="0.9" height="0.9" fill="#b64aa8" fill-opacity="0.56"/>
<rect x="311.81" y="71.04" width="0.9" height="0.9" fill="#b64aa8" fill-opacity="0.56"/>
<rect x="329.52" y="60.07" width="0.9" height="0.9" fill="#b64aa8" fill-opacity="0.44"/>
<rect x="320.76" y="70.39" width="0.9" height="0.9" fill="#b64aa8" fill-opacity="0.52"/>
<rect x="314.5" y="67.19" width="0.9" height="0.9" fill="#b64aa8" fill-opacity="0.55"/>
<rect x="339.55" y="54.93" width="0.9" height="0.9" fill="#b64aa8" fill-opacity="0.37"/>
<rect x="310.52" y="69.15" width="0.9" height="0.9" fill="#b64aa8" fill-opacity="0.57"/>
<rect x="326.9" y="63.97" width="0.9" height="0.9" fill="#b64aa8" fill-opacity="0.47"/>
<rect x="333.99" y="60.51" width="0.9" height="0.9" fill="#b64aa8" fill-opacity="0.42"/>
<rect x="343.81" y="57.41" width="0.9" height="0.9" fill="#b64aa8" fill-opacity="0.34"/>
<rect x="310.84" y="77.49" width="0.9" height="0.9" fill="#b64aa8" fill-opacity="0.6"/>
<rect x="344.88" y="55.48" width="0.9" height="0.9" fill="#b64aa8" fill-opacity="0.34"/>
<rect x="324.18" y="65.28" width="0.9" height="0.9" fill="#b64aa8" fill-opacity="0.49"/>
<rect x="333.54" y="61.66" width="0.9" height="0.9" fill="#b64aa8" fill-opacity="0.42"/>
<rect x="325.33" y="61.9" width="0.9" height="0.9" fill="#b64aa8" fill-opacity="0.46"/>
<rect x="333.45" y="58.75" width="0.9" height="0.9" fill="#b64aa8" fill-opacity="0.42"/>
<rect x="309.92" y="73.88" width="0.9" height="0.9" fill="#b64aa8" fill-opacity="0.59"/>
<rect x="320.49" y="69.12" width="0.9" height="0.9" fill="#b64aa8" fill-opacity="0.52"/>
<rect x="345.12" y="57.3" width="0.9" height="0.9" fill="#b64aa8" fill-opacity="0.35"/>
<rect x="314.44" y="71.63" width="0.9" height="0.9" fill="#b64aa8" fill-opacity="0.56"/>
<rect x="324.94" y="65.35" width="0.9" height="0.9" fill="#b64aa8" fill-opacity="0.48"/>
<rect x="324.49" y="68.16" width="0.9" height="0.9" fill="#b64aa8" fill-opacity="0.49"/>
<rect x="309.16" y="78.38" width="0.9" height="0.9" fill="#b64aa8" fill-opacity="0.61"/>
<rect x="319.07" y="71.22" width="0.9" height="0.9" fill="#b64aa8" fill-opacity="0.53"/>
<rect x="318.84" y="64.77" width="0.9" height="0.9" fill="#b64aa8" fill-opacity="0.52"/>
<rect x="311.37" y="74.22" width="0.9" height="0.9" fill="#b64aa8" fill-opacity="0.58"/>
<rect x="313.51" y="72.06" width="0.9" height="0.9" fill="#b64aa8" fill-opacity="0.57"/>
<rect x="311.27" y="76.54" width="0.9" height="0.9" fill="#b64aa8" fill-opacity="0.59"/>
<rect x="304.5" y="73.89" width="0.9" height="0.9" fill="#b64aa8" fill-opacity="0.61"/>
<rect x="319.56" y="67.69" width="0.9" height="0.9" fill="#b64aa8" fill-opacity="0.52"/>
<rect x="344.83" y="57.72" width="0.9" height="0.9" fill="#b64aa8" fill-opacity="0.35"/>
<rect x="312.68" y="76.7" width="0.9" height="0.9" fill="#b64aa8" fill-opacity="0.59"/>
<rect x="323.92" y="64.43" width="0.9" height="0.9" fill="#b64aa8" fill-opacity="0.48"/>
<rect x="329.92" y="57.46" width="0.9" height="0.9" fill="#b64aa8" fill-opacity="0.44"/>
<rect x="310.94" y="75.46" width="0.9" height="0.9" fill="#b64aa8" fill-opacity="0.59"/>
<rect x="321.9" y="62.16" width="0.9" height="0.9" fill="#b64aa8" fill-opacity="0.49"/>
<rect x="322.52" y="69.95" width="0.9" height="0.9" fill="#b64aa8" fill-opacity="0.51"/>
<rect x="319.17" y="64.2" width="0.9" height="0.9" fill="#b64aa8" fill-opacity="0.51"/>
<rect x="316.29" y="64.35" width="0.9" height="0.9" fill="#b64aa8" fill-opacity="0.52"/>
<rect x="320.35" y="65.42" width="0.9" height="0.9" fill="#b64aa8" fill-opacity="0.5"/>
<rect x="319.7" y="66.38" width="0.9" height="0.9" fill="#b64aa8" fill-opacity="0.51"/>
<rect x="312.35" y="73.94" width="0.9" height="0.9" fill="#b64aa8" fill-opacity="0.58"/>
<rect x="308.5" y="73.9" width="0.9" height="0.9" fill="#b64aa8" fill-opacity="0.59"/>
<rect x="338.89" y="60.37" width="0.9" height="0.9" fill="#b64aa8" fill-opacity="0.39"/>
<rect x="313.74" y="74.8" width="0.9" height="0.9" fill="#b64aa8" fill-opacity="0.58"/>
<rect x="325.14" y="54.02" width="0.9" height="0.9" fill="#b64aa8" fill-opacity="0.45"/>
<rect x="332.77" y="59.85" width="0.9" height="0.9" fill="#b64aa8" fill-opacity="0.42"/>
<rect x="338.72" y="53.99" width="0.9" height="0.9" fill="#b64aa8" fill-opacity="0.38"/>
<rect x="319.5" y="68.39" width="0.9" height="0.9" fill="#b64aa8" fill-opacity="0.52"/>
<rect x="328.32" y="62.81" width="0.9" height="0.9" fill="#b64aa8" fill-opacity="0.45"/>
<rect x="309.08" y="72.86" width="0.9" height="0.9" fill="#b64aa8" fill-opacity="0.59"/>
<rect x="312.23" y="71.28" width="0.9" height="0.9" fill="#b64aa8" fill-opacity="0.56"/>
<rect x="316.59" y="67.27" width="0.9" height="0.9" fill="#b64aa8" fill-opacity="0.53"/>
<rect x="326.23" y="60" width="0.9" height="0.9" fill="#b64aa8" fill-opacity="0.47"/>
<rect x="313.02" y="68.38" width="0.9" height="0.9" fill="#b64aa8" fill-opacity="0.56"/>
<rect x="322.45" y="68.38" width="0.9" height="0.9" fill="#b64aa8" fill-opacity="0.5"/>
<rect x="313.4" y="72.37" width="0.9" height="0.9" fill="#b64aa8" fill-opacity="0.57"/>
<rect x="342.46" y="56.87" width="0.9" height="0.9" fill="#b64aa8" fill-opacity="0.35"/>
<rect x="317.89" y="68.84" width="0.9" height="0.9" fill="#b64aa8" fill-opacity="0.54"/>
<rect x="305.47" y="73.33" width="0.9" height="0.9" fill="#b64aa8" fill-opacity="0.61"/>
<rect x="340.85" y="57.95" width="0.9" height="0.9" fill="#b64aa8" fill-opacity="0.37"/>
<rect x="319.71" y="66.04" width="0.9" height="0.9" fill="#b64aa8" fill-opacity="0.51"/>
<rect x="319.84" y="70.56" width="0.9" height="0.9" fill="#b64aa8" fill-opacity="0.53"/>
<rect x="329.6" y="59.05" width="0.9" height="0.9" fill="#b64aa8" fill-opacity="0.44"/>
<rect x="342.45" y="53.76" width="0.9" height="0.9" fill="#b64aa8" fill-opacity="0.36"/>
<rect x="343.5" y="57.62" width="0.9" height="0.9" fill="#b64aa8" fill-opacity="0.36"/>
<rect x="334.86" y="61.06" width="0.9" height="0.9" fill="#b64aa8" fill-opacity="0.42"/>
<rect x="325.32" y="63.59" width="0.9" height="0.9" fill="#b64aa8" fill-opacity="0.48"/>
<rect x="308.5" y="77.28" width="0.9" height="0.9" fill="#b64aa8" fill-opacity="0.62"/>
<rect x="322.73" y="63.11" width="0.9" height="0.9" fill="#b64aa8" fill-opacity="0.49"/>
<rect x="314" y="73.08" width="0.9" height="0.9" fill="#b64aa8" fill-opacity="0.57"/>
<rect x="320.28" y="65.12" width="0.9" height="0.9" fill="#b64aa8" fill-opacity="0.51"/>
<rect x="312.08" y="67.86" width="0.9" height="0.9" fill="#b64aa8" fill-opacity="0.55"/>
<rect x="312.63" y="75.1" width="0.9" height="0.9" fill="#b64aa8" fill-opacity="0.58"/>
<rect x="315.56" y="75.2" width="0.9" height="0.9" fill="#b64aa8" fill-opacity="0.57"/>
<rect x="321.2" y="67.16" width="0.9" height="0.9" fill="#b64aa8" fill-opacity="0.51"/>
<rect x="339.46" y="59.61" width="0.9" height="0.9" fill="#b64aa8" fill-opacity="0.38"/>
<rect x="329.89" y="60.77" width="0.9" height="0.9" fill="#b64aa8" fill-opacity="0.44"/>
<rect x="309.55" y="78.9" width="0.9" height="0.9" fill="#b64aa8" fill-opacity="0.62"/>
<rect x="313.32" y="76.52" width="0.9" height="0.9" fill="#b64aa8" fill-opacity="0.59"/>
<rect x="328.88" y="61.61" width="0.9" height="0.9" fill="#b64aa8" fill-opacity="0.44"/>
<rect x="312.23" y="75.21" width="0.9" height="0.9" fill="#b64aa8" fill-opacity="0.59"/>
<rect x="336.01" y="58.49" width="0.9" height="0.9" fill="#b64aa8" fill-opacity="0.4"/>
<rect x="317" y="73.47" width="0.9" height="0.9" fill="#b64aa8" fill-opacity="0.55"/>
<rect x="324.2" y="67.82" width="0.9" height="0.9" fill="#b64aa8" fill-opacity="0.5"/>
<rect x="338.21" y="53.88" width="0.9" height="0.9" fill="#b64aa8" fill-opacity="0.38"/>
<rect x="313.22" y="70.66" width="0.9" height="0.9" fill="#b64aa8" fill-opacity="0.56"/>
<rect x="328.96" y="59.69" width="0.9" height="0.9" fill="#b64aa8" fill-opacity="0.44"/>
<rect x="319.43" y="64.42" width="0.9" height="0.9" fill="#b64aa8" fill-opacity="0.51"/>
<rect x="335.78" y="59.93" width="0.9" height="0.9" fill="#b64aa8" fill-opacity="0.41"/>
<rect x="310.93" y="76.86" width="0.9" height="0.9" fill="#b64aa8" fill-opacity="0.6"/>
<rect x="317.52" y="69.54" width="0.9" height="0.9" fill="#b64aa8" fill-opacity="0.54"/>
<rect x="326.48" y="63.3" width="0.9" height="0.9" fill="#b64aa8" fill-opacity="0.47"/>
<rect x="305.68" y="69.69" width="0.9" height="0.9" fill="#b64aa8" fill-opacity="0.59"/>
<rect x="321.09" y="67.45" width="0.9" height="0.9" fill="#b64aa8" fill-opacity="0.51"/>
<rect x="305.24" y="74.97" width="0.9" height="0.9" fill="#b64aa8" fill-opacity="0.62"/>
<rect x="314.26" y="74.28" width="0.9" height="0.9" fill="#b64aa8" fill-opacity="0.57"/>
<rect x="324.71" y="58.21" width="0.9" height="0.9" fill="#b64aa8" fill-opacity="0.46"/>
<rect x="310.61" y="70.07" width="0.9" height="0.9" fill="#b64aa8" fill-opacity="0.57"/>
<rect x="322.81" y="62.58" width="0.9" height="0.9" fill="#b64aa8" fill-opacity="0.49"/>
<rect x="307.62" y="77.33" width="0.9" height="0.9" fill="#b64aa8" fill-opacity="0.61"/>
<rect x="326.83" y="61.48" width="0.9" height="0.9" fill="#b64aa8" fill-opacity="0.46"/>
<rect x="319.74" y="68.57" width="0.9" height="0.9" fill="#b64aa8" fill-opacity="0.53"/>
<rect x="323.96" y="63.88" width="0.9" height="0.9" fill="#b64aa8" fill-opacity="0.49"/>
<rect x="332.04" y="58.36" width="0.9" height="0.9" fill="#b64aa8" fill-opacity="0.42"/>
<rect x="319.45" y="74.92" width="0.9" height="0.9" fill="#b64aa8" fill-opacity="0.54"/>
<rect x="320.27" y="70.94" width="0.9" height="0.9" fill="#b64aa8" fill-opacity="0.53"/>
<rect x="346.24" y="50.95" width="0.9" height="0.9" fill="#b64aa8" fill-opacity="0.32"/>
<rect x="318.03" y="65.28" width="0.9" height="0.9" fill="#b64aa8" fill-opacity="0.52"/>
<rect x="308.65" y="74.45" width="0.9" height="0.9" fill="#b64aa8" fill-opacity="0.6"/>
<rect x="311.39" y="76.15" width="0.9" height="0.9" fill="#b64aa8" fill-opacity="0.59"/>
<rect x="308.92" y="76.53" width="0.9" height="0.9" fill="#b64aa8" fill-opacity="0.6"/>
<rect x="312.85" y="76.39" width="0.9" height="0.9" fill="#b64aa8" fill-opacity="0.58"/>
<rect x="321.81" y="71.37" width="0.9" height="0.9" fill="#b64aa8" fill-opacity="0.52"/>
<rect x="318.43" y="65.6" width="0.9" height="0.9" fill="#b64aa8" fill-opacity="0.52"/>
<rect x="342.19" y="58.81" width="0.9" height="0.9" fill="#b64aa8" fill-opacity="0.36"/>
<rect x="333.28" y="61.25" width="0.9" height="0.9" fill="#b64aa8" fill-opacity="0.42"/>
<rect x="308.69" y="73" width="0.9" height="0.9" fill="#b64aa8" fill-opacity="0.59"/>
<rect x="316.58" y="66.58" width="0.9" height="0.9" fill="#b64aa8" fill-opacity="0.53"/>
<rect x="328.22" y="61.33" width="0.9" height="0.9" fill="#b64aa8" fill-opacity="0.46"/>
<rect x="318.47" y="67.82" width="0.9" height="0.9" fill="#b64aa8" fill-opacity="0.52"/>
<rect x="308.26" y="72.37" width="0.9" height="0.9" fill="#b64aa8" fill-opacity="0.59"/>
<rect x="316.34" y="69.92" width="0.9" height="0.9" fill="#b64aa8" fill-opacity="0.54"/>
<rect x="317.04" y="72.29" width="0.9" height="0.9" fill="#b64aa8" fill-opacity="0.55"/>
<rect x="309.75" y="75.46" width="0.9" height="0.9" fill="#b64aa8" fill-opacity="0.6"/>
<rect x="313.94" y="71.02" width="0.9" height="0.9" fill="#b64aa8" fill-opacity="0.56"/>
<rect x="335.66" y="61.99" width="0.9" height="0.9" fill="#b64aa8" fill-opacity="0.41"/>
<rect x="318.87" y="66.09" width="0.9" height="0.9" fill="#b64aa8" fill-opacity="0.51"/>
<rect x="314.33" y="68.29" width="0.9" height="0.9" fill="#b64aa8" fill-opacity="0.55"/>
<rect x="329.32" y="54.86" width="0.9" height="0.9" fill="#b64aa8" fill-opacity="0.43"/>
<rect x="345.2" y="57.83" width="0.9" height="0.9" fill="#b64aa8" fill-opacity="0.34"/>
<rect x="326.73" y="59.71" width="0.9" height="0.9" fill="#b64aa8" fill-opacity="0.46"/>
<rect x="313.41" y="76.79" width="0.9" height="0.9" fill="#b64aa8" fill-opacity="0.58"/>
<rect x="316.91" y="73.62" width="0.9" height="0.9" fill="#b64aa8" fill-opacity="0.56"/>
<rect x="313.16" y="68.12" width="0.9" height="0.9" fill="#b64aa8" fill-opacity="0.56"/>
<rect x="334.12" y="57.58" width="0.9" height="0.9" fill="#b64aa8" fill-opacity="0.41"/>
<rect x="318.49" y="64.54" width="0.9" height="0.9" fill="#b64aa8" fill-opacity="0.51"/>
<rect x="320.16" y="62.75" width="0.9" height="0.9" fill="#b64aa8" fill-opacity="0.5"/>
<rect x="317.66" y="72.13" width="0.9" height="0.9" fill="#b64aa8" fill-opacity="0.55"/>
<rect x="311.8" y="72.3" width="0.9" height="0.9" fill="#b64aa8" fill-opacity="0.58"/>
<rect x="307.63" y="73.58" width="0.9" height="0.9" fill="#b64aa8" fill-opacity="0.6"/>
<rect x="314.34" y="70.02" width="0.9" height="0.9" fill="#b64aa8" fill-opacity="0.55"/>
<rect x="334.6" y="60.17" width="0.9" height="0.9" fill="#b64aa8" fill-opacity="0.41"/>
<rect x="312.28" y="72.62" width="0.9" height="0.9" fill="#b64aa8" fill-opacity="0.57"/>
<rect x="335.36" y="58.17" width="0.9" height="0.9" fill="#b64aa8" fill-opacity="0.4"/>
<rect x="306.28" y="77.48" width="0.9" height="0.9" fill="#b64aa8" fill-opacity="0.62"/>
<rect x="326.28" y="61.02" width="0.9" height="0.9" fill="#b64aa8" fill-opacity="0.46"/>
<rect x="311.09" y="73.61" width="0.9" height="0.9" fill="#b64aa8" fill-opacity="0.58"/>
<rect x="329.98" y="61.97" width="0.9" height="0.9" fill="#b64aa8" fill-opacity="0.44"/>
<rect x="317.92" y="68.45" width="0.9" height="0.9" fill="#b64aa8" fill-opacity="0.52"/>
<rect x="317.66" y="59.27" width="0.9" height="0.9" fill="#b64aa8" fill-opacity="0.5"/>
<rect x="331.9" y="56.27" width="0.9" height="0.9" fill="#b64aa8" fill-opacity="0.42"/>
<rect x="320.36" y="62.91" width="0.9" height="0.9" fill="#b64aa8" fill-opacity="0.5"/>
<rect x="319.03" y="63.75" width="0.9" height="0.9" fill="#b64aa8" fill-opacity="0.51"/>
<rect x="323.31" y="63.28" width="0.9" height="0.9" fill="#b64aa8" fill-opacity="0.48"/>
<rect x="309.6" y="69.44" width="0.9" height="0.9" fill="#b64aa8" fill-opacity="0.57"/>
<rect x="333.35" y="61.57" width="0.9" height="0.9" fill="#b64aa8" fill-opacity="0.42"/>
<rect x="328.75" y="67.2" width="0.9" height="0.9" fill="#b64aa8" fill-opacity="0.47"/>
<rect x="307.4" y="77.82" width="0.9" height="0.9" fill="#b64aa8" fill-opacity="0.62"/>
<rect x="317.29" y="69.08" width="0.9" height="0.9" fill="#b64aa8" fill-opacity="0.53"/>
<rect x="336.15" y="56.87" width="0.9" height="0.9" fill="#b64aa8" fill-opacity="0.4"/>
<rect x="346.49" y="50.76" width="0.9" height="0.9" fill="#b64aa8" fill-opacity="0.32"/>
<rect x="339.1" y="59.64" width="0.9" height="0.9" fill="#b64aa8" fill-opacity="0.38"/>
<rect x="306.69" y="74" width="0.9" height="0.9" fill="#b64aa8" fill-opacity="0.6"/>
<rect x="310.08" y="72.9" width="0.9" height="0.9" fill="#b64aa8" fill-opacity="0.58"/>
<rect x="316.95" y="68.77" width="0.9" height="0.9" fill="#b64aa8" fill-opacity="0.53"/>
<rect x="332.14" y="59.25" width="0.9" height="0.9" fill="#b64aa8" fill-opacity="0.43"/>
<rect x="321.91" y="62.27" width="0.9" height="0.9" fill="#b64aa8" fill-opacity="0.49"/>
<rect x="321.07" y="64.25" width="0.9" height="0.9" fill="#b64aa8" fill-opacity="0.5"/>
<rect x="318.49" y="68.11" width="0.9" height="0.9" fill="#b64aa8" fill-opacity="0.53"/>
<rect x="316.68" y="65.9" width="0.9" height="0.9" fill="#b64aa8" fill-opacity="0.52"/>
<rect x="311.47" y="70.3" width="0.9" height="0.9" fill="#b64aa8" fill-opacity="0.57"/>
<rect x="315.19" y="72.81" width="0.9" height="0.9" fill="#b64aa8" fill-opacity="0.56"/>
<rect x="331.91" y="59.45" width="0.9" height="0.9" fill="#b64aa8" fill-opacity="0.43"/>
<rect x="324.79" y="58.79" width="0.9" height="0.9" fill="#b64aa8" fill-opacity="0.46"/>
<rect x="322.95" y="62.18" width="0.9" height="0.9" fill="#b64aa8" fill-opacity="0.48"/>
<rect x="315.63" y="64.72" width="0.9" height="0.9" fill="#b64aa8" fill-opacity="0.52"/>
<rect x="344.61" y="58.04" width="0.9" height="0.9" fill="#b64aa8" fill-opacity="0.34"/>
<rect x="328.09" y="57.41" width="0.9" height="0.9" fill="#b64aa8" fill-opacity="0.45"/>
<rect x="315.98" y="70.08" width="0.9" height="0.9" fill="#b64aa8" fill-opacity="0.54"/>
<rect x="340.48" y="59.72" width="0.9" height="0.9" fill="#b64aa8" fill-opacity="0.37"/>
<rect x="311.36" y="78.94" width="0.9" height="0.9" fill="#b64aa8" fill-opacity="0.6"/>
<rect x="318.38" y="63.7" width="0.9" height="0.9" fill="#b64aa8" fill-opacity="0.51"/>
<rect x="341.53" y="55.31" width="0.9" height="0.9" fill="#b64aa8" fill-opacity="0.37"/>
<rect x="308.55" y="70.05" width="0.9" height="0.9" fill="#b64aa8" fill-opacity="0.58"/>
<rect x="331.17" y="61.77" width="0.9" height="0.9" fill="#b64aa8" fill-opacity="0.44"/>
<rect x="312.16" y="76.17" width="0.9" height="0.9" fill="#b64aa8" fill-opacity="0.59"/>
<rect x="324.31" y="71.08" width="0.9" height="0.9" fill="#b64aa8" fill-opacity="0.5"/>
<rect x="310.6" y="74.56" width="0.9" height="0.9" fill="#b64aa8" fill-opacity="0.59"/>
<rect x="315.94" y="68.42" width="0.9" height="0.9" fill="#b64aa8" fill-opacity="0.54"/>
<rect x="311.33" y="71.69" width="0.9" height="0.9" fill="#b64aa8" fill-opacity="0.57"/>
<rect x="305.17" y="74.52" width="0.9" height="0.9" fill="#b64aa8" fill-opacity="0.61"/>
<rect x="333.24" y="55.88" width="0.9" height="0.9" fill="#b64aa8" fill-opacity="0.41"/>
<rect x="340.24" y="53.33" width="0.9" height="0.9" fill="#b64aa8" fill-opacity="0.37"/>
<rect x="313.39" y="77.54" width="0.9" height="0.9" fill="#b64aa8" fill-opacity="0.59"/>
<rect x="320.89" y="65.51" width="0.9" height="0.9" fill="#b64aa8" fill-opacity="0.5"/>
<rect x="338.15" y="62.04" width="0.9" height="0.9" fill="#b64aa8" fill-opacity="0.39"/>
<rect x="336.8" y="60.62" width="0.9" height="0.9" fill="#b64aa8" fill-opacity="0.4"/>
<rect x="315.81" y="73.26" width="0.9" height="0.9" fill="#b64aa8" fill-opacity="0.56"/>
<rect x="321.65" y="66.03" width="0.9" height="0.9" fill="#b64aa8" fill-opacity="0.49"/>
<rect x="312.15" y="70.27" width="0.9" height="0.9" fill="#b64aa8" fill-opacity="0.57"/>
<rect x="343.95" y="55.36" width="0.9" height="0.9" fill="#b64aa8" fill-opacity="0.34"/>
<rect x="320.9" y="68.69" width="0.9" height="0.9" fill="#b64aa8" fill-opacity="0.51"/>
<rect x="320.15" y="70.63" width="0.9" height="0.9" fill="#b64aa8" fill-opacity="0.52"/>
<rect x="327.68" y="63.88" width="0.9" height="0.9" fill="#b64aa8" fill-opacity="0.46"/>
<rect x="336.78" y="54.59" width="0.9" height="0.9" fill="#b64aa8" fill-opacity="0.38"/>
<rect x="317.59" y="71.12" width="0.9" height="0.9" fill="#b64aa8" fill-opacity="0.54"/>
<rect x="329.16" y="59.91" width="0.9" height="0.9" fill="#b64aa8" fill-opacity="0.44"/>
<rect x="315.19" y="68.83" width="0.9" height="0.9" fill="#b64aa8" fill-opacity="0.55"/>
<rect x="342.04" y="54.77" width="0.9" height="0.9" fill="#b64aa8" fill-opacity="0.36"/>
<rect x="310.18" y="78.02" width="0.9" height="0.9" fill="#b64aa8" fill-opacity="0.61"/>
<rect x="322.54" y="58.04" width="0.9" height="0.9" fill="#b64aa8" fill-opacity="0.47"/>
<rect x="323.52" y="64.63" width="0.9" height="0.9" fill="#b64aa8" fill-opacity="0.48"/>
<rect x="338.85" y="62.23" width="0.9" height="0.9" fill="#b64aa8" fill-opacity="0.38"/>
<rect x="321.3" y="71.9" width="0.9" height="0.9" fill="#b64aa8" fill-opacity="0.52"/>
<rect x="337.02" y="63.4" width="0.9" height="0.9" fill="#b64aa8" fill-opacity="0.4"/>
<rect x="311.96" y="68.03" width="0.9" height="0.9" fill="#b64aa8" fill-opacity="0.56"/>
<rect x="317.8" y="69.22" width="0.9" height="0.9" fill="#b64aa8" fill-opacity="0.53"/>
<rect x="333.89" y="63.06" width="0.9" height="0.9" fill="#b64aa8" fill-opacity="0.42"/>
<rect x="314.25" y="72.51" width="0.9" height="0.9" fill="#b64aa8" fill-opacity="0.57"/>
<rect x="320.17" y="65.74" width="0.9" height="0.9" fill="#b64aa8" fill-opacity="0.5"/>
<rect x="320.78" y="63.15" width="0.9" height="0.9" fill="#b64aa8" fill-opacity="0.5"/>
<rect x="325.58" y="65.66" width="0.9" height="0.9" fill="#b64aa8" fill-opacity="0.48"/>
<rect x="333.53" y="56.33" width="0.9" height="0.9" fill="#b64aa8" fill-opacity="0.41"/>
<rect x="321.82" y="60.56" width="0.9" height="0.9" fill="#b64aa8" fill-opacity="0.48"/>
<rect x="320.27" y="63.97" width="0.9" height="0.9" fill="#b64aa8" fill-opacity="0.49"/>
<rect x="317.43" y="68.79" width="0.9" height="0.9" fill="#b64aa8" fill-opacity="0.53"/>
<rect x="314.02" y="76.03" width="0.9" height="0.9" fill="#b64aa8" fill-opacity="0.59"/>
<rect x="338.22" y="57.94" width="0.9" height="0.9" fill="#b64aa8" fill-opacity="0.39"/>
<rect x="333.33" y="63.2" width="0.9" height="0.9" fill="#b64aa8" fill-opacity="0.42"/>
<rect x="335" y="57.15" width="0.9" height="0.9" fill="#b64aa8" fill-opacity="0.41"/>
<rect x="308.57" y="74.28" width="0.9" height="0.9" fill="#b64aa8" fill-opacity="0.6"/>
<rect x="339.26" y="57.27" width="0.9" height="0.9" fill="#b64aa8" fill-opacity="0.38"/>
<rect x="309.12" y="72.97" width="0.9" height="0.9" fill="#b64aa8" fill-opacity="0.59"/>
<rect x="318.16" y="71.94" width="0.9" height="0.9" fill="#b64aa8" fill-opacity="0.54"/>
<rect x="321.18" y="61.53" width="0.9" height="0.9" fill="#b64aa8" fill-opacity="0.49"/>
<rect x="306.31" y="72.24" width="0.9" height="0.9" fill="#b64aa8" fill-opacity="0.6"/>
<rect x="345.22" y="59.67" width="0.9" height="0.9" fill="#b64aa8" fill-opacity="0.36"/>
<rect x="316.6" y="70.13" width="0.9" height="0.9" fill="#b64aa8" fill-opacity="0.54"/>
<rect x="325.12" y="65.89" width="0.9" height="0.9" fill="#b64aa8" fill-opacity="0.47"/>
<rect x="326.86" y="60.55" width="0.9" height="0.9" fill="#b64aa8" fill-opacity="0.46"/>
<rect x="324.62" y="66.11" width="0.9" height="0.9" fill="#b64aa8" fill-opacity="0.48"/>
<rect x="315.34" y="64.42" width="0.9" height="0.9" fill="#b64aa8" fill-opacity="0.53"/>
<rect x="335.71" y="59.24" width="0.9" height="0.9" fill="#b64aa8" fill-opacity="0.4"/>
<rect x="328.17" y="63.24" width="0.9" height="0.9" fill="#b64aa8" fill-opacity="0.45"/>
<rect x="329.44" y="56.13" width="0.9" height="0.9" fill="#b64aa8" fill-opacity="0.44"/>
<rect x="306.18" y="75.3" width="0.9" height="0.9" fill="#b64aa8" fill-opacity="0.61"/>
<rect x="347.78" y="51.66" width="0.9" height="0.9" fill="#b64aa8" fill-opacity="0.32"/>
<rect x="314.35" y="67.86" width="0.9" height="0.9" fill="#b64aa8" fill-opacity="0.55"/>
<rect x="340.89" y="56.81" width="0.9" height="0.9" fill="#b64aa8" fill-opacity="0.37"/>
<rect x="340.51" y="56.59" width="0.9" height="0.9" fill="#b64aa8" fill-opacity="0.37"/>
<rect x="321.47" y="59.45" width="0.9" height="0.9" fill="#b64aa8" fill-opacity="0.48"/>
<rect x="328.48" y="64.01" width="0.9" height="0.9" fill="#b64aa8" fill-opacity="0.47"/>
<rect x="332.99" y="56.77" width="0.9" height="0.9" fill="#b64aa8" fill-opacity="0.41"/>
<rect x="320.08" y="67.75" width="0.9" height="0.9" fill="#b64aa8" fill-opacity="0.52"/>
<rect x="334.48" y="57.88" width="0.9" height="0.9" fill="#b64aa8" fill-opacity="0.41"/>
<rect x="310.27" y="68.48" width="0.9" height="0.9" fill="#b64aa8" fill-opacity="0.56"/>
<rect x="315.01" y="73.3" width="0.9" height="0.9" fill="#b64aa8" fill-opacity="0.57"/>
<rect x="327.2" y="61.94" width="0.9" height="0.9" fill="#b64aa8" fill-opacity="0.46"/>
<rect x="316.5" y="70.47" width="0.9" height="0.9" fill="#b64aa8" fill-opacity="0.55"/>
<rect x="308.43" y="77.39" width="0.9" height="0.9" fill="#b64aa8" fill-opacity="0.61"/>
<rect x="311.09" y="74.69" width="0.9" height="0.9" fill="#b64aa8" fill-opacity="0.59"/>
<rect x="329.79" y="59.46" width="0.9" height="0.9" fill="#b64aa8" fill-opacity="0.43"/>
<rect x="325.56" y="64.74" width="0.9" height="0.9" fill="#b64aa8" fill-opacity="0.48"/>
<rect x="336.11" y="61.99" width="0.9" height="0.9" fill="#b64aa8" fill-opacity="0.41"/>
<rect x="315.39" y="67.66" width="0.9" height="0.9" fill="#b64aa8" fill-opacity="0.54"/>
<rect x="330.11" y="58.44" width="0.9" height="0.9" fill="#b64aa8" fill-opacity="0.43"/>
<rect x="320.08" y="64.88" width="0.9" height="0.9" fill="#b64aa8" fill-opacity="0.5"/>
<rect x="325.92" y="66.45" width="0.9" height="0.9" fill="#b64aa8" fill-opacity="0.48"/>
<rect x="307.34" y="76.44" width="0.9" height="0.9" fill="#b64aa8" fill-opacity="0.61"/>
<rect x="312.38" y="77.59" width="0.9" height="0.9" fill="#b64aa8" fill-opacity="0.59"/>
<rect x="342.15" y="56.14" width="0.9" height="0.9" fill="#b64aa8" fill-opacity="0.36"/>
<rect x="318.33" y="68.04" width="0.9" height="0.9" fill="#b64aa8" fill-opacity="0.52"/>
<rect x="313.22" y="77.05" width="0.9" height="0.9" fill="#b64aa8" fill-opacity="0.59"/>
<rect x="314.44" y="76.71" width="0.9" height="0.9" fill="#b64aa8" fill-opacity="0.58"/>
<rect x="314.1" y="73.65" width="0.9" height="0.9" fill="#b64aa8" fill-opacity="0.57"/>
<rect x="307.04" y="73.07" width="0.9" height="0.9" fill="#b64aa8" fill-opacity="0.6"/>
<rect x="321.24" y="66.17" width="0.9" height="0.9" fill="#b64aa8" fill-opacity="0.51"/>
<rect x="316.35" y="69.09" width="0.9" height="0.9" fill="#b64aa8" fill-opacity="0.54"/>
<rect x="322.51" y="61.9" width="0.9" height="0.9" fill="#b64aa8" fill-opacity="0.48"/>
<rect x="325.52" y="67.31" width="0.9" height="0.9" fill="#b64aa8" fill-opacity="0.48"/>
<rect x="309.55" y="76.37" width="0.9" height="0.9" fill="#b64aa8" fill-opacity="0.61"/>
<rect x="315.16" y="67.24" width="0.9" height="0.9" fill="#b64aa8" fill-opacity="0.54"/>
<rect x="325.63" y="59.82" width="0.9" height="0.9" fill="#b64aa8" fill-opacity="0.47"/>
<rect x="320.61" y="67.21" width="0.9" height="0.9" fill="#b64aa8" fill-opacity="0.51"/>
<rect x="340.52" y="53.06" width="0.9" height="0.9" fill="#b64aa8" fill-opacity="0.36"/>
<rect x="322.47" y="68.35" width="0.9" height="0.9" fill="#b64aa8" fill-opacity="0.5"/>
<rect x="312.76" y="70.59" width="0.9" height="0.9" fill="#b64aa8" fill-opacity="0.56"/>
<rect x="327.99" y="58.66" width="0.9" height="0.9" fill="#b64aa8" fill-opacity="0.45"/>
<rect x="332.83" y="62.15" width="0.9" height="0.9" fill="#b64aa8" fill-opacity="0.42"/>
<rect x="322.8" y="62.3" width="0.9" height="0.9" fill="#b64aa8" fill-opacity="0.48"/>
<rect x="317.36" y="68.17" width="0.9" height="0.9" fill="#b64aa8" fill-opacity="0.53"/>
<rect x="333.65" y="60.74" width="0.9" height="0.9" fill="#b64aa8" fill-opacity="0.42"/>
<rect x="309.24" y="71.81" width="0.9" height="0.9" fill="#b64aa8" fill-opacity="0.58"/>
<rect x="338.71" y="59.63" width="0.9" height="0.9" fill="#b64aa8" fill-opacity="0.39"/>
<rect x="321.77" y="69.96" width="0.9" height="0.9" fill="#b64aa8" fill-opacity="0.51"/>
<rect x="335.47" y="62.63" width="0.9" height="0.9" fill="#b64aa8" fill-opacity="0.41"/>
<rect x="319.64" y="66.92" width="0.9" height="0.9" fill="#b64aa8" fill-opacity="0.52"/>
<rect x="331.12" y="63.43" width="0.9" height="0.9" fill="#b64aa8" fill-opacity="0.45"/>
<rect x="319.27" y="63.89" width="0.9" height="0.9" fill="#b64aa8" fill-opacity="0.51"/>
<rect x="316.52" y="68.61" width="0.9" height="0.9" fill="#b64aa8" fill-opacity="0.54"/>
<rect x="331.74" y="64.11" width="0.9" height="0.9" fill="#b64aa8" fill-opacity="0.44"/>
<rect x="308.43" y="72.2" width="0.9" height="0.9" fill="#b64aa8" fill-opacity="0.59"/>
<rect x="323.24" y="65.41" width="0.9" height="0.9" fill="#b64aa8" fill-opacity="0.49"/>
<rect x="338.19" y="61.01" width="0.9" height="0.9" fill="#b64aa8" fill-opacity="0.39"/>
<rect x="322.77" y="65.52" width="0.9" height="0.9" fill="#b64aa8" fill-opacity="0.49"/>
<rect x="315.43" y="76.19" width="0.9" height="0.9" fill="#b64aa8" fill-opacity="0.57"/>
<rect x="311.75" y="71.72" width="0.9" height="0.9" fill="#b64aa8" fill-opacity="0.58"/>
<rect x="318.29" y="66.31" width="0.9" height="0.9" fill="#b64aa8" fill-opacity="0.52"/>
<rect x="323.8" y="59.91" width="0.9" height="0.9" fill="#b64aa8" fill-opacity="0.47"/>
<rect x="337.01" y="59.75" width="0.9" height="0.9" fill="#b64aa8" fill-opacity="0.4"/>
<rect x="312.26" y="73.12" width="0.9" height="0.9" fill="#b64aa8" fill-opacity="0.57"/>
<rect x="321.07" y="63.6" width="0.9" height="0.9" fill="#b64aa8" fill-opacity="0.49"/>
<rect x="343.45" y="58.05" width="0.9" height="0.9" fill="#b64aa8" fill-opacity="0.35"/>
<rect x="316.89" y="74.34" width="0.9" height="0.9" fill="#b64aa8" fill-opacity="0.55"/>
<rect x="320.48" y="64.94" width="0.9" height="0.9" fill="#b64aa8" fill-opacity="0.5"/>
<rect x="338.67" y="62.3" width="0.9" height="0.9" fill="#b64aa8" fill-opacity="0.39"/>
<rect x="342.82" y="59.2" width="0.9" height="0.9" fill="#b64aa8" fill-opacity="0.37"/>
<rect x="314.68" y="70.02" width="0.9" height="0.9" fill="#b64aa8" fill-opacity="0.55"/>
<rect x="315.17" y="63.17" width="0.9" height="0.9" fill="#b64aa8" fill-opacity="0.52"/>
<rect x="319.75" y="61.69" width="0.9" height="0.9" fill="#b64aa8" fill-opacity="0.5"/>
<rect x="326.66" y="62.71" width="0.9" height="0.9" fill="#b64aa8" fill-opacity="0.46"/>
<rect x="326.07" y="65.88" width="0.9" height="0.9" fill="#b64aa8" fill-opacity="0.48"/>
<rect x="327.18" y="61.02" width="0.9" height="0.9" fill="#b64aa8" fill-opacity="0.45"/>
<rect x="326.22" y="58.68" width="0.9" height="0.9" fill="#b64aa8" fill-opacity="0.46"/>
<rect x="315.26" y="77.42" width="0.9" height="0.9" fill="#b64aa8" fill-opacity="0.58"/>
<rect x="312.38" y="73.92" width="0.9" height="0.9" fill="#b64aa8" fill-opacity="0.58"/>
<rect x="329.71" y="63.88" width="0.9" height="0.9" fill="#b64aa8" fill-opacity="0.45"/>
<rect x="324.47" y="63.17" width="0.9" height="0.9" fill="#b64aa8" fill-opacity="0.47"/>
<rect x="310.09" y="72.6" width="0.9" height="0.9" fill="#b64aa8" fill-opacity="0.59"/>
<rect x="332.26" y="60" width="0.9" height="0.9" fill="#b64aa8" fill-opacity="0.43"/>
<rect x="326.62" y="61.34" width="0.9" height="0.9" fill="#b64aa8" fill-opacity="0.45"/>
<rect x="309.4" y="76.46" width="0.9" height="0.9" fill="#b64aa8" fill-opacity="0.6"/>
<rect x="334.57" y="58.23" width="0.9" height="0.9" fill="#b64aa8" fill-opacity="0.41"/>
<rect x="337.08" y="59.79" width="0.9" height="0.9" fill="#b64aa8" fill-opacity="0.39"/>
<rect x="316.99" y="69.88" width="0.9" height="0.9" fill="#b64aa8" fill-opacity="0.54"/>
<rect x="341.24" y="50.95" width="0.9" height="0.9" fill="#b64aa8" fill-opacity="0.35"/>
<rect x="340.07" y="56.24" width="0.9" height="0.9" fill="#b64aa8" fill-opacity="0.37"/>
<rect x="329.54" y="62.81" width="0.9" height="0.9" fill="#b64aa8" fill-opacity="0.44"/>
<rect x="319.77" y="68.69" width="0.9" height="0.9" fill="#b64aa8" fill-opacity="0.52"/>
<rect x="310.27" y="74.74" width="0.9" height="0.9" fill="#b64aa8" fill-opacity="0.59"/>
<rect x="330.1" y="59.4" width="0.9" height="0.9" fill="#b64aa8" fill-opacity="0.44"/>
<rect x="332.41" y="59.91" width="0.9" height="0.9" fill="#b64aa8" fill-opacity="0.42"/>
<rect x="332.39" y="60.4" width="0.9" height="0.9" fill="#b64aa8" fill-opacity="0.43"/>
<rect x="307.69" y="77.32" width="0.9" height="0.9" fill="#b64aa8" fill-opacity="0.62"/>
<rect x="309.79" y="71.77" width="0.9" height="0.9" fill="#b64aa8" fill-opacity="0.58"/>
<rect x="311.79" y="72.09" width="0.9" height="0.9" fill="#b64aa8" fill-opacity="0.57"/>
<rect x="310.64" y="66.63" width="0.9" height="0.9" fill="#b64aa8" fill-opacity="0.56"/>
<rect x="330.41" y="57.56" width="0.9" height="0.9" fill="#b64aa8" fill-opacity="0.44"/>
<rect x="328.82" y="66.06" width="0.9" height="0.9" fill="#b64aa8" fill-opacity="0.47"/>
<rect x="311.13" y="76.36" width="0.9" height="0.9" fill="#b64aa8" fill-opacity="0.59"/>
<rect x="329.3" y="64.49" width="0.9" height="0.9" fill="#b64aa8" fill-opacity="0.45"/>
<rect x="329.72" y="63.35" width="0.9" height="0.9" fill="#b64aa8" fill-opacity="0.44"/>
<rect x="315.36" y="67.98" width="0.9" height="0.9" fill="#b64aa8" fill-opacity="0.54"/>
<rect x="310.71" y="80.07" width="0.9" height="0.9" fill="#b64aa8" fill-opacity="0.61"/>
<rect x="316.63" y="76.77" width="0.9" height="0.9" fill="#b64aa8" fill-opacity="0.58"/>
<rect x="304.55" y="74.61" width="0.9" height="0.9" fill="#b64aa8" fill-opacity="0.62"/>
<rect x="333.42" y="57.6" width="0.9" height="0.9" fill="#b64aa8" fill-opacity="0.41"/>
<rect x="323.14" y="63.1" width="0.9" height="0.9" fill="#b64aa8" fill-opacity="0.48"/>
<rect x="328.74" y="64.71" width="0.9" height="0.9" fill="#b64aa8" fill-opacity="0.46"/>
<rect x="307.54" y="77.47" width="0.9" height="0.9" fill="#b64aa8" fill-opacity="0.61"/>
<rect x="307.75" y="76.8" width="0.9" height="0.9" fill="#b64aa8" fill-opacity="0.61"/>
<rect x="342.42" y="58.8" width="0.9" height="0.9" fill="#b64aa8" fill-opacity="0.36"/>
<rect x="317.17" y="70.29" width="0.9" height="0.9" fill="#b64aa8" fill-opacity="0.53"/>
<rect x="318.02" y="70.66" width="0.9" height="0.9" fill="#b64aa8" fill-opacity="0.54"/>
<rect x="313.04" y="72.58" width="0.9" height="0.9" fill="#b64aa8" fill-opacity="0.56"/>
<rect x="323.93" y="68.6" width="0.9" height="0.9" fill="#b64aa8" fill-opacity="0.5"/>
<rect x="327.87" y="53.82" width="0.9" height="0.9" fill="#b64aa8" fill-opacity="0.44"/>
<rect x="309.84" y="76.75" width="0.9" height="0.9" fill="#b64aa8" fill-opacity="0.6"/>
<rect x="316.79" y="73.12" width="0.9" height="0.9" fill="#b64aa8" fill-opacity="0.56"/>
<rect x="320.48" y="66.94" width="0.9" height="0.9" fill="#b64aa8" fill-opacity="0.5"/>
<rect x="313.12" y="67.99" width="0.9" height="0.9" fill="#b64aa8" fill-opacity="0.55"/>
<rect x="324.96" y="65.79" width="0.9" height="0.9" fill="#b64aa8" fill-opacity="0.48"/>
<rect x="321.22" y="64.12" width="0.9" height="0.9" fill="#b64aa8" fill-opacity="0.5"/>
<rect x="323.72" y="58.36" width="0.9" height="0.9" fill="#b64aa8" fill-opacity="0.46"/>
<rect x="339.12" y="57.62" width="0.9" height="0.9" fill="#b64aa8" fill-opacity="0.38"/>
<rect x="345.81" y="54.81" width="0.9" height="0.9" fill="#b64aa8" fill-opacity="0.33"/>
<rect x="329.6" y="61.74" width="0.9" height="0.9" fill="#b64aa8" fill-opacity="0.44"/>
<rect x="315.64" y="72.04" width="0.9" height="0.9" fill="#b64aa8" fill-opacity="0.55"/>
<rect x="314.09" y="71.98" width="0.9" height="0.9" fill="#b64aa8" fill-opacity="0.56"/>
<rect x="329.15" y="60.34" width="0.9" height="0.9" fill="#b64aa8" fill-opacity="0.45"/>
<rect x="314.12" y="75.39" width="0.9" height="0.9" fill="#b64aa8" fill-opacity="0.58"/>
<rect x="340.67" y="61.5" width="0.9" height="0.9" fill="#b64aa8" fill-opacity="0.38"/>
<rect x="322" y="68.48" width="0.9" height="0.9" fill="#b64aa8" fill-opacity="0.51"/>
<rect x="306.8" y="73.76" width="0.9" height="0.9" fill="#b64aa8" fill-opacity="0.6"/>
<rect x="319.78" y="65.31" width="0.9" height="0.9" fill="#b64aa8" fill-opacity="0.51"/>
<rect x="336.54" y="59.45" width="0.9" height="0.9" fill="#b64aa8" fill-opacity="0.4"/>
<rect x="326.91" y="61.74" width="0.9" height="0.9" fill="#b64aa8" fill-opacity="0.46"/>
<rect x="305.71" y="73" width="0.9" height="0.9" fill="#b64aa8" fill-opacity="0.61"/>
<rect x="316.62" y="72.97" width="0.9" height="0.9" fill="#b64aa8" fill-opacity="0.56"/>
<rect x="318.45" y="69.39" width="0.9" height="0.9" fill="#b64aa8" fill-opacity="0.53"/>
<rect x="312.74" y="68.8" width="0.9" height="0.9" fill="#b64aa8" fill-opacity="0.55"/>
<rect x="318.59" y="63.52" width="0.9" height="0.9" fill="#b64aa8" fill-opacity="0.5"/>
<rect x="320.08" y="69.82" width="0.9" height="0.9" fill="#b64aa8" fill-opacity="0.52"/>
<rect x="335.53" y="64.66" width="0.9" height="0.9" fill="#b64aa8" fill-opacity="0.41"/>
<rect x="345.44" y="57.47" width="0.9" height="0.9" fill="#b64aa8" fill-opacity="0.34"/>
<rect x="312.18" y="73.29" width="0.9" height="0.9" fill="#b64aa8" fill-opacity="0.57"/>
<rect x="307.08" y="77.11" width="0.9" height="0.9" fill="#b64aa8" fill-opacity="0.62"/>
<rect x="317.54" y="67.02" width="0.9" height="0.9" fill="#b64aa8" fill-opacity="0.53"/>
<rect x="311.11" y="78.85" width="0.9" height="0.9" fill="#b64aa8" fill-opacity="0.6"/>
<rect x="321.52" y="68.7" width="0.9" height="0.9" fill="#b64aa8" fill-opacity="0.51"/>
<rect x="317.42" y="68.44" width="0.9" height="0.9" fill="#b64aa8" fill-opacity="0.54"/>
<rect x="339.3" y="52.1" width="0.9" height="0.9" fill="#b64aa8" fill-opacity="0.37"/>
<rect x="304.16" y="73.1" width="0.9" height="0.9" fill="#b64aa8" fill-opacity="0.61"/>
<rect x="310.57" y="73.23" width="0.9" height="0.9" fill="#b64aa8" fill-opacity="0.6"/>
<rect x="333.83" y="61.15" width="0.9" height="0.9" fill="#b64aa8" fill-opacity="0.42"/>
<rect x="317.99" y="72.31" width="0.9" height="0.9" fill="#b64aa8" fill-opacity="0.54"/>
<rect x="323.82" y="65.91" width="0.9" height="0.9" fill="#b64aa8" fill-opacity="0.5"/>
<rect x="329.48" y="62.22" width="0.9" height="0.9" fill="#b64aa8" fill-opacity="0.45"/>
<rect x="319.29" y="68.93" width="0.9" height="0.9" fill="#b64aa8" fill-opacity="0.52"/>
<rect x="315.54" y="67.17" width="0.9" height="0.9" fill="#b64aa8" fill-opacity="0.54"/>
<rect x="309.74" y="76.64" width="0.9" height="0.9" fill="#b64aa8" fill-opacity="0.6"/>
<rect x="315.29" y="68.93" width="0.9" height="0.9" fill="#b64aa8" fill-opacity="0.54"/>
<rect x="322.91" y="64.48" width="0.9" height="0.9" fill="#b64aa8" fill-opacity="0.49"/>
<rect x="309.5" y="75.3" width="0.9" height="0.9" fill="#b64aa8" fill-opacity="0.6"/>
<rect x="322.09" y="60.98" width="0.9" height="0.9" fill="#b64aa8" fill-opacity="0.48"/>
<rect x="334.08" y="60.99" width="0.9" height="0.9" fill="#b64aa8" fill-opacity="0.41"/>
<rect x="333.28" y="61.13" width="0.9" height="0.9" fill="#b64aa8" fill-opacity="0.42"/>
<rect x="318.08" y="65.51" width="0.9" height="0.9" fill="#b64aa8" fill-opacity="0.52"/>
<rect x="308.79" y="73.15" width="0.9" height="0.9" fill="#b64aa8" fill-opacity="0.59"/>
<rect x="310.63" y="71.6" width="0.9" height="0.9" fill="#b64aa8" fill-opacity="0.58"/>
<rect x="318.97" y="76.56" width="0.9" height="0.9" fill="#b64aa8" fill-opacity="0.55"/>
<rect x="339.92" y="57.92" width="0.9" height="0.9" fill="#b64aa8" fill-opacity="0.37"/>
<rect x="315.33" y="73.33" width="0.9" height="0.9" fill="#b64aa8" fill-opacity="0.56"/>
<rect x="308" y="67.51" width="0.9" height="0.9" fill="#b64aa8" fill-opacity="0.58"/>
<rect x="311.77" y="69.17" width="0.9" height="0.9" fill="#b64aa8" fill-opacity="0.56"/>
<rect x="310.31" y="69.43" width="0.9" height="0.9" fill="#b64aa8" fill-opacity="0.57"/>
<rect x="312.27" y="70.83" width="0.9" height="0.9" fill="#b64aa8" fill-opacity="0.57"/>
<rect x="331.29" y="63.45" width="0.9" height="0.9" fill="#b64aa8" fill-opacity="0.44"/>
<rect x="335.04" y="61.14" width="0.9" height="0.9" fill="#b64aa8" fill-opacity="0.41"/>
<rect x="321.13" y="66.45" width="0.9" height="0.9" fill="#b64aa8" fill-opacity="0.51"/>
<rect x="316.64" y="70.99" width="0.9" height="0.9" fill="#b64aa8" fill-opacity="0.54"/>
<rect x="328.42" y="61.69" width="0.9" height="0.9" fill="#b64aa8" fill-opacity="0.45"/>
<rect x="326.11" y="63.14" width="0.9" height="0.9" fill="#b64aa8" fill-opacity="0.46"/>
<rect x="311.63" y="79.13" width="0.9" height="0.9" fill="#b64aa8" fill-opacity="0.6"/>
<rect x="320.75" y="68.75" width="0.9" height="0.9" fill="#b64aa8" fill-opacity="0.52"/>
<rect x="316.49" y="73.27" width="0.9" height="0.9" fill="#b64aa8" fill-opacity="0.55"/>
<rect x="342.67" y="62.85" width="0.9" height="0.9" fill="#b64aa8" fill-opacity="0.37"/>
<rect x="314.48" y="66.46" width="0.9" height="0.9" fill="#b64aa8" fill-opacity="0.54"/>
<rect x="327.9" y="68.89" width="0.9" height="0.9" fill="#b64aa8" fill-opacity="0.48"/>
<rect x="332.79" y="56.99" width="0.9" height="0.9" fill="#b64aa8" fill-opacity="0.41"/>
<rect x="316.28" y="73.85" width="0.9" height="0.9" fill="#b64aa8" fill-opacity="0.55"/>
<rect x="309.13" y="74.55" width="0.9" height="0.9" fill="#b64aa8" fill-opacity="0.59"/>
<rect x="355" y="59.32" width="0.9" height="0.9" fill="#b64aa8" fill-opacity="0.29"/>
<rect x="312.84" y="76.66" width="0.9" height="0.9" fill="#b64aa8" fill-opacity="0.58"/>
<rect x="339.02" y="55.97" width="0.9" height="0.9" fill="#b64aa8" fill-opacity="0.38"/>
<rect x="312.23" y="74.75" width="0.9" height="0.9" fill="#b64aa8" fill-opacity="0.57"/>
<rect x="326.24" y="64.79" width="0.9" height="0.9" fill="#b64aa8" fill-opacity="0.47"/>
<rect x="317.8" y="66.27" width="0.9" height="0.9" fill="#b64aa8" fill-opacity="0.52"/>
<rect x="310.6" y="74.89" width="0.9" height="0.9" fill="#b64aa8" fill-opacity="0.59"/>
<rect x="321.6" y="63.89" width="0.9" height="0.9" fill="#b64aa8" fill-opacity="0.49"/>
<rect x="308.36" y="74.87" width="0.9" height="0.9" fill="#b64aa8" fill-opacity="0.6"/>
<rect x="306.51" y="77.23" width="0.9" height="0.9" fill="#b64aa8" fill-opacity="0.61"/>
<rect x="327.92" y="62.43" width="0.9" height="0.9" fill="#b64aa8" fill-opacity="0.45"/>
<rect x="313.22" y="68.1" width="0.9" height="0.9" fill="#b64aa8" fill-opacity="0.55"/>
<rect x="327.33" y="68.23" width="0.9" height="0.9" fill="#b64aa8" fill-opacity="0.48"/>
<rect x="307.38" y="71.85" width="0.9" height="0.9" fill="#b64aa8" fill-opacity="0.6"/>
<rect x="324.26" y="64.72" width="0.9" height="0.9" fill="#b64aa8" fill-opacity="0.48"/>
<rect x="321.9" y="63.65" width="0.9" height="0.9" fill="#b64aa8" fill-opacity="0.49"/>
<rect x="341.58" y="61.31" width="0.9" height="0.9" fill="#b64aa8" fill-opacity="0.37"/>
<rect x="310.79" y="72.32" width="0.9" height="0.9" fill="#b64aa8" fill-opacity="0.58"/>
<rect x="338.42" y="57.28" width="0.9" height="0.9" fill="#b64aa8" fill-opacity="0.38"/>
<rect x="336.93" y="64.31" width="0.9" height="0.9" fill="#b64aa8" fill-opacity="0.4"/>
<rect x="313" y="71.9" width="0.9" height="0.9" fill="#b64aa8" fill-opacity="0.56"/>
<rect x="312.27" y="69.88" width="0.9" height="0.9" fill="#b64aa8" fill-opacity="0.56"/>
<rect x="317.05" y="70.47" width="0.9" height="0.9" fill="#b64aa8" fill-opacity="0.53"/>
<rect x="313.49" y="67.87" width="0.9" height="0.9" fill="#b64aa8" fill-opacity="0.55"/>
<rect x="330.16" y="62.32" width="0.9" height="0.9" fill="#b64aa8" fill-opacity="0.44"/>
<rect x="312.47" y="70.6" width="0.9" height="0.9" fill="#b64aa8" fill-opacity="0.56"/>
<rect x="324.1" y="65.59" width="0.9" height="0.9" fill="#b64aa8" fill-opacity="0.48"/>
<rect x="310.08" y="70.48" width="0.9" height="0.9" fill="#b64aa8" fill-opacity="0.57"/>
<rect x="315.54" y="72.93" width="0.9" height="0.9" fill="#b64aa8" fill-opacity="0.55"/>
<rect x="317.41" y="71.89" width="0.9" height="0.9" fill="#b64aa8" fill-opacity="0.55"/>
<rect x="337.55" y="56.33" width="0.9" height="0.9" fill="#b64aa8" fill-opacity="0.39"/>
<rect x="313.96" y="70.95" width="0.9" height="0.9" fill="#b64aa8" fill-opacity="0.56"/>
<rect x="318.74" y="69.73" width="0.9" height="0.9" fill="#b64aa8" fill-opacity="0.52"/>
<rect x="340.32" y="54.03" width="0.9" height="0.9" fill="#b64aa8" fill-opacity="0.37"/>
<rect x="308.01" y="76.5" width="0.9" height="0.9" fill="#b64aa8" fill-opacity="0.61"/>
<rect x="320.06" y="67.82" width="0.9" height="0.9" fill="#b64aa8" fill-opacity="0.52"/>
<rect x="317.87" y="64.33" width="0.9" height="0.9" fill="#b64aa8" fill-opacity="0.52"/>
<rect x="323.67" y="61.8" width="0.9" height="0.9" fill="#b64aa8" fill-opacity="0.48"/>
<rect x="310.27" y="78.89" width="0.9" height="0.9" fill="#b64aa8" fill-opacity="0.6"/>
<rect x="311.58" y="74.51" width="0.9" height="0.9" fill="#b64aa8" fill-opacity="0.58"/>
<rect x="313.48" y="70.49" width="0.9" height="0.9" fill="#b64aa8" fill-opacity="0.56"/>
<rect x="315.07" y="66.64" width="0.9" height="0.9" fill="#b64aa8" fill-opacity="0.53"/>
<rect x="311.59" y="75.39" width="0.9" height="0.9" fill="#b64aa8" fill-opacity="0.59"/>
<rect x="313.57" y="69.45" width="0.9" height="0.9" fill="#b64aa8" fill-opacity="0.55"/>
<rect x="341.39" y="63.97" width="0.9" height="0.9" fill="#b64aa8" fill-opacity="0.38"/>
<rect x="310.62" y="75.16" width="0.9" height="0.9" fill="#b64aa8" fill-opacity="0.59"/>
<rect x="333.93" y="58.42" width="0.9" height="0.9" fill="#b64aa8" fill-opacity="0.41"/>
<rect x="325.25" y="60.32" width="0.9" height="0.9" fill="#b64aa8" fill-opacity="0.47"/>
<rect x="331.2" y="61.43" width="0.9" height="0.9" fill="#b64aa8" fill-opacity="0.44"/>
<rect x="336.73" y="56.16" width="0.9" height="0.9" fill="#b64aa8" fill-opacity="0.39"/>
<rect x="311.19" y="70.68" width="0.9" height="0.9" fill="#b64aa8" fill-opacity="0.57"/>
<rect x="321.01" y="65.29" width="0.9" height="0.9" fill="#b64aa8" fill-opacity="0.5"/>
<rect x="332.27" y="61.56" width="0.9" height="0.9" fill="#b64aa8" fill-opacity="0.43"/>
<rect x="324.74" y="68.42" width="0.9" height="0.9" fill="#b64aa8" fill-opacity="0.49"/>
<rect x="312.14" y="69.1" width="0.9" height="0.9" fill="#b64aa8" fill-opacity="0.56"/>
<rect x="310.75" y="78.89" width="0.9" height="0.9" fill="#b64aa8" fill-opacity="0.6"/>
<rect x="340.22" y="57.97" width="0.9" height="0.9" fill="#b64aa8" fill-opacity="0.37"/>
<rect x="322.76" y="66.28" width="0.9" height="0.9" fill="#b64aa8" fill-opacity="0.5"/>
<rect x="321.19" y="63.44" width="0.9" height="0.9" fill="#b64aa8" fill-opacity="0.49"/>
<rect x="321.64" y="68.71" width="0.9" height="0.9" fill="#b64aa8" fill-opacity="0.51"/>
<rect x="324.96" y="66.5" width="0.9" height="0.9" fill="#b64aa8" fill-opacity="0.49"/>
<rect x="328.86" y="60.94" width="0.9" height="0.9" fill="#b64aa8" fill-opacity="0.45"/>
<rect x="310.65" y="77.12" width="0.9" height="0.9" fill="#b64aa8" fill-opacity="0.59"/>
<rect x="313.76" y="71.07" width="0.9" height="0.9" fill="#b64aa8" fill-opacity="0.55"/>
<rect x="311.24" y="72.07" width="0.9" height="0.9" fill="#b64aa8" fill-opacity="0.57"/>
<rect x="335.55" y="56.1" width="0.9" height="0.9" fill="#b64aa8" fill-opacity="0.4"/>
<rect x="319.31" y="64.92" width="0.9" height="0.9" fill="#b64aa8" fill-opacity="0.51"/>
<rect x="320.44" y="65.69" width="0.9" height="0.9" fill="#b64aa8" fill-opacity="0.5"/>
<rect x="323.77" y="68.84" width="0.9" height="0.9" fill="#b64aa8" fill-opacity="0.5"/>
<rect x="338.92" y="58.85" width="0.9" height="0.9" fill="#b64aa8" fill-opacity="0.38"/>
<rect x="314.53" y="68.98" width="0.9" height="0.9" fill="#b64aa8" fill-opacity="0.55"/>
<rect x="307.54" y="75.44" width="0.9" height="0.9" fill="#b64aa8" fill-opacity="0.6"/>
<rect x="317.64" y="68.78" width="0.9" height="0.9" fill="#b64aa8" fill-opacity="0.54"/>
<rect x="339.68" y="57.65" width="0.9" height="0.9" fill="#b64aa8" fill-opacity="0.38"/>
<rect x="314.32" y="69.45" width="0.9" height="0.9" fill="#b64aa8" fill-opacity="0.56"/>
<rect x="314.75" y="76.03" width="0.9" height="0.9" fill="#b64aa8" fill-opacity="0.58"/>
<rect x="334.67" y="61.8" width="0.9" height="0.9" fill="#b64aa8" fill-opacity="0.41"/>
<rect x="317.86" y="67.7" width="0.9" height="0.9" fill="#b64aa8" fill-opacity="0.53"/>
<rect x="329.72" y="61.92" width="0.9" height="0.9" fill="#b64aa8" fill-opacity="0.44"/>
<rect x="307.72" y="73.66" width="0.9" height="0.9" fill="#b64aa8" fill-opacity="0.6"/>
<rect x="320.73" y="67.31" width="0.9" height="0.9" fill="#b64aa8" fill-opacity="0.5"/>
<rect x="318.77" y="67.89" width="0.9" height="0.9" fill="#b64aa8" fill-opacity="0.53"/>
<rect x="314.53" y="68.4" width="0.9" height="0.9" fill="#b64aa8" fill-opacity="0.55"/>
<rect x="312.16" y="67.58" width="0.9" height="0.9" fill="#b64aa8" fill-opacity="0.56"/>
<rect x="329.56" y="58.5" width="0.9" height="0.9" fill="#b64aa8" fill-opacity="0.43"/>
<rect x="316.45" y="67.92" width="0.9" height="0.9" fill="#b64aa8" fill-opacity="0.54"/>
<rect x="343.09" y="55.25" width="0.9" height="0.9" fill="#b64aa8" fill-opacity="0.35"/>
<rect x="326.67" y="63.93" width="0.9" height="0.9" fill="#b64aa8" fill-opacity="0.47"/>
<rect x="323.51" y="69.76" width="0.9" height="0.9" fill="#b64aa8" fill-opacity="0.5"/>
<rect x="304.97" y="73.16" width="0.9" height="0.9" fill="#b64aa8" fill-opacity="0.61"/>
<rect x="308.43" y="77.08" width="0.9" height="0.9" fill="#b64aa8" fill-opacity="0.61"/>
<rect x="315.71" y="73.39" width="0.9" height="0.9" fill="#b64aa8" fill-opacity="0.55"/>
<rect x="346.31" y="53.65" width="0.9" height="0.9" fill="#b64aa8" fill-opacity="0.33"/>
<rect x="331.54" y="63.29" width="0.9" height="0.9" fill="#b64aa8" fill-opacity="0.44"/>
<rect x="327.02" y="61.36" width="0.9" height="0.9" fill="#b64aa8" fill-opacity="0.45"/>
<rect x="316.74" y="71.82" width="0.9" height="0.9" fill="#b64aa8" fill-opacity="0.55"/>
<rect x="319.45" y="75.88" width="0.9" height="0.9" fill="#b64aa8" fill-opacity="0.55"/>
<rect x="311.21" y="79.04" width="0.9" height="0.9" fill="#b64aa8" fill-opacity="0.6"/>
<rect x="308.78" y="73.59" width="0.9" height="0.9" fill="#b64aa8" fill-opacity="0.59"/>
<rect x="310.41" y="72.5" width="0.9" height="0.9" fill="#b64aa8" fill-opacity="0.58"/>
<rect x="308.03" y="74.23" width="0.9" height="0.9" fill="#b64aa8" fill-opacity="0.6"/>
<rect x="304.59" y="90.9" width="0.9" height="0.9" fill="#3048b0" fill-opacity="0.85"/>
<rect x="306" y="92.46" width="0.9" height="0.9" fill="#3048b0" fill-opacity="0.85"/>
<rect x="305.05" y="85.2" width="0.9" height="0.9" fill="#3048b0" fill-opacity="0.85"/>
<rect x="305.16" y="90.53" width="0.9" height="0.9" fill="#3048b0" fill-opacity="0.85"/>
<rect x="307.04" y="92.35" width="0.9" height="0.9" fill="#3048b0" fill-opacity="0.85"/>
<rect x="305.56" y="91.1" width="0.9" height="0.9" fill="#3048b0" fill-opacity="0.85"/>
<rect x="305.36" y="87.59" width="0.9" height="0.9" fill="#3048b0" fill-opacity="0.85"/>
<rect x="305.14" y="94.01" width="0.9" height="0.9" fill="#3048b0" fill-opacity="0.85"/>
<rect x="305.24" y="86.91" width="0.9" height="0.9" fill="#3048b0" fill-opacity="0.85"/>
<rect x="305.89" y="92.78" width="0.9" height="0.9" fill="#3048b0" fill-opacity="0.85"/>
<rect x="304.14" y="95.78" width="0.9" height="0.9" fill="#3048b0" fill-opacity="0.85"/>
<rect x="306.62" y="84.31" width="0.9" height="0.9" fill="#3048b0" fill-opacity="0.85"/>
<rect x="307.16" y="91.54" width="0.9" height="0.9" fill="#3048b0" fill-opacity="0.85"/>
<rect x="306.63" y="91.72" width="0.9" height="0.9" fill="#3048b0" fill-opacity="0.85"/>
<rect x="304.54" y="91.44" width="0.9" height="0.9" fill="#3048b0" fill-opacity="0.85"/>
<rect x="303.13" y="88.31" width="0.9" height="0.9" fill="#3048b0" fill-opacity="0.85"/>
<rect x="304.61" y="89.74" width="0.9" height="0.9" fill="#3048b0" fill-opacity="0.85"/>
<rect x="305.36" y="86.33" width="0.9" height="0.9" fill="#3048b0" fill-opacity="0.85"/>
<rect x="306.22" y="91.14" width="0.9" height="0.9" fill="#3048b0" fill-opacity="0.85"/>
<rect x="304.93" y="92.41" width="0.9" height="0.9" fill="#3048b0" fill-opacity="0.85"/>
<rect x="304.78" y="88.62" width="0.9" height="0.9" fill="#3048b0" fill-opacity="0.85"/>
<rect x="307.1" y="87.8" width="0.9" height="0.9" fill="#3048b0" fill-opacity="0.85"/>
<rect x="304.31" y="89.23" width="0.9" height="0.9" fill="#3048b0" fill-opacity="0.85"/>
<rect x="306.52" y="90.69" width="0.9" height="0.9" fill="#3048b0" fill-opacity="0.85"/>
<rect x="306.31" y="90.9" width="0.9" height="0.9" fill="#3048b0" fill-opacity="0.85"/>
<rect x="303.47" y="90.38" width="0.9" height="0.9" fill="#3048b0" fill-opacity="0.85"/>
<rect x="305.52" y="90.92" width="0.9" height="0.9" fill="#3048b0" fill-opacity="0.85"/>
<rect x="304.45" y="86.59" width="0.9" height="0.9" fill="#3048b0" fill-opacity="0.85"/>
<rect x="303.95" y="82.13" width="0.9" height="0.9" fill="#3048b0" fill-opacity="0.85"/>
<rect x="302.81" y="92.64" width="0.9" height="0.9" fill="#3048b0" fill-opacity="0.85"/>
<rect x="303.17" y="95.17" width="0.9" height="0.9" fill="#3048b0" fill-opacity="0.85"/>
<rect x="305.69" y="86.25" width="0.9" height="0.9" fill="#3048b0" fill-opacity="0.85"/>
<rect x="304.67" y="88.61" width="0.9" height="0.9" fill="#3048b0" fill-opacity="0.85"/>
<rect x="305.51" y="91.64" width="0.9" height="0.9" fill="#3048b0" fill-opacity="0.85"/>
<rect x="303.81" y="93.69" width="0.9" height="0.9" fill="#3048b0" fill-opacity="0.85"/>
<rect x="304.75" y="92.73" width="0.9" height="0.9" fill="#3048b0" fill-opacity="0.85"/>
<rect x="304.82" y="94.71" width="0.9" height="0.9" fill="#3048b0" fill-opacity="0.85"/>
<rect x="303.19" y="90.53" width="0.9" height="0.9" fill="#3048b0" fill-opacity="0.85"/>
<rect x="303.05" y="91.99" width="0.9" height="0.9" fill="#3048b0" fill-opacity="0.85"/>
<rect x="305.72" y="91.99" width="0.9" height="0.9" fill="#3048b0" fill-opacity="0.85"/>
<rect x="305.35" y="89.34" width="0.9" height="0.9" fill="#3048b0" fill-opacity="0.85"/>
<rect x="303.97" y="94.46" width="0.9" height="0.9" fill="#3048b0" fill-opacity="0.85"/>
<rect x="305.03" y="92.65" width="0.9" height="0.9" fill="#3048b0" fill-opacity="0.85"/>
<rect x="306.01" y="93.76" width="0.9" height="0.9" fill="#3048b0" fill-opacity="0.85"/>
<rect x="307.49" y="89.47" width="0.9" height="0.9" fill="#3048b0" fill-opacity="0.85"/>
<rect x="304.03" y="93.92" width="0.9" height="0.9" fill="#3048b0" fill-opacity="0.85"/>
<rect x="305.95" y="87.38" width="0.9" height="0.9" fill="#3048b0" fill-opacity="0.85"/>
<rect x="307.86" y="91.92" width="0.9" height="0.9" fill="#3048b0" fill-opacity="0.85"/>
<rect x="305.25" y="82.49" width="0.9" height="0.9" fill="#3048b0" fill-opacity="0.85"/>
<rect x="307.03" y="87.52" width="0.9" height="0.9" fill="#3048b0" fill-opacity="0.85"/>
<rect x="301.87" y="93" width="0.9" height="0.9" fill="#3048b0" fill-opacity="0.85"/>
<rect x="307.01" y="89.27" width="0.9" height="0.9" fill="#3048b0" fill-opacity="0.85"/>
<rect x="305.15" y="91.23" width="0.9" height="0.9" fill="#3048b0" fill-opacity="0.85"/>
<rect x="302.77" y="85.6" width="0.9" height="0.9" fill="#3048b0" fill-opacity="0.85"/>
<rect x="306.16" y="95.53" width="0.9" height="0.9" fill="#3048b0" fill-opacity="0.85"/>
<rect x="306.5" y="92.55" width="0.9" height="0.9" fill="#3048b0" fill-opacity="0.85"/>
<rect x="306.7" y="90.6" width="0.9" height="0.9" fill="#3048b0" fill-opacity="0.85"/>
<rect x="306.69" y="91.99" width="0.9" height="0.9" fill="#3048b0" fill-opacity="0.85"/>
<rect x="305.12" y="91.71" width="0.9" height="0.9" fill="#3048b0" fill-opacity="0.85"/>
<rect x="304.21" y="95.12" width="0.9" height="0.9" fill="#3048b0" fill-opacity="0.85"/>
<rect x="304.57" y="91.35" width="0.9" height="0.9" fill="#3048b0" fill-opacity="0.85"/>
<rect x="305.12" y="86.07" width="0.9" height="0.9" fill="#3048b0" fill-opacity="0.85"/>
<rect x="305.68" y="89.88" width="0.9" height="0.9" fill="#3048b0" fill-opacity="0.85"/>
<rect x="304.55" y="94.7" width="0.9" height="0.9" fill="#3048b0" fill-opacity="0.85"/>
<rect x="305.22" y="92.46" width="0.9" height="0.9" fill="#3048b0" fill-opacity="0.85"/>
<rect x="306.28" y="89.36" width="0.9" height="0.9" fill="#3048b0" fill-opacity="0.85"/>
<rect x="305.58" y="92.59" width="0.9" height="0.9" fill="#3048b0" fill-opacity="0.85"/>
<rect x="308.09" y="91.05" width="0.9" height="0.9" fill="#3048b0" fill-opacity="0.85"/>
<rect x="307.91" y="92.59" width="0.9" height="0.9" fill="#3048b0" fill-opacity="0.85"/>
<rect x="303.7" y="85.71" width="0.9" height="0.9" fill="#3048b0" fill-opacity="0.85"/>
<rect x="304.44" y="87.87" width="0.9" height="0.9" fill="#3048b0" fill-opacity="0.85"/>
<rect x="303.49" y="92.77" width="0.9" height="0.9" fill="#3048b0" fill-opacity="0.85"/>
<rect x="303.68" y="89.98" width="0.9" height="0.9" fill="#3048b0" fill-opacity="0.85"/>
<rect x="305.86" y="91.78" width="0.9" height="0.9" fill="#3048b0" fill-opacity="0.85"/>
<rect x="303.9" y="96.81" width="0.9" height="0.9" fill="#3048b0" fill-opacity="0.85"/>
<rect x="303.83" y="89.71" width="0.9" height="0.9" fill="#3048b0" fill-opacity="0.85"/>
<rect x="304.82" y="91.44" width="0.9" height="0.9" fill="#3048b0" fill-opacity="0.85"/>
<rect x="306.18" y="88.94" width="0.9" height="0.9" fill="#3048b0" fill-opacity="0.85"/>
<rect x="304.71" y="88.73" width="0.9" height="0.9" fill="#3048b0" fill-opacity="0.85"/>
<rect x="304.71" y="90.45" width="0.9" height="0.9" fill="#3048b0" fill-opacity="0.85"/>
<rect x="306.33" y="86.14" width="0.9" height="0.9" fill="#3048b0" fill-opacity="0.85"/>
<rect x="305.76" y="84.1" width="0.9" height="0.9" fill="#3048b0" fill-opacity="0.85"/>
<rect x="305.74" y="94.95" width="0.9" height="0.9" fill="#3048b0" fill-opacity="0.85"/>
<rect x="306.37" y="90.36" width="0.9" height="0.9" fill="#3048b0" fill-opacity="0.85"/>
<rect x="303.87" y="94.2" width="0.9" height="0.9" fill="#3048b0" fill-opacity="0.85"/>
<rect x="305.44" y="91.06" width="0.9" height="0.9" fill="#3048b0" fill-opacity="0.85"/>
<rect x="304.35" y="91.15" width="0.9" height="0.9" fill="#3048b0" fill-opacity="0.85"/>
<rect x="306.47" y="92.78" width="0.9" height="0.9" fill="#3048b0" fill-opacity="0.85"/>
<rect x="306.2" y="92.93" width="0.9" height="0.9" fill="#3048b0" fill-opacity="0.85"/>
<rect x="303.83" y="86.92" width="0.9" height="0.9" fill="#3048b0" fill-opacity="0.85"/>
<rect x="306.87" y="94.46" width="0.9" height="0.9" fill="#3048b0" fill-opacity="0.85"/>
<rect x="303.67" y="87.65" width="0.9" height="0.9" fill="#3048b0" fill-opacity="0.85"/>
<rect x="306.66" y="91.32" width="0.9" height="0.9" fill="#3048b0" fill-opacity="0.85"/>
<rect x="305.42" y="98.67" width="0.9" height="0.9" fill="#3048b0" fill-opacity="0.85"/>
<rect x="304.05" y="90.93" width="0.9" height="0.9" fill="#3048b0" fill-opacity="0.85"/>
<rect x="303.73" y="95.9" width="0.9" height="0.9" fill="#3048b0" fill-opacity="0.85"/>
<rect x="304.77" y="89.6" width="0.9" height="0.9" fill="#3048b0" fill-opacity="0.85"/>
<rect x="305.13" y="92.6" width="0.9" height="0.9" fill="#3048b0" fill-opacity="0.85"/>
<rect x="304.25" y="90.84" width="0.9" height="0.9" fill="#3048b0" fill-opacity="0.85"/>
<rect x="305.88" y="91.99" width="0.9" height="0.9" fill="#3048b0" fill-opacity="0.85"/>
<rect x="303.37" y="88.01" width="0.9" height="0.9" fill="#3048b0" fill-opacity="0.85"/>
<rect x="305.15" y="87.81" width="0.9" height="0.9" fill="#3048b0" fill-opacity="0.85"/>
<rect x="305.16" y="91.73" width="0.9" height="0.9" fill="#3048b0" fill-opacity="0.85"/>
<rect x="302.77" y="85.8" width="0.9" height="0.9" fill="#3048b0" fill-opacity="0.85"/>
<rect x="305.56" y="88.05" width="0.9" height="0.9" fill="#3048b0" fill-opacity="0.85"/>
<rect x="303.55" y="92.69" width="0.9" height="0.9" fill="#3048b0" fill-opacity="0.85"/>
<rect x="301.97" y="88.76" width="0.9" height="0.9" fill="#3048b0" fill-opacity="0.85"/>
<rect x="304.38" y="87.91" width="0.9" height="0.9" fill="#3048b0" fill-opacity="0.85"/>
<rect x="304.87" y="87.22" width="0.9" height="0.9" fill="#3048b0" fill-opacity="0.85"/>
<rect x="306.32" y="91.14" width="0.9" height="0.9" fill="#3048b0" fill-opacity="0.85"/>
<rect x="304.54" y="89.55" width="0.9" height="0.9" fill="#3048b0" fill-opacity="0.85"/>
<rect x="307.05" y="91.15" width="0.9" height="0.9" fill="#3048b0" fill-opacity="0.85"/>
<rect x="307" y="90.1" width="0.9" height="0.9" fill="#3048b0" fill-opacity="0.85"/>
<rect x="306.56" y="96.47" width="0.9" height="0.9" fill="#3048b0" fill-opacity="0.85"/>
<rect x="306.86" y="89.32" width="0.9" height="0.9" fill="#3048b0" fill-opacity="0.85"/>
<rect x="305.61" y="84.57" width="0.9" height="0.9" fill="#3048b0" fill-opacity="0.85"/>
<rect x="304.45" y="91.05" width="0.9" height="0.9" fill="#3048b0" fill-opacity="0.85"/>
<rect x="305.99" y="90.69" width="0.9" height="0.9" fill="#3048b0" fill-opacity="0.85"/>
<rect x="306.4" y="91.17" width="0.9" height="0.9" fill="#3048b0" fill-opacity="0.85"/>
<rect x="305.47" y="85.67" width="0.9" height="0.9" fill="#3048b0" fill-opacity="0.85"/>
<rect x="304.85" y="94.22" width="0.9" height="0.9" fill="#3048b0" fill-opacity="0.85"/>
<rect x="303.15" y="90.59" width="0.9" height="0.9" fill="#3048b0" fill-opacity="0.85"/>
<rect x="306.03" y="90.55" width="0.9" height="0.9" fill="#3048b0" fill-opacity="0.85"/>
<rect x="305.61" y="85.75" width="0.9" height="0.9" fill="#3048b0" fill-opacity="0.85"/>
<rect x="303.49" y="92.16" width="0.9" height="0.9" fill="#3048b0" fill-opacity="0.85"/>
<rect x="305.29" y="90.48" width="0.9" height="0.9" fill="#3048b0" fill-opacity="0.85"/>
<rect x="306.09" y="94.9" width="0.9" height="0.9" fill="#3048b0" fill-opacity="0.85"/>
<rect x="305.02" y="89.39" width="0.9" height="0.9" fill="#3048b0" fill-opacity="0.85"/>
<rect x="306.17" y="86.83" width="0.9" height="0.9" fill="#3048b0" fill-opacity="0.85"/>
<rect x="306.13" y="91.09" width="0.9" height="0.9" fill="#3048b0" fill-opacity="0.85"/>
<rect x="303.27" y="87.84" width="0.9" height="0.9" fill="#3048b0" fill-opacity="0.85"/>
<rect x="304.77" y="91.98" width="0.9" height="0.9" fill="#3048b0" fill-opacity="0.85"/>
<rect x="305.78" y="87.31" width="0.9" height="0.9" fill="#3048b0" fill-opacity="0.85"/>
<rect x="306.34" y="90.28" width="0.9" height="0.9" fill="#3048b0" fill-opacity="0.85"/>
<rect x="306.97" y="89.98" width="0.9" height="0.9" fill="#3048b0" fill-opacity="0.85"/>
<rect x="302.7" y="90.58" width="0.9" height="0.9" fill="#3048b0" fill-opacity="0.85"/>
<rect x="305.08" y="89.08" width="0.9" height="0.9" fill="#3048b0" fill-opacity="0.85"/>
<rect x="306.08" y="88.16" width="0.9" height="0.9" fill="#3048b0" fill-opacity="0.85"/>
<rect x="306.73" y="90.5" width="0.9" height="0.9" fill="#3048b0" fill-opacity="0.85"/>
<rect x="307.33" y="88.88" width="0.9" height="0.9" fill="#3048b0" fill-opacity="0.85"/>
<rect x="303.96" y="91.16" width="0.9" height="0.9" fill="#3048b0" fill-opacity="0.85"/>
<rect x="304.68" y="89.84" width="0.9" height="0.9" fill="#3048b0" fill-opacity="0.85"/>
<rect x="303.81" y="83.7" width="0.9" height="0.9" fill="#3048b0" fill-opacity="0.85"/>
<rect x="306.21" y="90.49" width="0.9" height="0.9" fill="#3048b0" fill-opacity="0.85"/>
<rect x="303.46" y="95.01" width="0.9" height="0.9" fill="#3048b0" fill-opacity="0.85"/>
<rect x="306.68" y="91.63" width="0.9" height="0.9" fill="#3048b0" fill-opacity="0.85"/>
<rect x="306.36" y="92.55" width="0.9" height="0.9" fill="#3048b0" fill-opacity="0.85"/>
<rect x="305.79" y="92.1" width="0.9" height="0.9" fill="#3048b0" fill-opacity="0.85"/>
<rect x="302.37" y="89.23" width="0.9" height="0.9" fill="#3048b0" fill-opacity="0.85"/>
<rect x="304.29" y="86.54" width="0.9" height="0.9" fill="#3048b0" fill-opacity="0.85"/>
<rect x="306.12" y="93.2" width="0.9" height="0.9" fill="#3048b0" fill-opacity="0.85"/>
<rect x="303.34" y="93.96" width="0.9" height="0.9" fill="#3048b0" fill-opacity="0.85"/>
<rect x="304.85" y="92.45" width="0.9" height="0.9" fill="#3048b0" fill-opacity="0.85"/>
<rect x="305.03" y="92" width="0.9" height="0.9" fill="#3048b0" fill-opacity="0.85"/>
<rect x="306.3" y="91.91" width="0.9" height="0.9" fill="#3048b0" fill-opacity="0.85"/>
<rect x="305.52" y="90.6" width="0.9" height="0.9" fill="#3048b0" fill-opacity="0.85"/>
<rect x="305.51" y="91.54" width="0.9" height="0.9" fill="#3048b0" fill-opacity="0.85"/>
<rect x="304.59" y="90.72" width="0.9" height="0.9" fill="#3048b0" fill-opacity="0.85"/>
<rect x="305.17" y="91.7" width="0.9" height="0.9" fill="#3048b0" fill-opacity="0.85"/>
<rect x="304.99" y="87.76" width="0.9" height="0.9" fill="#3048b0" fill-opacity="0.85"/>
<rect x="306.09" y="88.74" width="0.9" height="0.9" fill="#3048b0" fill-opacity="0.85"/>
<rect x="304.93" y="92.45" width="0.9" height="0.9" fill="#3048b0" fill-opacity="0.85"/>
<rect x="306.49" y="89.64" width="0.9" height="0.9" fill="#3048b0" fill-opacity="0.85"/>
<rect x="302.98" y="83.21" width="0.9" height="0.9" fill="#3048b0" fill-opacity="0.85"/>
<rect x="306.7" y="91.07" width="0.9" height="0.9" fill="#3048b0" fill-opacity="0.85"/>
<rect x="304.94" y="83.62" width="0.9" height="0.9" fill="#3048b0" fill-opacity="0.85"/>
<rect x="306.61" y="96.6" width="0.9" height="0.9" fill="#3048b0" fill-opacity="0.85"/>
<rect x="305.27" y="92.91" width="0.9" height="0.9" fill="#3048b0" fill-opacity="0.85"/>
<rect x="306.26" y="92.77" width="0.9" height="0.9" fill="#3048b0" fill-opacity="0.85"/>
<rect x="307.08" y="88.64" width="0.9" height="0.9" fill="#3048b0" fill-opacity="0.85"/>
<rect x="304.45" y="87.21" width="0.9" height="0.9" fill="#3048b0" fill-opacity="0.85"/>
<rect x="305.26" y="90.04" width="0.9" height="0.9" fill="#3048b0" fill-opacity="0.85"/>
<rect x="304.94" y="90.76" width="0.9" height="0.9" fill="#3048b0" fill-opacity="0.85"/>
<rect x="305.43" y="88.32" width="0.9" height="0.9" fill="#3048b0" fill-opacity="0.85"/>
<rect x="303.08" y="91.18" width="0.9" height="0.9" fill="#3048b0" fill-opacity="0.85"/>
<rect x="304.94" y="92.81" width="0.9" height="0.9" fill="#3048b0" fill-opacity="0.85"/>
<rect x="304.84" y="92.55" width="0.9" height="0.9" fill="#3048b0" fill-opacity="0.85"/>
<rect x="304.15" y="87.5" width="0.9" height="0.9" fill="#3048b0" fill-opacity="0.85"/>
<rect x="304.91" y="84.04" width="0.9" height="0.9" fill="#3048b0" fill-opacity="0.85"/>
<rect x="303.18" y="90.71" width="0.9" height="0.9" fill="#3048b0" fill-opacity="0.85"/>
<rect x="306.95" y="88.67" width="0.9" height="0.9" fill="#3048b0" fill-opacity="0.85"/>
<rect x="305.73" y="92.08" width="0.9" height="0.9" fill="#3048b0" fill-opacity="0.85"/>
<rect x="307.58" y="95.75" width="0.9" height="0.9" fill="#3048b0" fill-opacity="0.85"/>
<rect x="304.04" y="95.75" width="0.9" height="0.9" fill="#3048b0" fill-opacity="0.85"/>
<rect x="303.66" y="91.59" width="0.9" height="0.9" fill="#3048b0" fill-opacity="0.85"/>
<rect x="305.52" y="94.12" width="0.9" height="0.9" fill="#3048b0" fill-opacity="0.85"/>
<rect x="303.02" y="95.76" width="0.9" height="0.9" fill="#3048b0" fill-opacity="0.85"/>
<rect x="305.45" y="90.85" width="0.9" height="0.9" fill="#3048b0" fill-opacity="0.85"/>
<rect x="304.25" y="91.55" width="0.9" height="0.9" fill="#3048b0" fill-opacity="0.85"/>
<rect x="304.73" y="93.33" width="0.9" height="0.9" fill="#3048b0" fill-opacity="0.85"/>
<rect x="305.48" y="90.61" width="0.9" height="0.9" fill="#3048b0" fill-opacity="0.85"/>
<rect x="305.22" y="89.19" width="0.9" height="0.9" fill="#3048b0" fill-opacity="0.85"/>
<rect x="307.55" y="88.42" width="0.9" height="0.9" fill="#3048b0" fill-opacity="0.85"/>
<rect x="305.97" y="90.74" width="0.9" height="0.9" fill="#3048b0" fill-opacity="0.85"/>
<rect x="303.5" y="88.82" width="0.9" height="0.9" fill="#3048b0" fill-opacity="0.85"/>
<rect x="306.41" y="93.17" width="0.9" height="0.9" fill="#3048b0" fill-opacity="0.85"/>
<rect x="303.44" y="89.71" width="0.9" height="0.9" fill="#3048b0" fill-opacity="0.85"/>
<rect x="305.27" y="95.21" width="0.9" height="0.9" fill="#3048b0" fill-opacity="0.85"/>
<rect x="303.55" y="94.44" width="0.9" height="0.9" fill="#3048b0" fill-opacity="0.85"/>
<rect x="304.09" y="86.94" width="0.9" height="0.9" fill="#3048b0" fill-opacity="0.85"/>
<rect x="306.84" y="94.04" width="0.9" height="0.9" fill="#3048b0" fill-opacity="0.85"/>
<rect x="304.44" y="89.5" width="0.9" height="0.9" fill="#3048b0" fill-opacity="0.85"/>
<rect x="304.33" y="94.93" width="0.9" height="0.9" fill="#3048b0" fill-opacity="0.85"/>
<rect x="304.43" y="92.31" width="0.9" height="0.9" fill="#3048b0" fill-opacity="0.85"/>
<rect x="304.75" y="90.6" width="0.9" height="0.9" fill="#3048b0" fill-opacity="0.85"/>
<rect x="307" y="92.8" width="0.9" height="0.9" fill="#3048b0" fill-opacity="0.85"/>
<rect x="303.64" y="89.04" width="0.9" height="0.9" fill="#3048b0" fill-opacity="0.85"/>
<rect x="303.56" y="91.76" width="0.9" height="0.9" fill="#3048b0" fill-opacity="0.85"/>
<rect x="305.9" y="91.93" width="0.9" height="0.9" fill="#3048b0" fill-opacity="0.85"/>
<rect x="303.1" y="90.3" width="0.9" height="0.9" fill="#3048b0" fill-opacity="0.85"/>
<rect x="304.68" y="91.94" width="0.9" height="0.9" fill="#3048b0" fill-opacity="0.85"/>
<rect x="306.6" y="87.71" width="0.9" height="0.9" fill="#3048b0" fill-opacity="0.85"/>
<rect x="305.15" y="92.46" width="0.9" height="0.9" fill="#3048b0" fill-opacity="0.85"/>
<rect x="304.53" y="87.06" width="0.9" height="0.9" fill="#3048b0" fill-opacity="0.85"/>
<rect x="304.24" y="92.67" width="0.9" height="0.9" fill="#3048b0" fill-opacity="0.85"/>
<rect x="303.97" y="92.21" width="0.9" height="0.9" fill="#3048b0" fill-opacity="0.85"/>
<rect x="304.39" y="92.93" width="0.9" height="0.9" fill="#3048b0" fill-opacity="0.85"/>
<rect x="305.32" y="89.07" width="0.9" height="0.9" fill="#3048b0" fill-opacity="0.85"/>
<rect x="306.74" y="100.03" width="0.9" height="0.9" fill="#3048b0" fill-opacity="0.85"/>
<rect x="306.39" y="90.09" width="0.9" height="0.9" fill="#3048b0" fill-opacity="0.85"/>
<rect x="304.42" y="91.24" width="0.9" height="0.9" fill="#3048b0" fill-opacity="0.85"/>
<rect x="304.21" y="88.48" width="0.9" height="0.9" fill="#3048b0" fill-opacity="0.85"/>
<rect x="306.04" y="95.15" width="0.9" height="0.9" fill="#3048b0" fill-opacity="0.85"/>
<rect x="302.81" y="89.36" width="0.9" height="0.9" fill="#3048b0" fill-opacity="0.85"/>
<rect x="304.58" y="93.82" width="0.9" height="0.9" fill="#3048b0" fill-opacity="0.85"/>
<rect x="304.72" y="87.92" width="0.9" height="0.9" fill="#3048b0" fill-opacity="0.85"/>
<rect x="303.71" y="91.74" width="0.9" height="0.9" fill="#3048b0" fill-opacity="0.85"/>
<rect x="303.86" y="89.67" width="0.9" height="0.9" fill="#3048b0" fill-opacity="0.85"/>
<rect x="305.59" y="93.64" width="0.9" height="0.9" fill="#3048b0" fill-opacity="0.85"/>
<rect x="303.01" y="89.92" width="0.9" height="0.9" fill="#3048b0" fill-opacity="0.85"/>
<rect x="303.96" y="88.18" width="0.9" height="0.9" fill="#3048b0" fill-opacity="0.85"/>
<rect x="304.3" y="92.19" width="0.9" height="0.9" fill="#3048b0" fill-opacity="0.85"/>
<rect x="305.24" y="87.19" width="0.9" height="0.9" fill="#3048b0" fill-opacity="0.85"/>
<rect x="303.37" y="87.91" width="0.9" height="0.9" fill="#3048b0" fill-opacity="0.85"/>
<rect x="306.53" y="93.15" width="0.9" height="0.9" fill="#3048b0" fill-opacity="0.85"/>
<rect x="304.73" y="85.13" width="0.9" height="0.9" fill="#3048b0" fill-opacity="0.85"/>
<rect x="304.8" y="93.13" width="0.9" height="0.9" fill="#3048b0" fill-opacity="0.85"/>
<rect x="304.66" y="89.61" width="0.9" height="0.9" fill="#3048b0" fill-opacity="0.85"/>
<rect x="304.26" y="88.05" width="0.9" height="0.9" fill="#3048b0" fill-opacity="0.85"/>
<rect x="303.87" y="91.57" width="0.9" height="0.9" fill="#3048b0" fill-opacity="0.85"/>
<rect x="306.6" y="92.75" width="0.9" height="0.9" fill="#3048b0" fill-opacity="0.85"/>
<rect x="305.38" y="89.06" width="0.9" height="0.9" fill="#3048b0" fill-opacity="0.85"/>
<rect x="304.98" y="90.31" width="0.9" height="0.9" fill="#3048b0" fill-opacity="0.85"/>
<rect x="306.4" y="93.27" width="0.9" height="0.9" fill="#3048b0" fill-opacity="0.85"/>
<rect x="304.21" y="93.13" width="0.9" height="0.9" fill="#3048b0" fill-opacity="0.85"/>
<rect x="305.93" y="90.69" width="0.9" height="0.9" fill="#3048b0" fill-opacity="0.85"/>
<rect x="305.15" y="88.52" width="0.9" height="0.9" fill="#3048b0" fill-opacity="0.85"/>
<rect x="303.98" y="87.99" width="0.9" height="0.9" fill="#3048b0" fill-opacity="0.85"/>
<rect x="306.09" y="89.05" width="0.9" height="0.9" fill="#3048b0" fill-opacity="0.85"/>
<rect x="303.2" y="92.92" width="0.9" height="0.9" fill="#3048b0" fill-opacity="0.85"/>
<rect x="305.95" y="92.61" width="0.9" height="0.9" fill="#3048b0" fill-opacity="0.85"/>
<rect x="303.98" y="91.78" width="0.9" height="0.9" fill="#3048b0" fill-opacity="0.85"/>
<rect x="305.64" y="95.08" width="0.9" height="0.9" fill="#3048b0" fill-opacity="0.85"/>
<rect x="306.88" y="89.96" width="0.9" height="0.9" fill="#3048b0" fill-opacity="0.85"/>
<rect x="305.84" y="89.72" width="0.9" height="0.9" fill="#3048b0" fill-opacity="0.85"/>
<rect x="304.34" y="89.71" width="0.9" height="0.9" fill="#3048b0" fill-opacity="0.85"/>
<rect x="305.07" y="96.66" width="0.9" height="0.9" fill="#3048b0" fill-opacity="0.85"/>
<rect x="304.64" y="84.66" width="0.9" height="0.9" fill="#3048b0" fill-opacity="0.85"/>
<rect x="303.6" y="91.76" width="0.9" height="0.9" fill="#3048b0" fill-opacity="0.85"/>
<rect x="303.69" y="92.23" width="0.9" height="0.9" fill="#3048b0" fill-opacity="0.85"/>
</g>
<rect x="392.2" y="23.2" width="37.2" height="32.4" fill="#fff" stroke="#888" stroke-width="0.6"/>
<rect x="392.5" y="23.7" width="4.6" height="4.3" fill="#ffffff" stroke="#bbb" stroke-width="0.3"/>
<text x="413.2" y="27.1" font-size="3" text-anchor="middle" font-weight="bold" fill="#333">Sample Name</text>
<line x1="397.2" y1="28.5" x2="429.4" y2="28.5" stroke="#888" stroke-width="0.6"/>
<rect x="392.5" y="29" width="4.6" height="4.42" fill="#2d2f8f" stroke="none" stroke-width="0.3"/>
<text x="398.5" y="32.1" font-size="2.5" fill="#888">Lymph</text>
<line x1="397.2" y1="33.92" x2="429.4" y2="33.92" stroke="#888" stroke-width="0.6"/>
<rect x="392.5" y="34.42" width="4.6" height="4.42" fill="#d8242c" stroke="none" stroke-width="0.3"/>
<text x="398.5" y="37.52" font-size="2.5" fill="#888">Q1: EpCAM</text>
<line x1="397.2" y1="39.34" x2="429.4" y2="39.34" stroke="#888" stroke-width="0.6"/>
<rect x="392.5" y="39.84" width="4.6" height="4.42" fill="#f08a3a" stroke="none" stroke-width="0.3"/>
<text x="398.5" y="42.94" font-size="2.5" fill="#888">Q2: EpCAM+</text>
<line x1="397.2" y1="44.76" x2="429.4" y2="44.76" stroke="#888" stroke-width="0.6"/>
<rect x="392.5" y="45.26" width="4.6" height="4.42" fill="#b04a9c" stroke="none" stroke-width="0.3"/>
<text x="398.5" y="48.36" font-size="2.5" fill="#888">FAP+ cells</text>
<line x1="397.2" y1="50.18" x2="429.4" y2="50.18" stroke="#888" stroke-width="0.6"/>
<rect x="392.5" y="50.68" width="4.6" height="4.42" fill="#3aaa55" stroke="none" stroke-width="0.3"/>
<text x="398.5" y="53.78" font-size="2.5" fill="#888">FAP- cells</text>
<line x1="397.2" y1="55.6" x2="429.4" y2="55.6" stroke="#888" stroke-width="0.6"/>
<line x1="428.2" y1="23.2" x2="428.2" y2="55.6" stroke="#aaa" stroke-width="0.4"/>
<text transform="translate(442.3 9.8) scale(0.9 1)" font-size="13.3" fill="#000" stroke="#000" stroke-width="0.55">D</text>
<line x1="468.8" y1="23" x2="468.8" y2="110.6" stroke="#222" stroke-width="1"/>
<line x1="466.6" y1="110.1" x2="468.8" y2="110.1" stroke="#222" stroke-width="1"/>
<text transform="translate(465.4 112.52) scale(0.82 1)" font-size="7" text-anchor="end" fill="#222" stroke="#222" stroke-width="0.18">0</text>
<line x1="466.6" y1="92.68" x2="468.8" y2="92.68" stroke="#222" stroke-width="1"/>
<text transform="translate(465.4 95.1) scale(0.82 1)" font-size="7" text-anchor="end" fill="#222" stroke="#222" stroke-width="0.18">20</text>
<line x1="466.6" y1="75.26" x2="468.8" y2="75.26" stroke="#222" stroke-width="1"/>
<text transform="translate(465.4 77.68) scale(0.82 1)" font-size="7" text-anchor="end" fill="#222" stroke="#222" stroke-width="0.18">40</text>
<line x1="466.6" y1="57.84" x2="468.8" y2="57.84" stroke="#222" stroke-width="1"/>
<text transform="translate(465.4 60.26) scale(0.82 1)" font-size="7" text-anchor="end" fill="#222" stroke="#222" stroke-width="0.18">60</text>
<line x1="466.6" y1="40.42" x2="468.8" y2="40.42" stroke="#222" stroke-width="1"/>
<text transform="translate(465.4 42.84) scale(0.82 1)" font-size="7" text-anchor="end" fill="#222" stroke="#222" stroke-width="0.18">80</text>
<line x1="466.6" y1="23" x2="468.8" y2="23" stroke="#222" stroke-width="1"/>
<text transform="translate(465.4 25.42) scale(0.82 1)" font-size="7" text-anchor="end" fill="#222" stroke="#222" stroke-width="0.18">100</text>
<line x1="468.3" y1="110.1" x2="512" y2="110.1" stroke="#222" stroke-width="1"/>
<line x1="479.6" y1="110.1" x2="479.6" y2="112.3" stroke="#222" stroke-width="1"/>
<line x1="500.8" y1="110.1" x2="500.8" y2="112.3" stroke="#222" stroke-width="1"/>
<text x="481.6" y="119.2" font-size="6.5" text-anchor="end" fill="#222" transform="rotate(-45 481.6 119.2)" stroke="#222" stroke-width="0.22">PBMC</text>
<text x="502.8" y="119.2" font-size="6.5" text-anchor="end" fill="#222" transform="rotate(-45 502.8 119.2)" stroke="#222" stroke-width="0.22">Malignant exudate</text>
<text x="450.8" y="66.7" font-size="7.7" text-anchor="middle" fill="#222" transform="rotate(-90 450.8 66.7)">PD1<tspan font-size="5" dy="-2.5">+</tspan><tspan dy="2.5"> (%)</tspan></text>
<line x1="479.6" y1="91.63" x2="479.6" y2="103.83" stroke="#111" stroke-width="1.1"/>
<line x1="476.6" y1="91.63" x2="482.6" y2="91.63" stroke="#111" stroke-width="1.1"/>
<line x1="476.6" y1="103.83" x2="482.6" y2="103.83" stroke="#111" stroke-width="1.1"/>
<line x1="473.6" y1="97.91" x2="485.6" y2="97.91" stroke="#111" stroke-width="1.1"/>
<polygon points="477.1,94.18 482.1,94.18 479.6,90.18" fill="#111"/>
<polygon points="477.1,104.63 482.1,104.63 479.6,100.63" fill="#111"/>
<circle cx="501.6" cy="29.2" r="1.75" fill="#111"/>
<circle cx="496.4" cy="32.2" r="1.75" fill="#111"/>
<circle cx="501.6" cy="36.1" r="1.75" fill="#111"/>
<circle cx="495.8" cy="41.6" r="1.75" fill="#111"/>
<circle cx="503.6" cy="39.7" r="1.75" fill="#111"/>
<circle cx="506.9" cy="42.9" r="1.75" fill="#111"/>
<circle cx="499.7" cy="47.5" r="1.75" fill="#111"/>
<circle cx="506.2" cy="49.5" r="1.75" fill="#111"/>
<circle cx="496.4" cy="53.4" r="1.75" fill="#111"/>
<circle cx="501.9" cy="52.8" r="1.75" fill="#111"/>
<circle cx="506.2" cy="55.4" r="1.75" fill="#111"/>
<circle cx="499" cy="61.3" r="1.75" fill="#111"/>
<circle cx="506.2" cy="61.9" r="1.75" fill="#111"/>
<circle cx="496.4" cy="65.2" r="1.75" fill="#111"/>
<circle cx="500.9" cy="66.5" r="1.75" fill="#111"/>
<circle cx="495.8" cy="69.1" r="1.75" fill="#111"/>
<circle cx="506.2" cy="71.1" r="1.75" fill="#111"/>
<circle cx="501.6" cy="72.4" r="1.75" fill="#111"/>
<circle cx="501.6" cy="78.3" r="1.75" fill="#111"/>
<circle cx="501.6" cy="85.1" r="1.75" fill="#111"/>
<circle cx="506.9" cy="83.5" r="1.75" fill="#111"/>
<circle cx="498.4" cy="44.5" r="1.75" fill="#111"/>
<circle cx="503.4" cy="45" r="1.75" fill="#111"/>
<circle cx="497.9" cy="50" r="1.75" fill="#111"/>
<circle cx="502.9" cy="58" r="1.75" fill="#111"/>
<circle cx="498.4" cy="57.5" r="1.75" fill="#111"/>
<circle cx="504.4" cy="67.5" r="1.75" fill="#111"/>
<circle cx="499.4" cy="70.5" r="1.75" fill="#111"/>
<line x1="501.8" y1="40.3" x2="501.8" y2="69.1" stroke="#111" stroke-width="1.2"/>
<line x1="497.3" y1="40.3" x2="506.3" y2="40.3" stroke="#111" stroke-width="1.2"/>
<line x1="497.3" y1="69.1" x2="506.3" y2="69.1" stroke="#111" stroke-width="1.2"/>
<line x1="495.3" y1="55.2" x2="508.3" y2="55.2" stroke="#111" stroke-width="1.2"/>
<line x1="481.2" y1="11.4" x2="501.3" y2="11.4" stroke="#222" stroke-width="0.9"/>
<line x1="481.2" y1="9.8" x2="481.2" y2="13" stroke="#222" stroke-width="0.9"/>
<line x1="501.3" y1="9.8" x2="501.3" y2="13" stroke="#222" stroke-width="0.9"/>
<rect x="487.15" y="5.65" width="1.9" height="1.9" fill="#111" stroke="none" stroke-width="1"/>
<rect x="490.25" y="5.65" width="1.9" height="1.9" fill="#111" stroke="none" stroke-width="1"/>
<rect x="493.35" y="5.65" width="1.9" height="1.9" fill="#111" stroke="none" stroke-width="1"/>
<text transform="translate(0.6 187.1) scale(0.9 1)" font-size="13.3" fill="#000" stroke="#000" stroke-width="0.55">E</text>
<line x1="29.5" y1="207" x2="29.5" y2="296.8" stroke="#222" stroke-width="1"/>
<line x1="27.3" y1="296.3" x2="29.5" y2="296.3" stroke="#222" stroke-width="1"/>
<text x="26.2" y="299.12" font-size="7" text-anchor="end" fill="#222">0</text>
<line x1="27.3" y1="278.44" x2="29.5" y2="278.44" stroke="#222" stroke-width="1"/>
<text x="26.2" y="281.26" font-size="7" text-anchor="end" fill="#222">20</text>
<line x1="27.3" y1="260.58" x2="29.5" y2="260.58" stroke="#222" stroke-width="1"/>
<text x="26.2" y="263.4" font-size="7" text-anchor="end" fill="#222">40</text>
<line x1="27.3" y1="242.72" x2="29.5" y2="242.72" stroke="#222" stroke-width="1"/>
<text x="26.2" y="245.54" font-size="7" text-anchor="end" fill="#222">60</text>
<line x1="27.3" y1="224.86" x2="29.5" y2="224.86" stroke="#222" stroke-width="1"/>
<text x="26.2" y="227.68" font-size="7" text-anchor="end" fill="#222">80</text>
<line x1="27.3" y1="207" x2="29.5" y2="207" stroke="#222" stroke-width="1"/>
<text x="26.2" y="209.82" font-size="7" text-anchor="end" fill="#222">100</text>
<line x1="29" y1="296.3" x2="163.6" y2="296.3" stroke="#222" stroke-width="1"/>
<line x1="37.9" y1="296.3" x2="37.9" y2="298.5" stroke="#222" stroke-width="1"/>
<line x1="54.62" y1="296.3" x2="54.62" y2="298.5" stroke="#222" stroke-width="1"/>
<line x1="71.34" y1="296.3" x2="71.34" y2="298.5" stroke="#222" stroke-width="1"/>
<line x1="88.06" y1="296.3" x2="88.06" y2="298.5" stroke="#222" stroke-width="1"/>
<line x1="104.78" y1="296.3" x2="104.78" y2="298.5" stroke="#222" stroke-width="1"/>
<line x1="121.5" y1="296.3" x2="121.5" y2="298.5" stroke="#222" stroke-width="1"/>
<line x1="138.22" y1="296.3" x2="138.22" y2="298.5" stroke="#222" stroke-width="1"/>
<line x1="154.94" y1="296.3" x2="154.94" y2="298.5" stroke="#222" stroke-width="1"/>
<text transform="translate(39.5 305.8) rotate(-45) scale(0.86 1)" font-size="7" text-anchor="end" fill="#222" stroke="#222" stroke-width="0.12">Untreated</text>
<text transform="translate(56.22 305.8) rotate(-45) scale(0.86 1)" font-size="7" text-anchor="end" fill="#222" stroke="#222" stroke-width="0.12">Control BiTE</text>
<text transform="translate(72.94 305.8) rotate(-45) scale(0.86 1)" font-size="7" text-anchor="end" fill="#222" stroke="#222" stroke-width="0.12">FAP BiTE</text>
<text transform="translate(89.66 305.8) rotate(-45) scale(0.86 1)" font-size="7" text-anchor="end" fill="#222" stroke="#222" stroke-width="0.12">EnAd</text>
<text transform="translate(106.38 305.8) rotate(-45) scale(0.86 1)" font-size="7" text-anchor="end" fill="#222" stroke="#222" stroke-width="0.12">EnAd-CMV-control-BiTE</text>
<text transform="translate(123.1 305.8) rotate(-45) scale(0.86 1)" font-size="7" text-anchor="end" fill="#222" stroke="#222" stroke-width="0.12">EnAd-CMV-FAP-BiTE</text>
<text transform="translate(139.82 305.8) rotate(-45) scale(0.86 1)" font-size="7" text-anchor="end" fill="#222" stroke="#222" stroke-width="0.12">EnAd-SA-control-BiTE</text>
<text transform="translate(156.54 305.8) rotate(-45) scale(0.86 1)" font-size="7" text-anchor="end" fill="#222" stroke="#222" stroke-width="0.12">EnAd-SA-FAP-BiTE</text>
<text x="9.8" y="252" font-size="7.7" text-anchor="middle" fill="#222" transform="rotate(-90 9.8 252)">CD25<tspan font-size="5" dy="-2.5">+</tspan><tspan dy="2.5"> (%)</tspan></text>
<circle cx="34.5" cy="267.72" r="1.9" fill="#111"/>
<circle cx="36.77" cy="268.62" r="1.9" fill="#111"/>
<circle cx="39.03" cy="266.83" r="1.9" fill="#111"/>
<circle cx="41.3" cy="269.06" r="1.9" fill="#111"/>
<line x1="32.15" y1="267.72" x2="43.65" y2="267.72" stroke="#111" stroke-width="1.3"/>
<circle cx="34.5" cy="282.01" r="1.9" fill="#9b1535"/>
<circle cx="36.77" cy="283.8" r="1.9" fill="#9b1535"/>
<circle cx="39.03" cy="280.67" r="1.9" fill="#9b1535"/>
<circle cx="41.3" cy="282.91" r="1.9" fill="#9b1535"/>
<line x1="32.15" y1="282.01" x2="43.65" y2="282.01" stroke="#9b1535" stroke-width="1.3"/>
<circle cx="34.5" cy="292.73" r="1.9" fill="#3a50a0"/>
<circle cx="37.9" cy="291.84" r="1.9" fill="#3a50a0"/>
<circle cx="41.3" cy="293.17" r="1.9" fill="#3a50a0"/>
<line x1="32.15" y1="292.73" x2="43.65" y2="292.73" stroke="#3a50a0" stroke-width="1.3"/>
<line x1="32.15" y1="292.28" x2="43.65" y2="292.28" stroke="#9a9aa8" stroke-width="1.3"/>
<circle cx="51.22" cy="265.94" r="1.9" fill="#111"/>
<circle cx="54.62" cy="266.83" r="1.9" fill="#111"/>
<circle cx="58.02" cy="265.05" r="1.9" fill="#111"/>
<line x1="48.87" y1="265.94" x2="60.37" y2="265.94" stroke="#111" stroke-width="1.3"/>
<circle cx="54.62" cy="274.87" r="1.9" fill="#9b1535"/>
<circle cx="52.42" cy="278.44" r="1.9" fill="#9b1535"/>
<circle cx="54.62" cy="282.91" r="1.9" fill="#9b1535"/>
<line x1="48.87" y1="278.44" x2="60.37" y2="278.44" stroke="#9b1535" stroke-width="1.3"/>
<circle cx="51.22" cy="292.73" r="1.9" fill="#3a50a0"/>
<circle cx="54.62" cy="291.84" r="1.9" fill="#3a50a0"/>
<circle cx="58.02" cy="293.17" r="1.9" fill="#3a50a0"/>
<line x1="48.87" y1="292.73" x2="60.37" y2="292.73" stroke="#3a50a0" stroke-width="1.3"/>
<line x1="48.87" y1="292.28" x2="60.37" y2="292.28" stroke="#9a9aa8" stroke-width="1.3"/>
<circle cx="67.94" cy="229.33" r="1.9" fill="#111"/>
<circle cx="71.34" cy="230.22" r="1.9" fill="#111"/>
<circle cx="74.74" cy="228.43" r="1.9" fill="#111"/>
<line x1="65.59" y1="229.33" x2="77.09" y2="229.33" stroke="#111" stroke-width="1.3"/>
<circle cx="67.94" cy="241.83" r="1.9" fill="#3a50a0"/>
<circle cx="71.34" cy="244.51" r="1.9" fill="#3a50a0"/>
<circle cx="74.74" cy="243.61" r="1.9" fill="#3a50a0"/>
<line x1="65.59" y1="243.61" x2="77.09" y2="243.61" stroke="#3a50a0" stroke-width="1.3"/>
<circle cx="67.94" cy="259.69" r="1.9" fill="#9b1535"/>
<circle cx="71.34" cy="261.03" r="1.9" fill="#9b1535"/>
<circle cx="74.74" cy="258.79" r="1.9" fill="#9b1535"/>
<line x1="65.59" y1="259.69" x2="77.09" y2="259.69" stroke="#9b1535" stroke-width="1.3"/>
<circle cx="71.34" cy="268.17" r="1.9" fill="#9a9aa8"/>
<line x1="65.59" y1="268.17" x2="77.09" y2="268.17" stroke="#9a9aa8" stroke-width="1.3"/>
<circle cx="84.66" cy="273.08" r="1.9" fill="#111"/>
<circle cx="88.06" cy="273.98" r="1.9" fill="#111"/>
<circle cx="91.46" cy="272.19" r="1.9" fill="#111"/>
<line x1="82.31" y1="273.08" x2="93.81" y2="273.08" stroke="#111" stroke-width="1.3"/>
<circle cx="88.06" cy="276.65" r="1.9" fill="#9b1535"/>
<circle cx="85.86" cy="279.33" r="1.9" fill="#9b1535"/>
<circle cx="88.06" cy="282.46" r="1.9" fill="#9b1535"/>
<line x1="82.31" y1="279.33" x2="93.81" y2="279.33" stroke="#9b1535" stroke-width="1.3"/>
<circle cx="84.66" cy="291.84" r="1.9" fill="#3a50a0"/>
<circle cx="91.46" cy="292.73" r="1.9" fill="#3a50a0"/>
<line x1="82.31" y1="291.84" x2="93.81" y2="291.84" stroke="#3a50a0" stroke-width="1.3"/>
<line x1="82.31" y1="293.17" x2="93.81" y2="293.17" stroke="#9a9aa8" stroke-width="1.3"/>
<circle cx="101.38" cy="273.98" r="1.9" fill="#111"/>
<circle cx="104.78" cy="273.08" r="1.9" fill="#111"/>
<circle cx="108.18" cy="274.42" r="1.9" fill="#111"/>
<line x1="99.03" y1="273.98" x2="110.53" y2="273.98" stroke="#111" stroke-width="1.3"/>
<circle cx="104.78" cy="267.72" r="1.9" fill="#9b1535"/>
<circle cx="102.58" cy="276.65" r="1.9" fill="#9b1535"/>
<circle cx="104.78" cy="281.12" r="1.9" fill="#9b1535"/>
<line x1="99.03" y1="273.98" x2="110.53" y2="273.98" stroke="#9b1535" stroke-width="1.3"/>
<circle cx="101.38" cy="290.94" r="1.9" fill="#3a50a0"/>
<circle cx="108.18" cy="292.73" r="1.9" fill="#3a50a0"/>
<line x1="99.03" y1="291.84" x2="110.53" y2="291.84" stroke="#3a50a0" stroke-width="1.3"/>
<line x1="99.03" y1="291.84" x2="110.53" y2="291.84" stroke="#9a9aa8" stroke-width="1.3"/>
<circle cx="118.1" cy="228.43" r="1.9" fill="#111"/>
<circle cx="121.5" cy="227.54" r="1.9" fill="#111"/>
<circle cx="124.9" cy="229.33" r="1.9" fill="#111"/>
<line x1="115.75" y1="228.43" x2="127.25" y2="228.43" stroke="#111" stroke-width="1.3"/>
<circle cx="118.1" cy="246.29" r="1.9" fill="#3a50a0"/>
<circle cx="121.5" cy="247.19" r="1.9" fill="#3a50a0"/>
<circle cx="124.9" cy="245.4" r="1.9" fill="#3a50a0"/>
<line x1="115.75" y1="246.29" x2="127.25" y2="246.29" stroke="#3a50a0" stroke-width="1.3"/>
<circle cx="121.5" cy="254.33" r="1.9" fill="#9b1535"/>
<circle cx="119.3" cy="257.01" r="1.9" fill="#9b1535"/>
<circle cx="121.5" cy="260.58" r="1.9" fill="#9b1535"/>
<line x1="115.75" y1="257.01" x2="127.25" y2="257.01" stroke="#9b1535" stroke-width="1.3"/>
<circle cx="121.5" cy="269.51" r="1.9" fill="#9a9aa8"/>
<line x1="115.75" y1="269.51" x2="127.25" y2="269.51" stroke="#9a9aa8" stroke-width="1.3"/>
<circle cx="134.82" cy="272.19" r="1.9" fill="#111"/>
<circle cx="138.22" cy="273.08" r="1.9" fill="#111"/>
<circle cx="141.62" cy="271.3" r="1.9" fill="#111"/>
<line x1="132.47" y1="272.19" x2="143.97" y2="272.19" stroke="#111" stroke-width="1.3"/>
<circle cx="138.22" cy="266.83" r="1.9" fill="#9b1535"/>
<circle cx="136.02" cy="272.19" r="1.9" fill="#9b1535"/>
<circle cx="138.22" cy="277.99" r="1.9" fill="#9b1535"/>
<line x1="132.47" y1="272.19" x2="143.97" y2="272.19" stroke="#9b1535" stroke-width="1.3"/>
<circle cx="134.82" cy="292.73" r="1.9" fill="#3a50a0"/>
<circle cx="138.22" cy="291.84" r="1.9" fill="#3a50a0"/>
<circle cx="141.62" cy="293.17" r="1.9" fill="#3a50a0"/>
<line x1="132.47" y1="292.73" x2="143.97" y2="292.73" stroke="#3a50a0" stroke-width="1.3"/>
<line x1="132.47" y1="292.73" x2="143.97" y2="292.73" stroke="#9a9aa8" stroke-width="1.3"/>
<circle cx="154.94" cy="241.83" r="1.9" fill="#3a50a0"/>
<circle cx="154.94" cy="250.76" r="1.9" fill="#3a50a0"/>
<line x1="149.19" y1="247.19" x2="160.69" y2="247.19" stroke="#3a50a0" stroke-width="1.3"/>
<circle cx="154.94" cy="257.9" r="1.9" fill="#9b1535"/>
<circle cx="154.94" cy="263.26" r="1.9" fill="#9b1535"/>
<line x1="149.19" y1="261.47" x2="160.69" y2="261.47" stroke="#9b1535" stroke-width="1.3"/>
<circle cx="154.94" cy="267.72" r="1.9" fill="#111"/>
<circle cx="152.74" cy="272.19" r="1.9" fill="#111"/>
<circle cx="154.94" cy="271.3" r="1.9" fill="#111"/>
<line x1="149.19" y1="271.3" x2="160.69" y2="271.3" stroke="#111" stroke-width="1.3"/>
<circle cx="151.54" cy="285.58" r="1.9" fill="#9a9aa8"/>
<circle cx="158.34" cy="286.03" r="1.9" fill="#9a9aa8"/>
<line x1="149.19" y1="285.58" x2="160.69" y2="285.58" stroke="#9a9aa8" stroke-width="1.3"/>
<rect x="67.29" y="187.75" width="1.9" height="1.9" fill="#111" stroke="none" stroke-width="1"/>
<rect x="70.39" y="187.75" width="1.9" height="1.9" fill="#111" stroke="none" stroke-width="1"/>
<rect x="73.49" y="187.75" width="1.9" height="1.9" fill="#111" stroke="none" stroke-width="1"/>
<rect x="67.29" y="193.55" width="1.9" height="1.9" fill="#3a50a0" stroke="none" stroke-width="1"/>
<rect x="70.39" y="193.55" width="1.9" height="1.9" fill="#3a50a0" stroke="none" stroke-width="1"/>
<rect x="73.49" y="193.55" width="1.9" height="1.9" fill="#3a50a0" stroke="none" stroke-width="1"/>
<rect x="67.29" y="199.15" width="1.9" height="1.9" fill="#9b1535" stroke="none" stroke-width="1"/>
<rect x="70.39" y="199.15" width="1.9" height="1.9" fill="#9b1535" stroke="none" stroke-width="1"/>
<rect x="73.49" y="199.15" width="1.9" height="1.9" fill="#9b1535" stroke="none" stroke-width="1"/>
<rect x="67.29" y="204.75" width="1.9" height="1.9" fill="#8c93a3" stroke="none" stroke-width="1"/>
<rect x="70.39" y="204.75" width="1.9" height="1.9" fill="#8c93a3" stroke="none" stroke-width="1"/>
<rect x="73.49" y="204.75" width="1.9" height="1.9" fill="#8c93a3" stroke="none" stroke-width="1"/>
<rect x="85.56" y="204.75" width="1.9" height="1.9" fill="#111" stroke="none" stroke-width="1"/>
<rect x="88.66" y="204.75" width="1.9" height="1.9" fill="#111" stroke="none" stroke-width="1"/>
<rect x="102.28" y="204.75" width="1.9" height="1.9" fill="#111" stroke="none" stroke-width="1"/>
<rect x="105.38" y="204.75" width="1.9" height="1.9" fill="#111" stroke="none" stroke-width="1"/>
<rect x="117.45" y="187.75" width="1.9" height="1.9" fill="#111" stroke="none" stroke-width="1"/>
<rect x="120.55" y="187.75" width="1.9" height="1.9" fill="#111" stroke="none" stroke-width="1"/>
<rect x="123.65" y="187.75" width="1.9" height="1.9" fill="#111" stroke="none" stroke-width="1"/>
<rect x="117.45" y="193.55" width="1.9" height="1.9" fill="#3a50a0" stroke="none" stroke-width="1"/>
<rect x="120.55" y="193.55" width="1.9" height="1.9" fill="#3a50a0" stroke="none" stroke-width="1"/>
<rect x="123.65" y="193.55" width="1.9" height="1.9" fill="#3a50a0" stroke="none" stroke-width="1"/>
<rect x="117.45" y="199.15" width="1.9" height="1.9" fill="#9b1535" stroke="none" stroke-width="1"/>
<rect x="120.55" y="199.15" width="1.9" height="1.9" fill="#9b1535" stroke="none" stroke-width="1"/>
<rect x="123.65" y="199.15" width="1.9" height="1.9" fill="#9b1535" stroke="none" stroke-width="1"/>
<rect x="117.45" y="204.75" width="1.9" height="1.9" fill="#8c93a3" stroke="none" stroke-width="1"/>
<rect x="120.55" y="204.75" width="1.9" height="1.9" fill="#8c93a3" stroke="none" stroke-width="1"/>
<rect x="123.65" y="204.75" width="1.9" height="1.9" fill="#8c93a3" stroke="none" stroke-width="1"/>
<rect x="137.27" y="204.75" width="1.9" height="1.9" fill="#111" stroke="none" stroke-width="1"/>
<rect x="150.89" y="193.55" width="1.9" height="1.9" fill="#3a50a0" stroke="none" stroke-width="1"/>
<rect x="153.99" y="193.55" width="1.9" height="1.9" fill="#3a50a0" stroke="none" stroke-width="1"/>
<rect x="157.09" y="193.55" width="1.9" height="1.9" fill="#3a50a0" stroke="none" stroke-width="1"/>
<rect x="150.89" y="199.15" width="1.9" height="1.9" fill="#9b1535" stroke="none" stroke-width="1"/>
<rect x="153.99" y="199.15" width="1.9" height="1.9" fill="#9b1535" stroke="none" stroke-width="1"/>
<rect x="157.09" y="199.15" width="1.9" height="1.9" fill="#9b1535" stroke="none" stroke-width="1"/>
<rect x="150.89" y="204.75" width="1.9" height="1.9" fill="#8c93a3" stroke="none" stroke-width="1"/>
<rect x="153.99" y="204.75" width="1.9" height="1.9" fill="#8c93a3" stroke="none" stroke-width="1"/>
<rect x="157.09" y="204.75" width="1.9" height="1.9" fill="#8c93a3" stroke="none" stroke-width="1"/>
<text transform="translate(181.6 187) scale(0.9 1)" font-size="13.3" fill="#000" stroke="#000" stroke-width="0.55">F</text>
<line x1="201" y1="204.4" x2="201" y2="294.3" stroke="#222" stroke-width="1"/>
<line x1="198.8" y1="293.8" x2="201" y2="293.8" stroke="#222" stroke-width="1"/>
<text x="197.7" y="296.62" font-size="7" text-anchor="end" fill="#222">0</text>
<line x1="198.8" y1="271.45" x2="201" y2="271.45" stroke="#222" stroke-width="1"/>
<text x="197.7" y="274.27" font-size="7" text-anchor="end" fill="#222">1</text>
<line x1="198.8" y1="249.1" x2="201" y2="249.1" stroke="#222" stroke-width="1"/>
<text x="197.7" y="251.92" font-size="7" text-anchor="end" fill="#222">2</text>
<line x1="198.8" y1="226.75" x2="201" y2="226.75" stroke="#222" stroke-width="1"/>
<text x="197.7" y="229.57" font-size="7" text-anchor="end" fill="#222">3</text>
<line x1="198.8" y1="204.4" x2="201" y2="204.4" stroke="#222" stroke-width="1"/>
<text x="197.7" y="207.22" font-size="7" text-anchor="end" fill="#222">4</text>
<line x1="200.5" y1="293.8" x2="336" y2="293.8" stroke="#222" stroke-width="1"/>
<line x1="209.6" y1="293.8" x2="209.6" y2="296" stroke="#222" stroke-width="1"/>
<line x1="226.32" y1="293.8" x2="226.32" y2="296" stroke="#222" stroke-width="1"/>
<line x1="243.04" y1="293.8" x2="243.04" y2="296" stroke="#222" stroke-width="1"/>
<line x1="259.76" y1="293.8" x2="259.76" y2="296" stroke="#222" stroke-width="1"/>
<line x1="276.48" y1="293.8" x2="276.48" y2="296" stroke="#222" stroke-width="1"/>
<line x1="293.2" y1="293.8" x2="293.2" y2="296" stroke="#222" stroke-width="1"/>
<line x1="309.92" y1="293.8" x2="309.92" y2="296" stroke="#222" stroke-width="1"/>
<line x1="326.64" y1="293.8" x2="326.64" y2="296" stroke="#222" stroke-width="1"/>
<text transform="translate(211.2 304.6) rotate(-45) scale(0.86 1)" font-size="7" text-anchor="end" fill="#222" stroke="#222" stroke-width="0.12">Untreated</text>
<text transform="translate(227.92 304.6) rotate(-45) scale(0.86 1)" font-size="7" text-anchor="end" fill="#222" stroke="#222" stroke-width="0.12">Control BiTE</text>
<text transform="translate(244.64 304.6) rotate(-45) scale(0.86 1)" font-size="7" text-anchor="end" fill="#222" stroke="#222" stroke-width="0.12">FAP BiTE</text>
<text transform="translate(261.36 304.6) rotate(-45) scale(0.86 1)" font-size="7" text-anchor="end" fill="#222" stroke="#222" stroke-width="0.12">EnAd</text>
<text transform="translate(278.08 304.6) rotate(-45) scale(0.86 1)" font-size="7" text-anchor="end" fill="#222" stroke="#222" stroke-width="0.12">EnAd-CMV-control-BiTE</text>
<text transform="translate(294.8 304.6) rotate(-45) scale(0.86 1)" font-size="7" text-anchor="end" fill="#222" stroke="#222" stroke-width="0.12">EnAd-CMV-FAP-BiTE</text>
<text transform="translate(311.52 304.6) rotate(-45) scale(0.86 1)" font-size="7" text-anchor="end" fill="#222" stroke="#222" stroke-width="0.12">EnAd-SA-control-BiTE</text>
<text transform="translate(328.24 304.6) rotate(-45) scale(0.86 1)" font-size="7" text-anchor="end" fill="#222" stroke="#222" stroke-width="0.12">EnAd-SA-FAP-BiTE</text>
<text x="188.9" y="248.4" font-size="7.5" text-anchor="middle" fill="#222" transform="rotate(-90 188.9 248.4)">CD3<tspan font-size="5" dy="-2.5">+</tspan><tspan dy="2.5"> cells (fold change)</tspan></text>
<circle cx="206.6" cy="270.5" r="1.9" fill="#26306e"/>
<circle cx="212.6" cy="271" r="1.9" fill="#3a50a0"/>
<circle cx="209.6" cy="268" r="1.9" fill="#26306e"/>
<circle cx="207.6" cy="276" r="1.9" fill="#111"/>
<line x1="209.6" y1="265.3" x2="209.6" y2="277.7" stroke="#111" stroke-width="1.2"/>
<line x1="206.6" y1="265.3" x2="212.6" y2="265.3" stroke="#111" stroke-width="1.2"/>
<line x1="206.6" y1="277.7" x2="212.6" y2="277.7" stroke="#111" stroke-width="1.2"/>
<polygon points="207.4,266.62 211.8,266.62 209.6,263.1" fill="#111"/>
<polygon points="207.4,276.38 211.8,276.38 209.6,279.9" fill="#111"/>
<circle cx="208.1" cy="269" r="1.9" fill="#3a50a0"/>
<circle cx="211.1" cy="269.5" r="1.9" fill="#26306e"/>
<line x1="203.85" y1="271" x2="215.35" y2="271" stroke="#9b1535" stroke-width="1.3"/>
<line x1="203.85" y1="272" x2="215.35" y2="272" stroke="#26306e" stroke-width="1.3"/>
<circle cx="207.1" cy="273.5" r="1.9" fill="#3a50a0"/>
<circle cx="211.6" cy="274" r="1.9" fill="#26306e"/>
<circle cx="209.6" cy="275.3" r="1.9" fill="#3a50a0"/>
<circle cx="208.6" cy="271.5" r="1.9" fill="#26306e"/>
<circle cx="223.32" cy="268.5" r="1.9" fill="#3a50a0"/>
<circle cx="229.32" cy="268.5" r="1.9" fill="#26306e"/>
<circle cx="227.32" cy="271.5" r="1.9" fill="#3a50a0"/>
<circle cx="224.82" cy="272.5" r="1.9" fill="#26306e"/>
<line x1="226.32" y1="254.5" x2="226.32" y2="273.5" stroke="#111" stroke-width="1.2"/>
<line x1="223.32" y1="254.5" x2="229.32" y2="254.5" stroke="#111" stroke-width="1.2"/>
<line x1="223.32" y1="273.5" x2="229.32" y2="273.5" stroke="#111" stroke-width="1.2"/>
<polygon points="224.12,255.82 228.52,255.82 226.32,252.3" fill="#111"/>
<line x1="220.57" y1="264.3" x2="232.07" y2="264.3" stroke="#111" stroke-width="1.3"/>
<circle cx="224.32" cy="266" r="1.9" fill="#26306e"/>
<circle cx="228.32" cy="266.5" r="1.9" fill="#9b1535"/>
<circle cx="226.32" cy="268" r="1.9" fill="#3a50a0"/>
<line x1="220.57" y1="269.6" x2="232.07" y2="269.6" stroke="#26306e" stroke-width="1.3"/>
<circle cx="228.82" cy="271" r="1.9" fill="#26306e"/>
<circle cx="223.82" cy="270.5" r="1.9" fill="#9a9aa8"/>
<line x1="220.57" y1="273.2" x2="232.07" y2="273.2" stroke="#111" stroke-width="1.3"/>
<circle cx="226.32" cy="273.8" r="1.9" fill="#111"/>
<circle cx="240.54" cy="251.5" r="1.9" fill="#3a50a0"/>
<circle cx="245.54" cy="252.5" r="1.9" fill="#26306e"/>
<circle cx="243.04" cy="253.5" r="1.9" fill="#3a50a0"/>
<circle cx="240.04" cy="257" r="1.9" fill="#26306e"/>
<circle cx="246.04" cy="257.5" r="1.9" fill="#3a50a0"/>
<circle cx="244.04" cy="246.5" r="1.9" fill="#111"/>
<line x1="243.04" y1="229.2" x2="243.04" y2="259" stroke="#111" stroke-width="1.2"/>
<line x1="240.04" y1="229.2" x2="246.04" y2="229.2" stroke="#111" stroke-width="1.2"/>
<line x1="240.04" y1="259" x2="246.04" y2="259" stroke="#111" stroke-width="1.2"/>
<circle cx="244.54" cy="234.8" r="1.9" fill="#111"/>
<line x1="237.29" y1="243.5" x2="248.79" y2="243.5" stroke="#3a50a0" stroke-width="1.3"/>
<line x1="237.29" y1="250" x2="248.79" y2="250" stroke="#111" stroke-width="1.3"/>
<polygon points="239.34,256.32 243.74,256.32 241.54,252.8" fill="#26306e"/>
<polygon points="242.34,256.82 246.74,256.82 244.54,253.3" fill="#3a50a0"/>
<circle cx="243.04" cy="256.5" r="1.9" fill="#26306e"/>
<line x1="237.29" y1="259.5" x2="248.79" y2="259.5" stroke="#9b1535" stroke-width="1.3"/>
<circle cx="241.54" cy="259" r="1.9" fill="#9b1535"/>
<circle cx="245.04" cy="259.5" r="1.9" fill="#111"/>
<circle cx="245.54" cy="263.5" r="1.9" fill="#9a9aa8"/>
<circle cx="243.04" cy="266.8" r="1.9" fill="#9b1535"/>
<circle cx="256.76" cy="271" r="1.9" fill="#3a50a0"/>
<circle cx="262.76" cy="274.5" r="1.9" fill="#26306e"/>
<circle cx="258.76" cy="276" r="1.9" fill="#3a50a0"/>
<line x1="259.76" y1="265.2" x2="259.76" y2="277" stroke="#111" stroke-width="1.2"/>
<line x1="256.76" y1="265.2" x2="262.76" y2="265.2" stroke="#111" stroke-width="1.2"/>
<line x1="256.76" y1="277" x2="262.76" y2="277" stroke="#111" stroke-width="1.2"/>
<polygon points="257.56,266.52 261.96,266.52 259.76,263" fill="#111"/>
<circle cx="259.76" cy="270" r="1.9" fill="#9b1535"/>
<line x1="254.01" y1="272" x2="265.51" y2="272" stroke="#26306e" stroke-width="1.3"/>
<circle cx="257.76" cy="272.5" r="1.9" fill="#26306e"/>
<circle cx="261.76" cy="273" r="1.9" fill="#3a50a0"/>
<line x1="254.01" y1="274.5" x2="265.51" y2="274.5" stroke="#3a50a0" stroke-width="1.3"/>
<circle cx="259.76" cy="275" r="1.9" fill="#26306e"/>
<polygon points="257.56,275.68 261.96,275.68 259.76,279.2" fill="#111"/>
<circle cx="273.48" cy="272.5" r="1.9" fill="#3a50a0"/>
<circle cx="278.98" cy="272.5" r="1.9" fill="#26306e"/>
<circle cx="276.48" cy="277" r="1.9" fill="#3a50a0"/>
<polygon points="272.78,270.12 277.18,270.12 274.98,266.6" fill="#9b1535"/>
<polygon points="275.78,270.52 280.18,270.52 277.98,267" fill="#3a50a0"/>
<line x1="270.73" y1="270.5" x2="282.23" y2="270.5" stroke="#9b1535" stroke-width="1.3"/>
<circle cx="275.48" cy="274.3" r="1.9" fill="#26306e"/>
<circle cx="277.48" cy="275.3" r="1.9" fill="#111"/>
<circle cx="276.48" cy="273.5" r="1.9" fill="#26306e"/>
<line x1="270.73" y1="278.6" x2="282.23" y2="278.6" stroke="#9a9aa8" stroke-width="1.3"/>
<line x1="276.48" y1="271" x2="276.48" y2="283.3" stroke="#111" stroke-width="1.2"/>
<line x1="273.48" y1="271" x2="279.48" y2="271" stroke="#111" stroke-width="1.2"/>
<line x1="273.48" y1="283.3" x2="279.48" y2="283.3" stroke="#111" stroke-width="1.2"/>
<polygon points="274.28,281.98 278.68,281.98 276.48,285.5" fill="#111"/>
<circle cx="290.2" cy="255.5" r="1.9" fill="#3a50a0"/>
<circle cx="296.2" cy="256" r="1.9" fill="#26306e"/>
<circle cx="293.2" cy="254.5" r="1.9" fill="#3a50a0"/>
<circle cx="291.7" cy="259.5" r="1.9" fill="#26306e"/>
<circle cx="294.7" cy="261" r="1.9" fill="#3a50a0"/>
<line x1="293.2" y1="223.4" x2="293.2" y2="250" stroke="#111" stroke-width="1.2"/>
<line x1="290.2" y1="223.4" x2="296.2" y2="223.4" stroke="#111" stroke-width="1.2"/>
<line x1="290.2" y1="250" x2="296.2" y2="250" stroke="#111" stroke-width="1.2"/>
<polygon points="291,224.72 295.4,224.72 293.2,221.2" fill="#111"/>
<line x1="287.45" y1="236.8" x2="298.95" y2="236.8" stroke="#9a9aa8" stroke-width="1.3"/>
<line x1="287.45" y1="237.3" x2="298.95" y2="237.3" stroke="#111" stroke-width="1.3"/>
<circle cx="293.2" cy="240.2" r="1.9" fill="#111"/>
<circle cx="293.2" cy="247" r="1.9" fill="#111"/>
<polygon points="290,250.92 294.4,250.92 292.2,247.4" fill="#9b1535"/>
<line x1="287.45" y1="252.3" x2="298.95" y2="252.3" stroke="#9a9aa8" stroke-width="1.3"/>
<line x1="287.45" y1="255" x2="298.95" y2="255" stroke="#9a9aa8" stroke-width="1.3"/>
<polygon points="289,255.68 293.4,255.68 291.2,259.2" fill="#3a50a0"/>
<polygon points="293,256.68 297.4,256.68 295.2,260.2" fill="#3a50a0"/>
<polygon points="291,259.18 295.4,259.18 293.2,262.7" fill="#26306e"/>
<line x1="287.45" y1="258.5" x2="298.95" y2="258.5" stroke="#3a50a0" stroke-width="1.3"/>
<circle cx="306.92" cy="271" r="1.9" fill="#3a50a0"/>
<circle cx="312.92" cy="271.5" r="1.9" fill="#26306e"/>
<circle cx="310.92" cy="277" r="1.9" fill="#3a50a0"/>
<circle cx="308.42" cy="277.5" r="1.9" fill="#26306e"/>
<circle cx="309.92" cy="258.7" r="1.9" fill="#9b1535"/>
<line x1="304.17" y1="268" x2="315.67" y2="268" stroke="#111" stroke-width="1.3"/>
<line x1="309.92" y1="268" x2="309.92" y2="280" stroke="#111" stroke-width="1.2"/>
<line x1="306.92" y1="268" x2="312.92" y2="268" stroke="#111" stroke-width="1.2"/>
<line x1="306.92" y1="280" x2="312.92" y2="280" stroke="#111" stroke-width="1.2"/>
<circle cx="307.92" cy="272.5" r="1.9" fill="#26306e"/>
<circle cx="311.92" cy="273" r="1.9" fill="#3a50a0"/>
<circle cx="309.92" cy="275.5" r="1.9" fill="#26306e"/>
<line x1="304.17" y1="274.5" x2="315.67" y2="274.5" stroke="#26306e" stroke-width="1.3"/>
<polygon points="307.72,278.68 312.12,278.68 309.92,282.2" fill="#111"/>
<circle cx="323.64" cy="258.5" r="1.9" fill="#3a50a0"/>
<circle cx="329.64" cy="259" r="1.9" fill="#26306e"/>
<circle cx="324.14" cy="264" r="1.9" fill="#3a50a0"/>
<circle cx="329.14" cy="265.5" r="1.9" fill="#26306e"/>
<circle cx="326.64" cy="267" r="1.9" fill="#3a50a0"/>
<circle cx="325.64" cy="274" r="1.9" fill="#26306e"/>
<circle cx="328.64" cy="276" r="1.9" fill="#3a50a0"/>
<polygon points="322.94,252.52 327.34,252.52 325.14,249" fill="#9b1535"/>
<line x1="320.89" y1="253.5" x2="332.39" y2="253.5" stroke="#9b1535" stroke-width="1.3"/>
<line x1="320.89" y1="254.3" x2="332.39" y2="254.3" stroke="#3a50a0" stroke-width="1.3"/>
<polygon points="322.94,256.18 327.34,256.18 325.14,259.7" fill="#3a50a0"/>
<polygon points="325.94,258.68 330.34,258.68 328.14,262.2" fill="#3a50a0"/>
<polygon points="324.44,262.18 328.84,262.18 326.64,265.7" fill="#3a50a0"/>
<line x1="320.89" y1="261.5" x2="332.39" y2="261.5" stroke="#111" stroke-width="1.3"/>
<polygon points="324.44,271.32 328.84,271.32 326.64,267.8" fill="#111"/>
<line x1="326.64" y1="270" x2="326.64" y2="283" stroke="#111" stroke-width="1.2"/>
<line x1="323.64" y1="270" x2="329.64" y2="270" stroke="#111" stroke-width="1.2"/>
<line x1="323.64" y1="283" x2="329.64" y2="283" stroke="#111" stroke-width="1.2"/>
<line x1="320.89" y1="276" x2="332.39" y2="276" stroke="#111" stroke-width="1.3"/>
<polygon points="324.44,281.68 328.84,281.68 326.64,285.2" fill="#111"/>
<rect x="242.09" y="185.85" width="1.9" height="1.9" fill="#111" stroke="none" stroke-width="1"/>
<rect x="238.99" y="191.85" width="1.9" height="1.9" fill="#3a50a0" stroke="none" stroke-width="1"/>
<rect x="242.09" y="191.85" width="1.9" height="1.9" fill="#3a50a0" stroke="none" stroke-width="1"/>
<rect x="245.19" y="191.85" width="1.9" height="1.9" fill="#3a50a0" stroke="none" stroke-width="1"/>
<rect x="238.99" y="197.25" width="1.9" height="1.9" fill="#8c93a3" stroke="none" stroke-width="1"/>
<rect x="242.09" y="197.25" width="1.9" height="1.9" fill="#8c93a3" stroke="none" stroke-width="1"/>
<rect x="245.19" y="197.25" width="1.9" height="1.9" fill="#8c93a3" stroke="none" stroke-width="1"/>
<rect x="290.7" y="181.85" width="1.9" height="1.9" fill="#26306e" stroke="none" stroke-width="1"/>
<rect x="293.8" y="181.85" width="1.9" height="1.9" fill="#26306e" stroke="none" stroke-width="1"/>
<rect x="290.7" y="187.35" width="1.9" height="1.9" fill="#3a50a0" stroke="none" stroke-width="1"/>
<rect x="293.8" y="187.35" width="1.9" height="1.9" fill="#3a50a0" stroke="none" stroke-width="1"/>
<rect x="292.25" y="192.95" width="1.9" height="1.9" fill="#9b1535" stroke="none" stroke-width="1"/>
<rect x="289.15" y="197.95" width="1.9" height="1.9" fill="#8c93a3" stroke="none" stroke-width="1"/>
<rect x="292.25" y="197.95" width="1.9" height="1.9" fill="#8c93a3" stroke="none" stroke-width="1"/>
<rect x="295.35" y="197.95" width="1.9" height="1.9" fill="#8c93a3" stroke="none" stroke-width="1"/>
<rect x="325.69" y="192.25" width="1.9" height="1.9" fill="#26306e" stroke="none" stroke-width="1"/>
<rect x="324.14" y="197.45" width="1.9" height="1.9" fill="#9b1535" stroke="none" stroke-width="1"/>
<rect x="327.24" y="197.45" width="1.9" height="1.9" fill="#9b1535" stroke="none" stroke-width="1"/>
<text transform="translate(350.9 186.8) scale(0.9 1)" font-size="13.3" fill="#000" stroke="#000" stroke-width="0.55">G</text>
<line x1="380.7" y1="201" x2="380.7" y2="293.8" stroke="#222" stroke-width="1"/>
<line x1="378.5" y1="293.3" x2="380.7" y2="293.3" stroke="#222" stroke-width="1"/>
<text x="377.4" y="296.12" font-size="7" text-anchor="end" fill="#222">0</text>
<line x1="378.5" y1="270.23" x2="380.7" y2="270.23" stroke="#222" stroke-width="1"/>
<text x="377.4" y="273.05" font-size="7" text-anchor="end" fill="#222">50</text>
<line x1="378.5" y1="247.15" x2="380.7" y2="247.15" stroke="#222" stroke-width="1"/>
<text x="377.4" y="249.97" font-size="7" text-anchor="end" fill="#222">100</text>
<line x1="378.5" y1="224.07" x2="380.7" y2="224.07" stroke="#222" stroke-width="1"/>
<text x="377.4" y="226.9" font-size="7" text-anchor="end" fill="#222">150</text>
<line x1="378.5" y1="201" x2="380.7" y2="201" stroke="#222" stroke-width="1"/>
<text x="377.4" y="203.82" font-size="7" text-anchor="end" fill="#222">200</text>
<line x1="380.2" y1="293.3" x2="520" y2="293.3" stroke="#222" stroke-width="1"/>
<line x1="389.6" y1="293.3" x2="389.6" y2="295.5" stroke="#222" stroke-width="1"/>
<line x1="406.85" y1="293.3" x2="406.85" y2="295.5" stroke="#222" stroke-width="1"/>
<line x1="424.1" y1="293.3" x2="424.1" y2="295.5" stroke="#222" stroke-width="1"/>
<line x1="441.35" y1="293.3" x2="441.35" y2="295.5" stroke="#222" stroke-width="1"/>
<line x1="458.6" y1="293.3" x2="458.6" y2="295.5" stroke="#222" stroke-width="1"/>
<line x1="475.85" y1="293.3" x2="475.85" y2="295.5" stroke="#222" stroke-width="1"/>
<line x1="493.1" y1="293.3" x2="493.1" y2="295.5" stroke="#222" stroke-width="1"/>
<line x1="510.35" y1="293.3" x2="510.35" y2="295.5" stroke="#222" stroke-width="1"/>
<text transform="translate(391.2 303.4) rotate(-45) scale(0.86 1)" font-size="7" text-anchor="end" fill="#222" stroke="#222" stroke-width="0.12">Untreated</text>
<text transform="translate(408.45 303.4) rotate(-45) scale(0.86 1)" font-size="7" text-anchor="end" fill="#222" stroke="#222" stroke-width="0.12">Control BiTE</text>
<text transform="translate(425.7 303.4) rotate(-45) scale(0.86 1)" font-size="7" text-anchor="end" fill="#222" stroke="#222" stroke-width="0.12">FAP BiTE</text>
<text transform="translate(442.95 303.4) rotate(-45) scale(0.86 1)" font-size="7" text-anchor="end" fill="#222" stroke="#222" stroke-width="0.12">EnAd</text>
<text transform="translate(460.2 303.4) rotate(-45) scale(0.86 1)" font-size="7" text-anchor="end" fill="#222" stroke="#222" stroke-width="0.12">EnAd-CMV-control-BiTE</text>
<text transform="translate(477.45 303.4) rotate(-45) scale(0.86 1)" font-size="7" text-anchor="end" fill="#222" stroke="#222" stroke-width="0.12">EnAd-CMV-FAP-BiTE</text>
<text transform="translate(494.7 303.4) rotate(-45) scale(0.86 1)" font-size="7" text-anchor="end" fill="#222" stroke="#222" stroke-width="0.12">EnAd-SA-control-BiTE</text>
<text transform="translate(511.95 303.4) rotate(-45) scale(0.86 1)" font-size="7" text-anchor="end" fill="#222" stroke="#222" stroke-width="0.12">EnAd-SA-FAP-BiTE</text>
<text x="359.9" y="247.3" font-size="7.9" text-anchor="middle" fill="#222" transform="rotate(-90 359.9 247.3)">Residual FAP<tspan font-size="5" dy="-2.5">+</tspan><tspan dy="2.5"> cells (%)</tspan></text>
<circle cx="389.3" cy="226" r="2" fill="#9b1535"/>
<circle cx="389.3" cy="235.8" r="2" fill="#7f98c0"/>
<circle cx="386.4" cy="239.5" r="2" fill="#3a50a0"/>
<circle cx="390.4" cy="241.2" r="2" fill="#3a50a0"/>
<circle cx="392.2" cy="241.2" r="2" fill="#111"/>
<line x1="383.85" y1="247.1" x2="395.35" y2="247.1" stroke="#111" stroke-width="1.3"/>
<circle cx="388.1" cy="249.5" r="2" fill="#111"/>
<circle cx="391.1" cy="250.5" r="2" fill="#111"/>
<circle cx="389.1" cy="252" r="2" fill="#111"/>
<circle cx="385.9" cy="257.5" r="2" fill="#9b1535"/>
<circle cx="391.8" cy="258.5" r="2" fill="#9b1535"/>
<circle cx="389.3" cy="258.9" r="2" fill="#3a50a0"/>
<line x1="406.85" y1="212.6" x2="406.85" y2="260.5" stroke="#111" stroke-width="1.2"/>
<line x1="403.85" y1="212.6" x2="409.85" y2="212.6" stroke="#111" stroke-width="1.2"/>
<line x1="403.85" y1="260.5" x2="409.85" y2="260.5" stroke="#111" stroke-width="1.2"/>
<circle cx="406.85" cy="216.4" r="2" fill="#111"/>
<circle cx="407.35" cy="229.4" r="2" fill="#111"/>
<circle cx="403.65" cy="231.6" r="2" fill="#9b1535"/>
<circle cx="409.55" cy="231.1" r="2" fill="#3a50a0"/>
<line x1="401.1" y1="237" x2="412.6" y2="237" stroke="#4a8a8a" stroke-width="1.3"/>
<line x1="401.1" y1="238.9" x2="412.6" y2="238.9" stroke="#9b1535" stroke-width="1.3"/>
<line x1="401.1" y1="240.7" x2="412.6" y2="240.7" stroke="#9a9aa8" stroke-width="1.3"/>
<line x1="401.1" y1="242.9" x2="412.6" y2="242.9" stroke="#111" stroke-width="1.3"/>
<circle cx="410.35" cy="245.4" r="2" fill="#9b1535"/>
<circle cx="406.85" cy="248.4" r="2" fill="#3a50a0"/>
<circle cx="406.85" cy="263.9" r="2" fill="#111"/>
<circle cx="424.1" cy="279.6" r="2" fill="#9b1535"/>
<line x1="418.35" y1="285" x2="429.85" y2="285" stroke="#111" stroke-width="1.3"/>
<line x1="418.35" y1="287.5" x2="429.85" y2="287.5" stroke="#9b1535" stroke-width="1.3"/>
<circle cx="424.1" cy="288" r="2" fill="#9b1535"/>
<circle cx="421.6" cy="291.8" r="2" fill="#111"/>
<circle cx="424.6" cy="292.2" r="2" fill="#26306e"/>
<circle cx="427.1" cy="291.8" r="2" fill="#111"/>
<circle cx="441.35" cy="237" r="2" fill="#9a9aa8"/>
<line x1="435.6" y1="243.3" x2="447.1" y2="243.3" stroke="#9a9aa8" stroke-width="1.3"/>
<circle cx="441.05" cy="248.6" r="2" fill="#9b1535"/>
<circle cx="439.15" cy="250" r="2" fill="#9a9aa8"/>
<circle cx="442.35" cy="253.1" r="2" fill="#3a50a0"/>
<circle cx="443.65" cy="254.5" r="2" fill="#3a50a0"/>
<line x1="435.6" y1="257.1" x2="447.1" y2="257.1" stroke="#111" stroke-width="1.3"/>
<circle cx="438.85" cy="261" r="2" fill="#9b1535"/>
<circle cx="443.85" cy="261.5" r="2" fill="#111"/>
<circle cx="441.35" cy="263.6" r="2" fill="#111"/>
<line x1="435.6" y1="268.2" x2="447.1" y2="268.2" stroke="#111" stroke-width="1.3"/>
<circle cx="441.35" cy="270.5" r="2" fill="#111"/>
<circle cx="455.6" cy="245" r="2" fill="#3a50a0"/>
<circle cx="459.6" cy="244.5" r="2" fill="#3a50a0"/>
<circle cx="462.1" cy="245.2" r="2" fill="#3a50a0"/>
<line x1="452.85" y1="247.3" x2="464.35" y2="247.3" stroke="#26306e" stroke-width="1.3"/>
<line x1="452.85" y1="249.9" x2="464.35" y2="249.9" stroke="#3a50a0" stroke-width="1.3"/>
<circle cx="458.1" cy="252.5" r="2" fill="#9a9aa8"/>
<circle cx="461.4" cy="255.8" r="2" fill="#9b1535"/>
<circle cx="456.3" cy="257" r="2" fill="#3a50a0"/>
<circle cx="458.6" cy="259.7" r="2" fill="#9b1535"/>
<line x1="452.85" y1="262.7" x2="464.35" y2="262.7" stroke="#111" stroke-width="1.3"/>
<circle cx="455.8" cy="270" r="2" fill="#111"/>
<circle cx="458.6" cy="270.5" r="2" fill="#9b1535"/>
<circle cx="460.4" cy="269.2" r="2" fill="#111"/>
<circle cx="462.1" cy="271" r="2" fill="#111"/>
<circle cx="475.85" cy="285.9" r="2" fill="#9a9aa8"/>
<line x1="470.1" y1="288.7" x2="481.6" y2="288.7" stroke="#9b1535" stroke-width="1.3"/>
<line x1="470.1" y1="290.4" x2="481.6" y2="290.4" stroke="#111" stroke-width="1.3"/>
<circle cx="473.35" cy="292.2" r="2" fill="#111"/>
<circle cx="476.35" cy="292.4" r="2" fill="#111"/>
<circle cx="478.85" cy="292.2" r="2" fill="#111"/>
<circle cx="489.6" cy="244.6" r="2" fill="#3a50a0"/>
<circle cx="495.9" cy="244.6" r="2" fill="#3a50a0"/>
<line x1="487.35" y1="246.6" x2="498.85" y2="246.6" stroke="#3a50a0" stroke-width="1.3"/>
<polygon points="488.9,247.88 493.3,247.88 491.1,251.4" fill="#3a50a0"/>
<polygon points="491.9,249.88 496.3,249.88 494.1,253.4" fill="#3a50a0"/>
<line x1="493.1" y1="246.6" x2="493.1" y2="275.4" stroke="#111" stroke-width="1.2"/>
<line x1="490.1" y1="246.6" x2="496.1" y2="246.6" stroke="#111" stroke-width="1.2"/>
<line x1="490.1" y1="275.4" x2="496.1" y2="275.4" stroke="#111" stroke-width="1.2"/>
<circle cx="493.1" cy="256.4" r="2" fill="#9b1535"/>
<line x1="487.35" y1="261.6" x2="498.85" y2="261.6" stroke="#111" stroke-width="1.3"/>
<line x1="487.35" y1="264.3" x2="498.85" y2="264.3" stroke="#111" stroke-width="1.3"/>
<circle cx="491.1" cy="268.5" r="2" fill="#111"/>
<circle cx="494.6" cy="269.5" r="2" fill="#9b1535"/>
<circle cx="493.1" cy="271" r="2" fill="#111"/>
<circle cx="493.1" cy="275.4" r="2" fill="#111"/>
<circle cx="507.85" cy="261" r="2" fill="#111"/>
<line x1="504.6" y1="263" x2="516.1" y2="263" stroke="#111" stroke-width="1.3"/>
<line x1="510.35" y1="263" x2="510.35" y2="272.8" stroke="#111" stroke-width="1.2"/>
<line x1="507.35" y1="263" x2="513.35" y2="263" stroke="#111" stroke-width="1.2"/>
<line x1="507.35" y1="272.8" x2="513.35" y2="272.8" stroke="#111" stroke-width="1.2"/>
<line x1="504.6" y1="266.9" x2="516.1" y2="266.9" stroke="#111" stroke-width="1.3"/>
<circle cx="509.35" cy="272.8" r="2" fill="#111"/>
<circle cx="509.35" cy="285.9" r="2" fill="#9b1535"/>
<circle cx="511.85" cy="286.5" r="2" fill="#9b1535"/>
<line x1="504.6" y1="288.5" x2="516.1" y2="288.5" stroke="#9b1535" stroke-width="1.3"/>
<line x1="504.6" y1="289.2" x2="516.1" y2="289.2" stroke="#3a50a0" stroke-width="1.3"/>
<polygon points="506.65,292.42 511.05,292.42 508.85,288.9" fill="#3a50a0"/>
<polygon points="509.65,292.62 514.05,292.62 511.85,289.1" fill="#3a50a0"/>
<rect x="421.6" y="176.65" width="1.9" height="1.9" fill="#26306e" stroke="none" stroke-width="1"/>
<rect x="424.7" y="176.65" width="1.9" height="1.9" fill="#26306e" stroke="none" stroke-width="1"/>
<rect x="420.05" y="182.65" width="1.9" height="1.9" fill="#3a50a0" stroke="none" stroke-width="1"/>
<rect x="423.15" y="182.65" width="1.9" height="1.9" fill="#3a50a0" stroke="none" stroke-width="1"/>
<rect x="426.25" y="182.65" width="1.9" height="1.9" fill="#3a50a0" stroke="none" stroke-width="1"/>
<rect x="421.6" y="188.55" width="1.9" height="1.9" fill="#9b1535" stroke="none" stroke-width="1"/>
<rect x="424.7" y="188.55" width="1.9" height="1.9" fill="#9b1535" stroke="none" stroke-width="1"/>
<rect x="420.05" y="194.85" width="1.9" height="1.9" fill="#8c93a3" stroke="none" stroke-width="1"/>
<rect x="423.15" y="194.85" width="1.9" height="1.9" fill="#8c93a3" stroke="none" stroke-width="1"/>
<rect x="426.25" y="194.85" width="1.9" height="1.9" fill="#8c93a3" stroke="none" stroke-width="1"/>
<rect x="471.8" y="178.25" width="1.9" height="1.9" fill="#26306e" stroke="none" stroke-width="1"/>
<rect x="474.9" y="178.25" width="1.9" height="1.9" fill="#26306e" stroke="none" stroke-width="1"/>
<rect x="478" y="178.25" width="1.9" height="1.9" fill="#26306e" stroke="none" stroke-width="1"/>
<rect x="471.8" y="183.85" width="1.9" height="1.9" fill="#3a50a0" stroke="none" stroke-width="1"/>
<rect x="474.9" y="183.85" width="1.9" height="1.9" fill="#3a50a0" stroke="none" stroke-width="1"/>
<rect x="478" y="183.85" width="1.9" height="1.9" fill="#3a50a0" stroke="none" stroke-width="1"/>
<rect x="471.8" y="189.45" width="1.9" height="1.9" fill="#9b1535" stroke="none" stroke-width="1"/>
<rect x="474.9" y="189.45" width="1.9" height="1.9" fill="#9b1535" stroke="none" stroke-width="1"/>
<rect x="478" y="189.45" width="1.9" height="1.9" fill="#9b1535" stroke="none" stroke-width="1"/>
<rect x="471.8" y="195.55" width="1.9" height="1.9" fill="#8c93a3" stroke="none" stroke-width="1"/>
<rect x="474.9" y="195.55" width="1.9" height="1.9" fill="#8c93a3" stroke="none" stroke-width="1"/>
<rect x="478" y="195.55" width="1.9" height="1.9" fill="#8c93a3" stroke="none" stroke-width="1"/>
<rect x="492.15" y="195.55" width="1.9" height="1.9" fill="#8c93a3" stroke="none" stroke-width="1"/>
<rect x="506.3" y="184.55" width="1.9" height="1.9" fill="#3a50a0" stroke="none" stroke-width="1"/>
<rect x="509.4" y="184.55" width="1.9" height="1.9" fill="#3a50a0" stroke="none" stroke-width="1"/>
<rect x="512.5" y="184.55" width="1.9" height="1.9" fill="#3a50a0" stroke="none" stroke-width="1"/>
<rect x="506.3" y="190.45" width="1.9" height="1.9" fill="#9b1535" stroke="none" stroke-width="1"/>
<rect x="509.4" y="190.45" width="1.9" height="1.9" fill="#9b1535" stroke="none" stroke-width="1"/>
<rect x="512.5" y="190.45" width="1.9" height="1.9" fill="#9b1535" stroke="none" stroke-width="1"/>
<rect x="506.3" y="196.25" width="1.9" height="1.9" fill="#8c93a3" stroke="none" stroke-width="1"/>
<rect x="509.4" y="196.25" width="1.9" height="1.9" fill="#8c93a3" stroke="none" stroke-width="1"/>
<rect x="512.5" y="196.25" width="1.9" height="1.9" fill="#8c93a3" stroke="none" stroke-width="1"/>
<text transform="translate(0.3 372.7) scale(0.9 1)" font-size="13.3" fill="#000" stroke="#000" stroke-width="0.55">H</text>
<line x1="42.2" y1="379.75" x2="42.2" y2="470.45" stroke="#222" stroke-width="1"/>
<line x1="40" y1="379.75" x2="42.2" y2="379.75" stroke="#222" stroke-width="1"/>
<text transform="translate(38.9 381.69) scale(0.94 1)" font-size="6.5" text-anchor="end" fill="#222" stroke="#222" stroke-width="0.18">1,000</text>
<line x1="40" y1="402.3" x2="42.2" y2="402.3" stroke="#222" stroke-width="1"/>
<text transform="translate(38.9 404.24) scale(0.94 1)" font-size="6.5" text-anchor="end" fill="#222" stroke="#222" stroke-width="0.18">100</text>
<line x1="40" y1="424.85" x2="42.2" y2="424.85" stroke="#222" stroke-width="1"/>
<text transform="translate(38.9 426.79) scale(0.94 1)" font-size="6.5" text-anchor="end" fill="#222" stroke="#222" stroke-width="0.18">10</text>
<line x1="40" y1="447.4" x2="42.2" y2="447.4" stroke="#222" stroke-width="1"/>
<text transform="translate(38.9 449.34) scale(0.94 1)" font-size="6.5" text-anchor="end" fill="#222" stroke="#222" stroke-width="0.18">1</text>
<line x1="40" y1="469.95" x2="42.2" y2="469.95" stroke="#222" stroke-width="1"/>
<text transform="translate(38.9 471.89) scale(0.94 1)" font-size="6.5" text-anchor="end" fill="#222" stroke="#222" stroke-width="0.18">0.1</text>
<line x1="41.7" y1="469.95" x2="332" y2="469.95" stroke="#222" stroke-width="1"/>
<line x1="54.4" y1="469.95" x2="54.4" y2="472.15" stroke="#222" stroke-width="1"/>
<line x1="78.32" y1="469.95" x2="78.32" y2="472.15" stroke="#222" stroke-width="1"/>
<line x1="102.24" y1="469.95" x2="102.24" y2="472.15" stroke="#222" stroke-width="1"/>
<line x1="126.16" y1="469.95" x2="126.16" y2="472.15" stroke="#222" stroke-width="1"/>
<line x1="150.08" y1="469.95" x2="150.08" y2="472.15" stroke="#222" stroke-width="1"/>
<line x1="174" y1="469.95" x2="174" y2="472.15" stroke="#222" stroke-width="1"/>
<line x1="197.92" y1="469.95" x2="197.92" y2="472.15" stroke="#222" stroke-width="1"/>
<line x1="221.84" y1="469.95" x2="221.84" y2="472.15" stroke="#222" stroke-width="1"/>
<line x1="245.76" y1="469.95" x2="245.76" y2="472.15" stroke="#222" stroke-width="1"/>
<line x1="269.68" y1="469.95" x2="269.68" y2="472.15" stroke="#222" stroke-width="1"/>
<line x1="293.6" y1="469.95" x2="293.6" y2="472.15" stroke="#222" stroke-width="1"/>
<line x1="317.52" y1="469.95" x2="317.52" y2="472.15" stroke="#222" stroke-width="1"/>
<text x="56.2" y="478.8" font-size="6.6" text-anchor="end" fill="#222" transform="rotate(-45 56.2 478.8)" stroke="#222" stroke-width="0.35">IL17F</text>
<text x="80.12" y="478.8" font-size="6.6" text-anchor="end" fill="#222" transform="rotate(-45 80.12 478.8)" stroke="#222" stroke-width="0.35">IL22</text>
<text x="104.04" y="478.8" font-size="6.6" text-anchor="end" fill="#222" transform="rotate(-45 104.04 478.8)" stroke="#222" stroke-width="0.35">IFN&#947;</text>
<text x="127.96" y="478.8" font-size="6.6" text-anchor="end" fill="#222" transform="rotate(-45 127.96 478.8)" stroke="#222" stroke-width="0.35">IL17A</text>
<text x="151.88" y="478.8" font-size="6.6" text-anchor="end" fill="#222" transform="rotate(-45 151.88 478.8)" stroke="#222" stroke-width="0.35">IL10</text>
<text x="175.8" y="478.8" font-size="6.6" text-anchor="end" fill="#222" transform="rotate(-45 175.8 478.8)" stroke="#222" stroke-width="0.35">IL9</text>
<text x="199.72" y="478.8" font-size="6.6" text-anchor="end" fill="#222" transform="rotate(-45 199.72 478.8)" stroke="#222" stroke-width="0.35">TNF&#945;</text>
<text x="223.64" y="478.8" font-size="6.6" text-anchor="end" fill="#222" transform="rotate(-45 223.64 478.8)" stroke="#222" stroke-width="0.35">IL2</text>
<text x="247.56" y="478.8" font-size="6.6" text-anchor="end" fill="#222" transform="rotate(-45 247.56 478.8)" stroke="#222" stroke-width="0.35">IL4</text>
<text x="271.48" y="478.8" font-size="6.6" text-anchor="end" fill="#222" transform="rotate(-45 271.48 478.8)" stroke="#222" stroke-width="0.35">IL21</text>
<text x="295.4" y="478.8" font-size="6.6" text-anchor="end" fill="#222" transform="rotate(-45 295.4 478.8)" stroke="#222" stroke-width="0.35">IL13</text>
<text x="319.32" y="478.8" font-size="6.6" text-anchor="end" fill="#222" transform="rotate(-45 319.32 478.8)" stroke="#222" stroke-width="0.35">IL5</text>
<text x="10" y="427" font-size="7.5" text-anchor="middle" fill="#222" transform="rotate(-90 10 427)">Fold change</text>
<text x="19.6" y="424.6" font-size="7.5" text-anchor="middle" fill="#222" transform="rotate(-90 19.6 424.6)">(vs untreated)</text>
<line x1="42.2" y1="447.4" x2="332" y2="447.4" stroke="#333" stroke-width="0.8" stroke-dasharray="2,1.6"/>
<rect x="45" y="427.5" width="3.1" height="42.45" fill="#fff" stroke="#1a1a1a" stroke-width="1"/>
<rect x="50" y="393.8" width="3.4" height="76.15" fill="#fff" stroke="#b23a48" stroke-width="1"/>
<rect x="55.8" y="447.9" width="3.1" height="22.05" fill="#fff" stroke="#a8a8a8" stroke-width="1"/>
<rect x="60.4" y="402.7" width="3.4" height="67.25" fill="#fff" stroke="#2c3590" stroke-width="1"/>
<line x1="62.1" y1="398.6" x2="62.1" y2="402.2" stroke="#2c3590" stroke-width="1"/>
<line x1="60.6" y1="398.6" x2="63.6" y2="398.6" stroke="#2c3590" stroke-width="1"/>
<rect x="68.92" y="436.9" width="3.1" height="33.05" fill="#fff" stroke="#1a1a1a" stroke-width="1"/>
<rect x="73.92" y="413.3" width="3.4" height="56.65" fill="#fff" stroke="#b23a48" stroke-width="1"/>
<rect x="79.72" y="447.7" width="3.1" height="22.25" fill="#fff" stroke="#a8a8a8" stroke-width="1"/>
<rect x="84.32" y="411.5" width="3.4" height="58.45" fill="#fff" stroke="#2c3590" stroke-width="1"/>
<line x1="86.02" y1="408.4" x2="86.02" y2="411" stroke="#2c3590" stroke-width="1"/>
<line x1="84.52" y1="408.4" x2="87.52" y2="408.4" stroke="#2c3590" stroke-width="1"/>
<rect x="92.84" y="436.3" width="3.1" height="33.65" fill="#fff" stroke="#1a1a1a" stroke-width="1"/>
<rect x="97.84" y="412.2" width="3.4" height="57.75" fill="#fff" stroke="#b23a48" stroke-width="1"/>
<rect x="103.64" y="428.5" width="3.1" height="41.45" fill="#fff" stroke="#a8a8a8" stroke-width="1"/>
<rect x="108.24" y="413.5" width="3.4" height="56.45" fill="#fff" stroke="#2c3590" stroke-width="1"/>
<line x1="109.94" y1="410.8" x2="109.94" y2="413" stroke="#2c3590" stroke-width="1"/>
<line x1="108.44" y1="410.8" x2="111.44" y2="410.8" stroke="#2c3590" stroke-width="1"/>
<rect x="116.76" y="440.1" width="3.1" height="29.85" fill="#fff" stroke="#1a1a1a" stroke-width="1"/>
<rect x="121.76" y="409.3" width="3.4" height="60.65" fill="#fff" stroke="#b23a48" stroke-width="1"/>
<rect x="127.56" y="447.8" width="3.1" height="22.15" fill="#fff" stroke="#a8a8a8" stroke-width="1"/>
<rect x="132.16" y="415.5" width="3.4" height="54.45" fill="#fff" stroke="#2c3590" stroke-width="1"/>
<line x1="133.86" y1="412.5" x2="133.86" y2="415" stroke="#2c3590" stroke-width="1"/>
<line x1="132.36" y1="412.5" x2="135.36" y2="412.5" stroke="#2c3590" stroke-width="1"/>
<rect x="140.68" y="447.8" width="3.1" height="22.15" fill="#fff" stroke="#1a1a1a" stroke-width="1"/>
<rect x="145.68" y="434.9" width="3.4" height="35.05" fill="#fff" stroke="#b23a48" stroke-width="1"/>
<rect x="151.48" y="437.6" width="3.1" height="32.35" fill="#fff" stroke="#a8a8a8" stroke-width="1"/>
<rect x="156.08" y="422.5" width="3.4" height="47.45" fill="#fff" stroke="#2c3590" stroke-width="1"/>
<line x1="157.78" y1="418.5" x2="157.78" y2="422" stroke="#2c3590" stroke-width="1"/>
<line x1="156.28" y1="418.5" x2="159.28" y2="418.5" stroke="#2c3590" stroke-width="1"/>
<rect x="164.6" y="441.5" width="3.1" height="28.45" fill="#fff" stroke="#1a1a1a" stroke-width="1"/>
<rect x="169.6" y="436.8" width="3.4" height="33.15" fill="#fff" stroke="#b23a48" stroke-width="1"/>
<rect x="175.4" y="446.8" width="3.1" height="23.15" fill="#fff" stroke="#a8a8a8" stroke-width="1"/>
<rect x="180" y="432.5" width="3.4" height="37.45" fill="#fff" stroke="#2c3590" stroke-width="1"/>
<line x1="181.7" y1="427.7" x2="181.7" y2="432" stroke="#2c3590" stroke-width="1"/>
<line x1="180.2" y1="427.7" x2="183.2" y2="427.7" stroke="#2c3590" stroke-width="1"/>
<rect x="188.52" y="446.8" width="3.1" height="23.15" fill="#fff" stroke="#1a1a1a" stroke-width="1"/>
<rect x="193.52" y="432.5" width="3.4" height="37.45" fill="#fff" stroke="#b23a48" stroke-width="1"/>
<rect x="199.32" y="447.8" width="3.1" height="22.15" fill="#fff" stroke="#a8a8a8" stroke-width="1"/>
<rect x="203.92" y="435.3" width="3.4" height="34.65" fill="#fff" stroke="#2c3590" stroke-width="1"/>
<line x1="205.62" y1="431" x2="205.62" y2="434.8" stroke="#2c3590" stroke-width="1"/>
<line x1="204.12" y1="431" x2="207.12" y2="431" stroke="#2c3590" stroke-width="1"/>
<rect x="212.44" y="448.2" width="3.1" height="21.75" fill="#fff" stroke="#1a1a1a" stroke-width="1"/>
<rect x="217.44" y="447.8" width="3.4" height="22.15" fill="#fff" stroke="#b23a48" stroke-width="1"/>
<rect x="223.24" y="447.8" width="3.1" height="22.15" fill="#fff" stroke="#a8a8a8" stroke-width="1"/>
<rect x="227.84" y="446.8" width="3.4" height="23.15" fill="#fff" stroke="#2c3590" stroke-width="1"/>
<line x1="229.54" y1="444.4" x2="229.54" y2="446.3" stroke="#2c3590" stroke-width="1"/>
<line x1="228.04" y1="444.4" x2="231.04" y2="444.4" stroke="#2c3590" stroke-width="1"/>
<rect x="236.36" y="449.3" width="3.1" height="20.65" fill="#fff" stroke="#1a1a1a" stroke-width="1"/>
<rect x="241.36" y="448.8" width="3.4" height="21.15" fill="#fff" stroke="#b23a48" stroke-width="1"/>
<rect x="247.16" y="448.2" width="3.1" height="21.75" fill="#fff" stroke="#a8a8a8" stroke-width="1"/>
<rect x="251.76" y="448.8" width="3.4" height="21.15" fill="#fff" stroke="#2c3590" stroke-width="1"/>
<rect x="260.28" y="448.8" width="3.1" height="21.15" fill="#fff" stroke="#1a1a1a" stroke-width="1"/>
<rect x="265.28" y="448.8" width="3.4" height="21.15" fill="#fff" stroke="#b23a48" stroke-width="1"/>
<rect x="271.08" y="448.2" width="3.1" height="21.75" fill="#fff" stroke="#a8a8a8" stroke-width="1"/>
<rect x="275.68" y="451.3" width="3.4" height="18.65" fill="#fff" stroke="#2c3590" stroke-width="1"/>
<rect x="284.2" y="452.3" width="3.1" height="17.65" fill="#fff" stroke="#1a1a1a" stroke-width="1"/>
<rect x="289.2" y="449.1" width="3.4" height="20.85" fill="#fff" stroke="#b23a48" stroke-width="1"/>
<rect x="295" y="438.5" width="3.1" height="31.45" fill="#fff" stroke="#a8a8a8" stroke-width="1"/>
<rect x="299.6" y="450.8" width="3.4" height="19.15" fill="#fff" stroke="#2c3590" stroke-width="1"/>
<line x1="301.3" y1="448" x2="301.3" y2="450.3" stroke="#2c3590" stroke-width="1"/>
<line x1="299.8" y1="448" x2="302.8" y2="448" stroke="#2c3590" stroke-width="1"/>
<rect x="308.12" y="452.3" width="3.1" height="17.65" fill="#fff" stroke="#1a1a1a" stroke-width="1"/>
<rect x="313.12" y="466.5" width="3.4" height="3.45" fill="#fff" stroke="#b23a48" stroke-width="1"/>
<rect x="318.92" y="450.2" width="3.1" height="19.75" fill="#fff" stroke="#a8a8a8" stroke-width="1"/>
<rect x="47.65" y="389.65" width="1.9" height="1.9" fill="#111" stroke="none" stroke-width="1"/>
<rect x="50.75" y="389.65" width="1.9" height="1.9" fill="#111" stroke="none" stroke-width="1"/>
<rect x="53.85" y="389.65" width="1.9" height="1.9" fill="#111" stroke="none" stroke-width="1"/>
<rect x="74.67" y="408.35" width="1.9" height="1.9" fill="#111" stroke="none" stroke-width="1"/>
<rect x="85.07" y="404.05" width="1.9" height="1.9" fill="#111" stroke="none" stroke-width="1"/>
<rect x="95.49" y="407.45" width="1.9" height="1.9" fill="#111" stroke="none" stroke-width="1"/>
<rect x="98.59" y="407.45" width="1.9" height="1.9" fill="#111" stroke="none" stroke-width="1"/>
<rect x="101.69" y="407.45" width="1.9" height="1.9" fill="#111" stroke="none" stroke-width="1"/>
<rect x="105.89" y="407.05" width="1.9" height="1.9" fill="#111" stroke="none" stroke-width="1"/>
<rect x="108.99" y="407.05" width="1.9" height="1.9" fill="#111" stroke="none" stroke-width="1"/>
<rect x="112.09" y="407.05" width="1.9" height="1.9" fill="#111" stroke="none" stroke-width="1"/>
<rect x="119.41" y="404.95" width="1.9" height="1.9" fill="#111" stroke="none" stroke-width="1"/>
<rect x="122.51" y="404.95" width="1.9" height="1.9" fill="#111" stroke="none" stroke-width="1"/>
<rect x="125.61" y="404.95" width="1.9" height="1.9" fill="#111" stroke="none" stroke-width="1"/>
<rect x="131.36" y="409.25" width="1.9" height="1.9" fill="#111" stroke="none" stroke-width="1"/>
<rect x="134.46" y="409.25" width="1.9" height="1.9" fill="#111" stroke="none" stroke-width="1"/>
<rect x="153.73" y="414.65" width="1.9" height="1.9" fill="#111" stroke="none" stroke-width="1"/>
<rect x="156.83" y="414.65" width="1.9" height="1.9" fill="#111" stroke="none" stroke-width="1"/>
<rect x="159.93" y="414.65" width="1.9" height="1.9" fill="#111" stroke="none" stroke-width="1"/>
<rect x="194.27" y="427.35" width="1.9" height="1.9" fill="#111" stroke="none" stroke-width="1"/>
<rect x="238.2" y="377" width="8.2" height="3.4" fill="#fff" stroke="#1a1a1a" stroke-width="1.1" rx="1.2"/>
<text x="250.8" y="381" font-size="6.4" fill="#222">Control BiTE</text>
<rect x="238.2" y="386.2" width="8.2" height="3.4" fill="#fff" stroke="#b23a48" stroke-width="1.1" rx="1.2"/>
<text x="250.8" y="390.2" font-size="6.4" fill="#222">FAP BiTE</text>
<rect x="238.2" y="394.9" width="8.2" height="3.4" fill="#fff" stroke="#a8a8a8" stroke-width="1.1" rx="1.2"/>
<text x="250.8" y="398.9" font-size="6.4" fill="#222">EnAd-CMV-control-BiTE</text>
<rect x="238.2" y="403.9" width="8.2" height="3.4" fill="#fff" stroke="#2c3590" stroke-width="1.1" rx="1.2"/>
<text x="250.8" y="407.9" font-size="6.4" fill="#222">EnAd-CMV-FAP-BiTE</text>
<text transform="translate(362.8 372.4) scale(0.9 1)" font-size="13.3" fill="#000" stroke="#000" stroke-width="0.55">I</text>
<line x1="394.4" y1="378" x2="394.4" y2="472.4" stroke="#222" stroke-width="1"/>
<line x1="392.2" y1="471.9" x2="394.4" y2="471.9" stroke="#222" stroke-width="1"/>
<text x="391.1" y="474.72" font-size="7" text-anchor="end" fill="#222">0.0</text>
<line x1="392.2" y1="440.6" x2="394.4" y2="440.6" stroke="#222" stroke-width="1"/>
<text x="391.1" y="443.42" font-size="7" text-anchor="end" fill="#222">0.5</text>
<line x1="392.2" y1="409.3" x2="394.4" y2="409.3" stroke="#222" stroke-width="1"/>
<text x="391.1" y="412.12" font-size="7" text-anchor="end" fill="#222">1.0</text>
<line x1="392.2" y1="378" x2="394.4" y2="378" stroke="#222" stroke-width="1"/>
<text x="391.1" y="380.82" font-size="7" text-anchor="end" fill="#222">1.5</text>
<line x1="393.9" y1="471.9" x2="497.2" y2="471.9" stroke="#222" stroke-width="1"/>
<line x1="403.4" y1="471.9" x2="403.4" y2="474.1" stroke="#222" stroke-width="1"/>
<line x1="420.3" y1="471.9" x2="420.3" y2="474.1" stroke="#222" stroke-width="1"/>
<line x1="437.2" y1="471.9" x2="437.2" y2="474.1" stroke="#222" stroke-width="1"/>
<line x1="454.1" y1="471.9" x2="454.1" y2="474.1" stroke="#222" stroke-width="1"/>
<line x1="471" y1="471.9" x2="471" y2="474.1" stroke="#222" stroke-width="1"/>
<line x1="487.9" y1="471.9" x2="487.9" y2="474.1" stroke="#222" stroke-width="1"/>
<text transform="translate(405.2 482.4) rotate(-45) scale(0.93 1)" font-size="7.3" text-anchor="end" fill="#222" stroke="#222" stroke-width="0.11">Untreated</text>
<text transform="translate(422.1 482.4) rotate(-45) scale(0.93 1)" font-size="7.3" text-anchor="end" fill="#222" stroke="#222" stroke-width="0.11">EnAd</text>
<text transform="translate(439 482.4) rotate(-45) scale(0.93 1)" font-size="7.3" text-anchor="end" fill="#222" stroke="#222" stroke-width="0.11">EnAd-CMV-control-BiTE</text>
<text transform="translate(455.9 482.4) rotate(-45) scale(0.93 1)" font-size="7.3" text-anchor="end" fill="#222" stroke="#222" stroke-width="0.11">EnAd-CMV-FAP-BiTE</text>
<text transform="translate(472.8 482.4) rotate(-45) scale(0.93 1)" font-size="7.3" text-anchor="end" fill="#222" stroke="#222" stroke-width="0.11">EnAd-SA-control-BiTE</text>
<text transform="translate(489.7 482.4) rotate(-45) scale(0.93 1)" font-size="7.3" text-anchor="end" fill="#222" stroke="#222" stroke-width="0.11">EnAd-SA-FAP-BiTE</text>
<text x="374.4" y="424.2" font-size="8" text-anchor="middle" fill="#222" transform="rotate(-90 374.4 424.2)">TGF&#946; (fold change)</text>
<line x1="403.4" y1="394.6" x2="403.4" y2="422" stroke="#9b1535" stroke-width="1.2"/>
<line x1="400.4" y1="394.6" x2="406.4" y2="394.6" stroke="#9b1535" stroke-width="1.2"/>
<line x1="400.4" y1="422" x2="406.4" y2="422" stroke="#9b1535" stroke-width="1.2"/>
<polygon points="401.2,396.12 405.6,396.12 403.4,392.6" fill="#9b1535"/>
<polygon points="401.2,422.82 405.6,422.82 403.4,419.3" fill="#9b1535"/>
<circle cx="401.4" cy="406.5" r="1.9" fill="#111"/>
<circle cx="405.4" cy="407" r="1.9" fill="#26306e"/>
<line x1="397.65" y1="408.5" x2="409.15" y2="408.5" stroke="#111" stroke-width="1.3"/>
<line x1="397.65" y1="409.6" x2="409.15" y2="409.6" stroke="#26306e" stroke-width="1.3"/>
<circle cx="400.4" cy="410" r="1.9" fill="#26306e"/>
<circle cx="405.9" cy="410.5" r="1.9" fill="#3a50a0"/>
<circle cx="403.4" cy="411.5" r="1.9" fill="#111"/>
<line x1="397.65" y1="411" x2="409.15" y2="411" stroke="#3a50a0" stroke-width="1.3"/>
<line x1="420.3" y1="390.6" x2="420.3" y2="430.4" stroke="#111" stroke-width="1.2"/>
<line x1="417.3" y1="390.6" x2="423.3" y2="390.6" stroke="#111" stroke-width="1.2"/>
<line x1="417.3" y1="430.4" x2="423.3" y2="430.4" stroke="#111" stroke-width="1.2"/>
<circle cx="420.3" cy="390.6" r="1.9" fill="#111"/>
<circle cx="420.3" cy="393.5" r="1.9" fill="#9b1535"/>
<line x1="414.55" y1="399" x2="426.05" y2="399" stroke="#111" stroke-width="1.3"/>
<polygon points="418.6,405.58 423,405.58 420.8,409.1" fill="#9b1535"/>
<line x1="414.55" y1="412.5" x2="426.05" y2="412.5" stroke="#26306e" stroke-width="1.3"/>
<circle cx="417.8" cy="412" r="1.9" fill="#26306e"/>
<circle cx="422.8" cy="413" r="1.9" fill="#3a50a0"/>
<line x1="414.55" y1="414" x2="426.05" y2="414" stroke="#3a50a0" stroke-width="1.3"/>
<circle cx="422.3" cy="422" r="1.9" fill="#111"/>
<circle cx="420.3" cy="424" r="1.9" fill="#111"/>
<circle cx="435" cy="402.6" r="1.9" fill="#9b1535"/>
<circle cx="439.4" cy="402.6" r="1.9" fill="#111"/>
<line x1="431.45" y1="404" x2="442.95" y2="404" stroke="#111" stroke-width="1.3"/>
<line x1="431.45" y1="405.8" x2="442.95" y2="405.8" stroke="#9b1535" stroke-width="1.3"/>
<circle cx="437.2" cy="409.5" r="1.9" fill="#9b1535"/>
<line x1="431.45" y1="409.7" x2="442.95" y2="409.7" stroke="#111" stroke-width="1.3"/>
<line x1="431.45" y1="413.8" x2="442.95" y2="413.8" stroke="#3a50a0" stroke-width="1.3"/>
<circle cx="436.2" cy="415" r="1.9" fill="#26306e"/>
<line x1="431.45" y1="415.9" x2="442.95" y2="415.9" stroke="#26306e" stroke-width="1.3"/>
<line x1="437.2" y1="402.6" x2="437.2" y2="424.3" stroke="#111" stroke-width="1.2"/>
<line x1="434.2" y1="402.6" x2="440.2" y2="402.6" stroke="#111" stroke-width="1.2"/>
<line x1="434.2" y1="424.3" x2="440.2" y2="424.3" stroke="#111" stroke-width="1.2"/>
<polygon points="435,422.98 439.4,422.98 437.2,426.5" fill="#111"/>
<circle cx="455.1" cy="441.6" r="1.9" fill="#3a50a0"/>
<line x1="448.35" y1="443.5" x2="459.85" y2="443.5" stroke="#3a50a0" stroke-width="1.3"/>
<circle cx="452.1" cy="445.5" r="1.9" fill="#26306e"/>
<circle cx="455.6" cy="447" r="1.9" fill="#9b1535"/>
<circle cx="453.1" cy="448.5" r="1.9" fill="#5a3a8a"/>
<circle cx="451.6" cy="450" r="1.9" fill="#111"/>
<circle cx="456.1" cy="451" r="1.9" fill="#26306e"/>
<line x1="448.35" y1="450" x2="459.85" y2="450" stroke="#111" stroke-width="1.3"/>
<line x1="448.35" y1="454" x2="459.85" y2="454" stroke="#111" stroke-width="1.3"/>
<circle cx="454.1" cy="453" r="1.9" fill="#111"/>
<line x1="454.1" y1="443.5" x2="454.1" y2="459.7" stroke="#111" stroke-width="1.2"/>
<line x1="451.1" y1="443.5" x2="457.1" y2="443.5" stroke="#111" stroke-width="1.2"/>
<line x1="451.1" y1="459.7" x2="457.1" y2="459.7" stroke="#111" stroke-width="1.2"/>
<polygon points="451.9,458.38 456.3,458.38 454.1,461.9" fill="#111"/>
<circle cx="469" cy="392.3" r="1.9" fill="#9b1535"/>
<circle cx="473" cy="392.3" r="1.9" fill="#111"/>
<circle cx="468.5" cy="396.5" r="1.9" fill="#111"/>
<line x1="465.25" y1="399" x2="476.75" y2="399" stroke="#111" stroke-width="1.3"/>
<line x1="465.25" y1="401.8" x2="476.75" y2="401.8" stroke="#111" stroke-width="1.3"/>
<line x1="465.25" y1="405" x2="476.75" y2="405" stroke="#9b1535" stroke-width="1.3"/>
<circle cx="472.5" cy="403" r="1.9" fill="#9b1535"/>
<circle cx="472.5" cy="407" r="1.9" fill="#3a50a0"/>
<circle cx="470" cy="409.5" r="1.9" fill="#26306e"/>
<line x1="465.25" y1="407.5" x2="476.75" y2="407.5" stroke="#3a50a0" stroke-width="1.3"/>
<circle cx="471.5" cy="412" r="1.9" fill="#3a50a0"/>
<line x1="471" y1="392.3" x2="471" y2="424" stroke="#111" stroke-width="1.2"/>
<line x1="468" y1="392.3" x2="474" y2="392.3" stroke="#111" stroke-width="1.2"/>
<line x1="468" y1="424" x2="474" y2="424" stroke="#111" stroke-width="1.2"/>
<circle cx="471" cy="424" r="1.9" fill="#111"/>
<line x1="487.9" y1="429.6" x2="487.9" y2="432" stroke="#9b1535" stroke-width="1.2"/>
<line x1="484.9" y1="429.6" x2="490.9" y2="429.6" stroke="#9b1535" stroke-width="1.2"/>
<line x1="484.9" y1="432" x2="490.9" y2="432" stroke="#9b1535" stroke-width="1.2"/>
<line x1="482.15" y1="429.6" x2="493.65" y2="429.6" stroke="#9b1535" stroke-width="1.3"/>
<circle cx="486.4" cy="433.5" r="1.9" fill="#3a50a0"/>
<circle cx="489.4" cy="435.5" r="1.9" fill="#26306e"/>
<line x1="482.15" y1="437.6" x2="493.65" y2="437.6" stroke="#111" stroke-width="1.3"/>
<line x1="482.15" y1="440.4" x2="493.65" y2="440.4" stroke="#111" stroke-width="1.3"/>
<circle cx="485.9" cy="439" r="1.9" fill="#111"/>
<circle cx="490.4" cy="442" r="1.9" fill="#3a50a0"/>
<circle cx="488.4" cy="444" r="1.9" fill="#26306e"/>
<circle cx="486.4" cy="446.2" r="1.9" fill="#5a3a8a"/>
<circle cx="489.9" cy="445.5" r="1.9" fill="#3a50a0"/>
<rect x="451.6" y="367.35" width="1.9" height="1.9" fill="#26306e" stroke="none" stroke-width="1"/>
<rect x="454.7" y="367.35" width="1.9" height="1.9" fill="#26306e" stroke="none" stroke-width="1"/>
<rect x="450.05" y="372.65" width="1.9" height="1.9" fill="#3a50a0" stroke="none" stroke-width="1"/>
<rect x="453.15" y="372.65" width="1.9" height="1.9" fill="#3a50a0" stroke="none" stroke-width="1"/>
<rect x="456.25" y="372.65" width="1.9" height="1.9" fill="#3a50a0" stroke="none" stroke-width="1"/>
<rect x="450.05" y="377.95" width="1.9" height="1.9" fill="#9b1535" stroke="none" stroke-width="1"/>
<rect x="453.15" y="377.95" width="1.9" height="1.9" fill="#9b1535" stroke="none" stroke-width="1"/>
<rect x="456.25" y="377.95" width="1.9" height="1.9" fill="#9b1535" stroke="none" stroke-width="1"/>
<rect x="486.95" y="366.75" width="1.9" height="1.9" fill="#26306e" stroke="none" stroke-width="1"/>
<rect x="483.85" y="372.05" width="1.9" height="1.9" fill="#3a50a0" stroke="none" stroke-width="1"/>
<rect x="486.95" y="372.05" width="1.9" height="1.9" fill="#3a50a0" stroke="none" stroke-width="1"/>
<rect x="490.05" y="372.05" width="1.9" height="1.9" fill="#3a50a0" stroke="none" stroke-width="1"/>
<rect x="485.4" y="377.15" width="1.9" height="1.9" fill="#9b1535" stroke="none" stroke-width="1"/>
<rect x="488.5" y="377.15" width="1.9" height="1.9" fill="#9b1535" stroke="none" stroke-width="1"/>
</svg>
</body></html>
